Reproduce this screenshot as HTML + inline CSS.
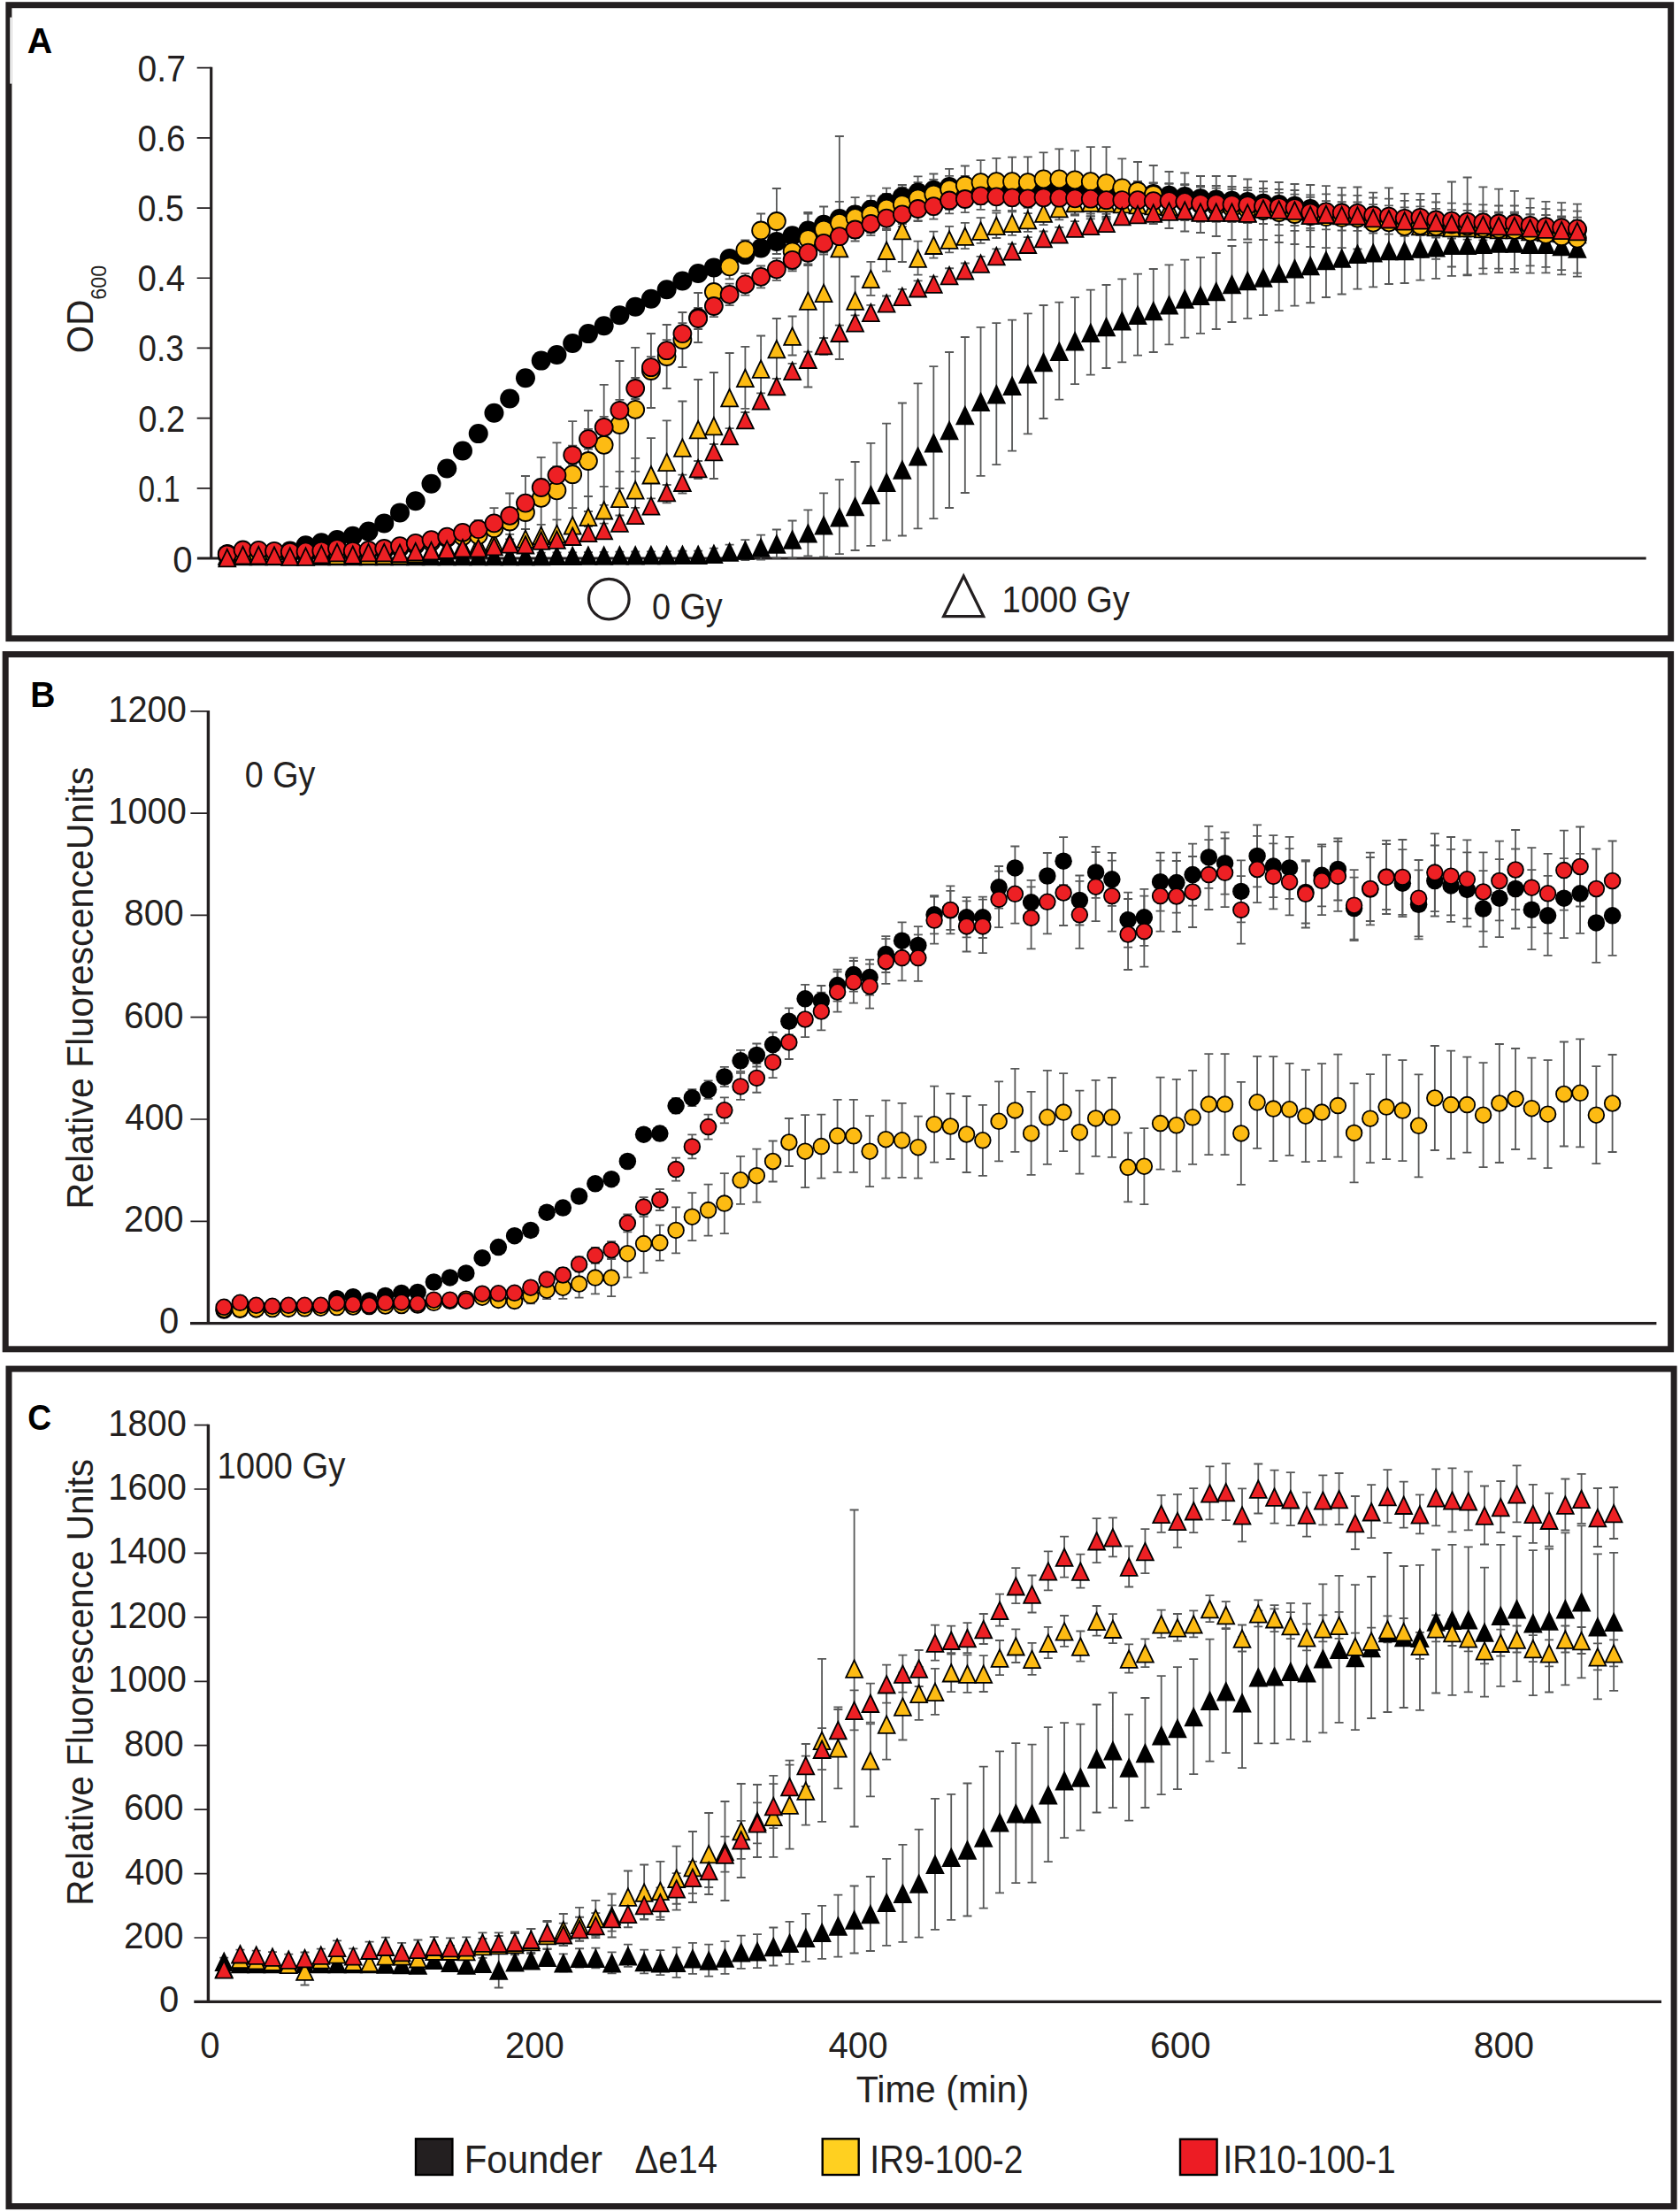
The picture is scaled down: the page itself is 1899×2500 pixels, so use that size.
<!DOCTYPE html><html><head><meta charset="utf-8"><title>Growth and fluorescence curves</title><style>html,body{margin:0;padding:0;background:#fff;overflow:hidden}svg{display:block}</style></head><body>
<svg width="1899" height="2500" viewBox="0 0 1899 2500" font-family="'Liberation Sans', Arial, sans-serif" fill="#231f20">
<rect width="1899" height="2500" fill="#fff"/>
<rect x="9.9" y="5.7" width="1878.75" height="715.90" fill="none" stroke="#231f20" stroke-width="7"/>
<rect x="11.3" y="19.6" width="2.2" height="75" fill="#fff"/>
<rect x="6.2" y="739.5" width="1882.40" height="785.30" fill="none" stroke="#231f20" stroke-width="7"/>
<rect x="10.0" y="1547.1" width="1882.10" height="946.50" fill="none" stroke="#231f20" stroke-width="7"/>
<path d="M238.7 75.85000000000001V631.0M222.9 631.0H1860.7" stroke="#231f20" stroke-width="3.2" fill="none"/>
<path d="M222.7 551.81H238.7M222.7 472.63H238.7M222.7 393.44H238.7M222.7 314.26H238.7M222.7 235.07H238.7M222.7 155.89H238.7M222.7 76.70H238.7" stroke="#231f20" stroke-width="1.7" fill="none"/>
<text transform="translate(156.34,566.81) scale(0.8025,1)" font-size="42.30" font-weight="normal" >0.1</text>
<text transform="translate(156.17,487.63) scale(0.9038,1)" font-size="42.30" font-weight="normal" >0.2</text>
<text transform="translate(156.21,408.44) scale(0.8807,1)" font-size="42.30" font-weight="normal" >0.3</text>
<text transform="translate(155.56,329.26) scale(0.9098,1)" font-size="42.30" font-weight="normal" >0.4</text>
<text transform="translate(155.59,250.07) scale(0.8897,1)" font-size="42.30" font-weight="normal" >0.5</text>
<text transform="translate(155.55,170.89) scale(0.9168,1)" font-size="42.30" font-weight="normal" >0.6</text>
<text transform="translate(155.54,91.70) scale(0.9238,1)" font-size="42.30" font-weight="normal" >0.7</text>
<text transform="translate(195.29,646.50) scale(0.9506,1)" font-size="42.30" font-weight="normal" >0</text>
<text transform="translate(30.81,60.40) scale(0.9826,1)" font-size="40.10" font-weight="bold" fill="#000" >A</text>
<text transform="translate(105.20,399.22) rotate(-90) scale(0.9490,1)" font-size="42.60" font-weight="normal" >OD</text>
<text transform="translate(119.70,338.87) rotate(-90) scale(0.9519,1)" font-size="24.60" font-weight="normal" >600</text>
<path d="M256.80 626.00V630.00M251.80 626.00H261.80M251.80 630.00H261.80M274.55 625.93V630.07M269.55 625.93H279.55M269.55 630.07H279.55M292.29 625.87V630.13M287.29 625.87H297.29M287.29 630.13H297.29M310.04 625.80V630.20M305.04 625.80H315.04M305.04 630.20H315.04M327.78 625.73V630.27M322.78 625.73H332.78M322.78 630.27H332.78M345.53 625.67V630.33M340.53 625.67H350.53M340.53 630.33H350.53M363.27 625.60V630.40M358.27 625.60H368.27M358.27 630.40H368.27M381.01 625.53V630.47M376.01 625.53H386.01M376.01 630.47H386.01M398.76 625.47V630.53M393.76 625.47H403.76M393.76 630.53H403.76M416.50 625.40V630.60M411.50 625.40H421.50M411.50 630.60H421.50M434.25 625.33V630.67M429.25 625.33H439.25M429.25 630.67H439.25M452.00 625.27V630.73M447.00 625.27H457.00M447.00 630.73H457.00M469.74 625.20V630.80M464.74 625.20H474.74M464.74 630.80H474.74M487.49 625.13V630.87M482.49 625.13H492.49M482.49 630.87H492.49M505.23 625.07V630.93M500.23 625.07H510.23M500.23 630.93H510.23M522.98 625.00V631.00M517.98 625.00H527.98M517.98 631.00H527.98M540.72 624.93V631.07M535.72 624.93H545.72M535.72 631.07H545.72M558.47 624.87V631.13M553.47 624.87H563.47M553.47 631.13H563.47M576.21 624.80V631.20M571.21 624.80H581.21M571.21 631.20H581.21M593.96 624.73V631.27M588.96 624.73H598.96M588.96 631.27H598.96M611.70 624.67V631.33M606.70 624.67H616.70M606.70 631.33H616.70M629.45 624.48V631.27M624.45 624.48H634.45M624.45 631.27H634.45M647.19 624.28V631.22M642.19 624.28H652.19M642.19 631.22H652.19M664.94 624.09V631.16M659.94 624.09H669.94M659.94 631.16H669.94M682.68 623.90V631.10M677.68 623.90H687.68M677.68 631.10H687.68M700.42 623.71V631.04M695.42 623.71H705.42M695.42 631.04H705.42M718.17 623.52V630.98M713.17 623.52H723.17M713.17 630.98H723.17M735.91 623.33V630.92M730.91 623.33H740.91M730.91 630.92H740.91M753.66 623.13V630.87M748.66 623.13H758.66M748.66 630.87H758.66M771.40 622.77V630.63M766.40 622.77H776.40M766.40 630.63H776.40M789.15 622.70V630.70M784.15 622.70H794.15M784.15 630.70H794.15M806.89 619.70V631.70M801.89 619.70H811.89M801.89 631.70H811.89M824.64 615.60V631.60M819.64 615.60H829.64M819.64 631.60H829.64M842.38 610.10V633.10M837.38 610.10H847.38M837.38 633.10H847.38M860.13 604.60V632.60M855.13 604.60H865.13M855.13 632.60H865.13M877.88 598.50V630.50M872.88 598.50H882.88M872.88 630.50H882.88M895.62 588.50V630.50M890.62 588.50H900.62M890.62 630.50H900.62M913.37 576.40V628.40M908.37 576.40H918.37M908.37 628.40H918.37M931.11 557.30V629.30M926.11 557.30H936.11M926.11 629.30H936.11M948.86 542.20V626.20M943.86 542.20H953.86M943.86 626.20H953.86M966.60 522.00V622.00M961.60 522.00H971.60M961.60 622.00H971.60M984.35 500.90V616.90M979.35 500.90H989.35M979.35 616.90H989.35M1002.09 478.70V610.70M997.09 478.70H1007.09M997.09 610.70H1007.09M1019.84 455.50V605.50M1014.84 455.50H1024.84M1014.84 605.50H1024.84M1037.58 433.40V597.40M1032.58 433.40H1042.58M1032.58 597.40H1042.58M1055.33 414.20V586.20M1050.33 414.20H1060.33M1050.33 586.20H1060.33M1073.07 398.00V574.00M1068.07 398.00H1078.07M1068.07 574.00H1078.07M1090.82 381.00V557.00M1085.82 381.00H1095.82M1085.82 557.00H1095.82M1108.56 369.80V537.80M1103.56 369.80H1113.56M1103.56 537.80H1113.56M1126.31 365.20V525.20M1121.31 365.20H1131.31M1121.31 525.20H1131.31M1144.05 361.70V509.70M1139.05 361.70H1149.05M1139.05 509.70H1149.05M1161.80 354.40V490.40M1156.80 354.40H1166.80M1156.80 490.40H1166.80M1179.54 345.00V473.00M1174.54 345.00H1184.54M1174.54 473.00H1184.54M1197.29 341.70V451.70M1192.29 341.70H1202.29M1192.29 451.70H1202.29M1215.03 336.20V434.20M1210.03 336.20H1220.03M1210.03 434.20H1220.03M1232.78 327.70V423.70M1227.78 327.70H1237.78M1227.78 423.70H1237.78M1250.52 322.00V416.00M1245.52 322.00H1255.52M1245.52 416.00H1255.52M1268.27 315.40V409.40M1263.27 315.40H1273.27M1263.27 409.40H1273.27M1286.01 309.70V401.70M1281.01 309.70H1291.01M1281.01 401.70H1291.01M1303.76 304.00V398.00M1298.76 304.00H1308.76M1298.76 398.00H1308.76M1321.50 299.30V389.30M1316.50 299.30H1326.50M1316.50 389.30H1326.50M1339.25 293.60V381.60M1334.25 293.60H1344.25M1334.25 381.60H1344.25M1356.99 290.80V376.80M1351.99 290.80H1361.99M1351.99 376.80H1361.99M1374.74 286.00V372.00M1369.74 286.00H1379.74M1369.74 372.00H1379.74M1392.48 278.00V364.00M1387.48 278.00H1397.48M1387.48 364.00H1397.48M1410.22 274.17V359.83M1405.22 274.17H1415.22M1405.22 359.83H1415.22M1427.97 270.83V356.17M1422.97 270.83H1432.97M1422.97 356.17H1432.97M1445.71 266.10V351.10M1440.71 266.10H1450.71M1440.71 351.10H1450.71M1463.46 260.87V345.53M1458.46 260.87H1468.46M1458.46 345.53H1468.46M1481.20 257.93V342.27M1476.20 257.93H1486.20M1476.20 342.27H1486.20M1498.95 252.00V336.00M1493.95 252.00H1503.95M1493.95 336.00H1503.95M1516.69 250.50V332.50M1511.69 250.50H1521.69M1511.69 332.50H1521.69M1534.44 246.70V326.70M1529.44 246.70H1539.44M1529.44 326.70H1539.44M1552.18 246.40V324.40M1547.18 246.40H1557.18M1547.18 324.40H1557.18M1569.93 245.00V321.00M1564.93 245.00H1574.93M1564.93 321.00H1574.93M1587.67 246.00V320.00M1582.67 246.00H1592.67M1582.67 320.00H1592.67M1605.42 244.60V316.60M1600.42 244.60H1610.42M1600.42 316.60H1610.42M1623.16 243.80V314.80M1618.16 243.80H1628.16M1618.16 314.80H1628.16M1640.91 241.90V311.90M1635.91 241.90H1645.91M1635.91 311.90H1645.91M1658.65 242.40V311.40M1653.65 242.40H1663.65M1653.65 311.40H1663.65M1676.40 241.70V309.70M1671.40 241.70H1681.40M1671.40 309.70H1681.40M1694.14 240.83V308.17M1689.14 240.83H1699.14M1689.14 308.17H1699.14M1711.89 241.17V307.83M1706.89 241.17H1716.89M1706.89 307.83H1716.89M1729.63 242.70V308.70M1724.63 242.70H1734.63M1724.63 308.70H1734.63M1747.38 243.03V308.37M1742.38 243.03H1752.38M1742.38 308.37H1752.38M1765.12 245.77V310.43M1760.12 245.77H1770.12M1760.12 310.43H1770.12M1782.87 248.60V312.60M1777.87 248.60H1787.87M1777.87 312.60H1787.87" stroke="#575858" stroke-width="1.8" fill="none"/>
<path d="M256.80 624.00V630.00M251.80 624.00H261.80M251.80 630.00H261.80M274.55 623.93V630.20M269.55 623.93H279.55M269.55 630.20H279.55M292.29 623.86V630.39M287.29 623.86H297.29M287.29 630.39H297.29M310.04 623.79V630.59M305.04 623.79H315.04M305.04 630.59H315.04M327.78 623.72V630.78M322.78 623.72H332.78M322.78 630.78H332.78M345.53 623.65V630.98M340.53 623.65H350.53M340.53 630.98H350.53M363.27 623.58V631.17M358.27 623.58H368.27M358.27 631.17H368.27M381.01 623.50V631.37M376.01 623.50H386.01M376.01 631.37H386.01M398.76 623.43V631.57M393.76 623.43H403.76M393.76 631.57H403.76M416.50 623.13V631.53M411.50 623.13H421.50M411.50 631.53H421.50M434.25 622.83V631.50M429.25 622.83H439.25M429.25 631.50H439.25M452.00 622.53V631.47M447.00 622.53H457.00M447.00 631.47H457.00M469.74 620.40V629.60M464.74 620.40H474.74M464.74 629.60H474.74M487.49 616.27V625.73M482.49 616.27H492.49M482.49 625.73H492.49M505.23 614.13V623.87M500.23 614.13H510.23M500.23 623.87H510.23M522.98 612.00V622.00M517.98 612.00H527.98M517.98 622.00H527.98M540.72 608.60V621.40M535.72 608.60H545.72M535.72 621.40H545.72M558.47 604.20V619.80M553.47 604.20H563.47M553.47 619.80H563.47M576.21 603.80V622.20M571.21 603.80H581.21M571.21 622.20H581.21M593.96 598.00V619.20M588.96 598.00H598.96M588.96 619.20H598.96M611.70 592.80V616.80M606.70 592.80H616.70M606.70 616.80H616.70M629.45 587.30V618.50M624.45 587.30H634.45M624.45 618.50H634.45M647.19 574.10V612.50M642.19 574.10H652.19M642.19 612.50H652.19M664.94 561.00V606.60M659.94 561.00H669.94M659.94 606.60H669.94M682.68 549.80V602.60M677.68 549.80H687.68M677.68 602.60H687.68M700.42 532.90V592.90M695.42 532.90H705.42M695.42 592.90H705.42M718.17 517.80V588.80M713.17 517.80H723.17M713.17 588.80H723.17M735.91 495.20V577.20M730.91 495.20H740.91M730.91 577.20H740.91M753.66 475.40V568.40M748.66 475.40H758.66M748.66 568.40H758.66M771.40 453.50V557.50M766.40 453.50H776.40M766.40 557.50H776.40M789.15 429.00V541.00M784.15 429.00H794.15M784.15 541.00H794.15M806.89 421.00V541.00M801.89 421.00H811.89M801.89 541.00H811.89M824.64 399.00V499.00M819.64 399.00H829.64M819.64 499.00H829.64M842.38 391.80V461.80M837.38 391.80H847.38M837.38 461.80H847.38M860.13 379.50V453.50M855.13 379.50H865.13M855.13 453.50H865.13M877.88 360.00V428.00M872.88 360.00H882.88M872.88 428.00H882.88M895.62 357.50V401.50M890.62 357.50H900.62M890.62 401.50H900.62M913.37 241.50V437.50M908.37 241.50H918.37M908.37 437.50H918.37M931.11 260.80V400.80M926.11 260.80H936.11M926.11 400.80H936.11M948.86 154.00V406.00M943.86 154.00H953.86M943.86 406.00H953.86M966.60 312.50V366.50M961.60 312.50H971.60M961.60 366.50H971.60M984.35 295.80V333.80M979.35 295.80H989.35M979.35 333.80H989.35M1002.09 258.70V306.70M997.09 258.70H1007.09M997.09 306.70H1007.09M1019.84 224.00V296.00M1014.84 224.00H1024.84M1014.84 296.00H1024.84M1037.58 272.60V310.60M1032.58 272.60H1042.58M1032.58 310.60H1042.58M1055.33 261.70V291.70M1050.33 261.70H1060.33M1050.33 291.70H1060.33M1073.07 255.80V285.40M1068.07 255.80H1078.07M1068.07 285.40H1078.07M1090.82 251.90V281.10M1085.82 251.90H1095.82M1085.82 281.10H1095.82M1108.56 246.10V274.90M1103.56 246.10H1113.56M1103.56 274.90H1113.56M1126.31 240.60V269.00M1121.31 240.60H1131.31M1121.31 269.00H1131.31M1144.05 237.90V265.90M1139.05 237.90H1149.05M1139.05 265.90H1149.05M1161.80 234.30V261.90M1156.80 234.30H1166.80M1156.80 261.90H1166.80M1179.54 226.90V254.10M1174.54 226.90H1184.54M1174.54 254.10H1184.54M1197.29 221.60V248.40M1192.29 221.60H1202.29M1192.29 248.40H1202.29M1215.03 215.80V242.20M1210.03 215.80H1220.03M1210.03 242.20H1220.03M1232.78 215.50V241.50M1227.78 215.50H1237.78M1227.78 241.50H1237.78M1250.52 216.20V241.80M1245.52 216.20H1255.52M1245.52 241.80H1255.52M1268.27 217.40V242.60M1263.27 217.40H1273.27M1263.27 242.60H1273.27M1286.01 218.60V243.40M1281.01 218.60H1291.01M1281.01 243.40H1291.01M1303.76 219.80V244.20M1298.76 219.80H1308.76M1298.76 244.20H1308.76M1321.50 221.00V245.00M1316.50 221.00H1326.50M1316.50 245.00H1326.50M1339.25 225.18V249.02M1334.25 225.18H1344.25M1334.25 249.02H1344.25M1356.99 227.15V250.85M1351.99 227.15H1361.99M1351.99 250.85H1361.99M1374.74 227.23V250.77M1369.74 227.23H1379.74M1369.74 250.77H1379.74M1392.48 227.31V250.69M1387.48 227.31H1397.48M1387.48 250.69H1397.48M1410.22 228.38V251.62M1405.22 228.38H1415.22M1405.22 251.62H1415.22M1427.97 223.46V246.54M1422.97 223.46H1432.97M1422.97 246.54H1432.97M1445.71 224.54V247.46M1440.71 224.54H1450.71M1440.71 247.46H1450.71M1463.46 225.62V248.38M1458.46 225.62H1468.46M1458.46 248.38H1468.46M1481.20 230.99V253.61M1476.20 230.99H1486.20M1476.20 253.61H1486.20M1498.95 230.07V252.53M1493.95 230.07H1503.95M1493.95 252.53H1503.95M1516.69 231.35V253.65M1511.69 231.35H1521.69M1511.69 253.65H1521.69M1534.44 231.72V253.88M1529.44 231.72H1539.44M1529.44 253.88H1539.44M1552.18 234.50V256.50M1547.18 234.50H1557.18M1547.18 256.50H1557.18M1569.93 235.78V257.62M1564.93 235.78H1574.93M1564.93 257.62H1574.93M1587.67 237.95V259.65M1582.67 237.95H1592.67M1582.67 259.65H1592.67M1605.42 244.23V265.77M1600.42 244.23H1610.42M1600.42 265.77H1610.42M1623.16 245.31V266.69M1618.16 245.31H1628.16M1618.16 266.69H1628.16M1640.91 246.38V267.62M1635.91 246.38H1645.91M1635.91 267.62H1645.91M1658.65 246.46V267.54M1653.65 246.46H1663.65M1653.65 267.54H1663.65M1676.40 247.54V268.46M1671.40 247.54H1681.40M1671.40 268.46H1681.40M1694.14 248.62V269.38M1689.14 248.62H1699.14M1689.14 269.38H1699.14M1711.89 248.69V269.31M1706.89 248.69H1716.89M1706.89 269.31H1716.89M1729.63 250.77V271.23M1724.63 250.77H1734.63M1724.63 271.23H1734.63M1747.38 251.85V272.15M1742.38 251.85H1752.38M1742.38 272.15H1752.38M1765.12 252.92V273.08M1760.12 252.92H1770.12M1760.12 273.08H1770.12M1782.87 254.00V274.00M1777.87 254.00H1787.87M1777.87 274.00H1787.87" stroke="#575858" stroke-width="1.8" fill="none"/>
<path d="M256.80 624.00V628.00M251.80 624.00H261.80M251.80 628.00H261.80M274.55 623.40V627.60M269.55 623.40H279.55M269.55 627.60H279.55M292.29 622.80V627.20M287.29 622.80H297.29M287.29 627.20H297.29M310.04 621.70V626.30M305.04 621.70H315.04M305.04 626.30H315.04M327.78 620.10V624.90M322.78 620.10H332.78M322.78 624.90H332.78M345.53 613.70V618.70M340.53 613.70H350.53M340.53 618.70H350.53M363.27 610.70V615.90M358.27 610.70H368.27M358.27 615.90H368.27M381.01 607.40V612.80M376.01 607.40H386.01M376.01 612.80H386.01M398.76 602.90V608.50M393.76 602.90H403.76M393.76 608.50H403.76M416.50 597.70V603.50M411.50 597.70H421.50M411.50 603.50H421.50M434.25 588.40V594.40M429.25 588.40H439.25M429.25 594.40H439.25M452.00 576.30V582.50M447.00 576.30H457.00M447.00 582.50H457.00M469.74 563.10V569.50M464.74 563.10H474.74M464.74 569.50H474.74M487.49 543.40V550.00M482.49 543.40H492.49M482.49 550.00H492.49M505.23 526.10V532.90M500.23 526.10H510.23M500.23 532.90H510.23M522.98 506.00V513.00M517.98 506.00H527.98M517.98 513.00H527.98M540.72 486.50V493.70M535.72 486.50H545.72M535.72 493.70H545.72M558.47 463.00V470.40M553.47 463.00H563.47M553.47 470.40H563.47M576.21 446.70V454.30M571.21 446.70H581.21M571.21 454.30H581.21M593.96 423.30V431.10M588.96 423.30H598.96M588.96 431.10H598.96M611.70 403.60V411.60M606.70 403.60H616.70M606.70 411.60H616.70M629.45 396.87V405.13M624.45 396.87H634.45M624.45 405.13H634.45M647.19 383.73V392.27M642.19 383.73H652.19M642.19 392.27H652.19M664.94 372.70V381.50M659.94 372.70H669.94M659.94 381.50H669.94M682.68 363.67V372.73M677.68 363.67H687.68M677.68 372.73H687.68M700.42 351.53V360.87M695.42 351.53H705.42M695.42 360.87H705.42M718.17 341.90V351.50M713.17 341.90H723.17M713.17 351.50H723.17M735.91 332.77V342.63M730.91 332.77H740.91M730.91 342.63H740.91M753.66 322.13V332.27M748.66 322.13H758.66M748.66 332.27H758.66M771.40 312.30V322.70M766.40 312.30H776.40M766.40 322.70H776.40M789.15 303.67V314.33M784.15 303.67H794.15M784.15 314.33H794.15M806.89 296.93V307.87M801.89 296.93H811.89M801.89 307.87H811.89M824.64 286.30V297.50M819.64 286.30H829.64M819.64 297.50H829.64M842.38 282.37V293.83M837.38 282.37H847.38M837.38 293.83H847.38M860.13 274.63V286.37M855.13 274.63H865.13M855.13 286.37H865.13M877.88 266.90V278.90M872.88 266.90H882.88M872.88 278.90H882.88M895.62 259.60V272.80M890.62 259.60H900.62M890.62 272.80H900.62M913.37 253.30V267.70M908.37 253.30H918.37M908.37 267.70H918.37M931.11 246.00V261.60M926.11 246.00H936.11M926.11 261.60H936.11M948.86 238.70V255.50M943.86 238.70H953.86M943.86 255.50H953.86M966.60 233.40V251.40M961.60 233.40H971.60M961.60 251.40H971.60M984.35 227.10V246.30M979.35 227.10H989.35M979.35 246.30H989.35M1002.09 218.80V239.20M997.09 218.80H1007.09M997.09 239.20H1007.09M1019.84 211.60V233.20M1014.84 211.60H1024.84M1014.84 233.20H1024.84M1037.58 206.20V229.00M1032.58 206.20H1042.58M1032.58 229.00H1042.58M1055.33 202.80V226.80M1050.33 202.80H1060.33M1050.33 226.80H1060.33M1073.07 198.95V223.05M1068.07 198.95H1078.07M1068.07 223.05H1078.07M1090.82 198.90V223.10M1085.82 198.90H1095.82M1085.82 223.10H1095.82M1108.56 199.35V223.65M1103.56 199.35H1113.56M1103.56 223.65H1113.56M1126.31 199.80V224.20M1121.31 199.80H1131.31M1121.31 224.20H1131.31M1144.05 200.76V225.24M1139.05 200.76H1149.05M1139.05 225.24H1149.05M1161.80 201.71V226.29M1156.80 201.71H1166.80M1156.80 226.29H1166.80M1179.54 201.66V226.34M1174.54 201.66H1184.54M1174.54 226.34H1184.54M1197.29 201.61V226.39M1192.29 201.61H1202.29M1192.29 226.39H1202.29M1215.03 202.06V226.94M1210.03 202.06H1220.03M1210.03 226.94H1220.03M1232.78 202.51V227.49M1227.78 202.51H1237.78M1227.78 227.49H1237.78M1250.52 202.96V228.04M1245.52 202.96H1255.52M1245.52 228.04H1255.52M1268.27 203.91V229.09M1263.27 203.91H1273.27M1263.27 229.09H1273.27M1286.01 204.87V230.13M1281.01 204.87H1291.01M1281.01 230.13H1291.01M1303.76 206.32V231.68M1298.76 206.32H1308.76M1298.76 231.68H1308.76M1321.50 207.97V233.43M1316.50 207.97H1326.50M1316.50 233.43H1326.50M1339.25 209.22V234.78M1334.25 209.22H1344.25M1334.25 234.78H1344.25M1356.99 211.47V237.13M1351.99 211.47H1361.99M1351.99 237.13H1361.99M1374.74 212.62V238.38M1369.74 212.62H1379.74M1369.74 238.38H1379.74M1392.48 213.77V239.63M1387.48 213.77H1397.48M1387.48 239.63H1397.48M1410.22 215.02V240.98M1405.22 215.02H1415.22M1405.22 240.98H1415.22M1427.97 216.68V242.72M1422.97 216.68H1432.97M1422.97 242.72H1432.97M1445.71 217.93V244.07M1440.71 217.93H1450.71M1440.71 244.07H1450.71M1463.46 219.58V245.82M1458.46 219.58H1468.46M1458.46 245.82H1468.46M1481.20 222.83V249.17M1476.20 222.83H1486.20M1476.20 249.17H1486.20M1498.95 227.08V253.52M1493.95 227.08H1503.95M1493.95 253.52H1503.95M1516.69 228.23V254.77M1511.69 228.23H1521.69M1511.69 254.77H1521.69M1534.44 228.48V255.12M1529.44 228.48H1539.44M1529.44 255.12H1539.44M1552.18 231.13V257.87M1547.18 231.13H1557.18M1547.18 257.87H1557.18M1569.93 232.29V259.11M1564.93 232.29H1574.93M1564.93 259.11H1574.93M1587.67 234.34V261.26M1582.67 234.34H1592.67M1582.67 261.26H1592.67M1605.42 233.29V260.31M1600.42 233.29H1610.42M1600.42 260.31H1610.42M1623.16 235.94V263.06M1618.16 235.94H1628.16M1618.16 263.06H1628.16M1640.91 237.09V264.31M1635.91 237.09H1645.91M1635.91 264.31H1645.91M1658.65 237.94V265.26M1653.65 237.94H1663.65M1653.65 265.26H1663.65M1676.40 238.69V266.11M1671.40 238.69H1681.40M1671.40 266.11H1681.40M1694.14 239.74V267.26M1689.14 239.74H1699.14M1689.14 267.26H1699.14M1711.89 239.70V267.30M1706.89 239.70H1716.89M1706.89 267.30H1716.89M1729.63 242.05V269.75M1724.63 242.05H1734.63M1724.63 269.75H1734.63M1747.38 243.20V271.00M1742.38 243.20H1752.38M1742.38 271.00H1752.38M1765.12 244.45V272.35M1760.12 244.45H1770.12M1760.12 272.35H1770.12M1782.87 245.60V273.60M1777.87 245.60H1787.87M1777.87 273.60H1787.87" stroke="#575858" stroke-width="1.8" fill="none"/>
<path d="M256.80 625.00V631.00M251.80 625.00H261.80M251.80 631.00H261.80M274.55 624.42V630.58M269.55 624.42H279.55M269.55 630.58H279.55M292.29 623.83V630.17M287.29 623.83H297.29M287.29 630.17H297.29M310.04 623.25V629.75M305.04 623.25H315.04M305.04 629.75H315.04M327.78 622.67V629.33M322.78 622.67H332.78M322.78 629.33H332.78M345.53 622.08V628.92M340.53 622.08H350.53M340.53 628.92H350.53M363.27 621.30V628.30M358.27 621.30H368.27M358.27 628.30H368.27M381.01 620.52V627.68M376.01 620.52H386.01M376.01 627.68H386.01M398.76 619.73V627.07M393.76 619.73H403.76M393.76 627.07H403.76M416.50 618.95V626.45M411.50 618.95H421.50M411.50 626.45H421.50M434.25 618.17V625.83M429.25 618.17H439.25M429.25 625.83H439.25M452.00 615.08V622.92M447.00 615.08H457.00M447.00 622.92H457.00M469.74 612.00V620.00M464.74 612.00H474.74M464.74 620.00H474.74M487.49 606.50V618.50M482.49 606.50H492.49M482.49 618.50H492.49M505.23 600.00V616.00M500.23 600.00H510.23M500.23 616.00H510.23M522.98 596.00V616.00M517.98 596.00H527.98M517.98 616.00H527.98M540.72 587.80V621.80M535.72 587.80H545.72M535.72 621.80H545.72M558.47 574.10V620.10M553.47 574.10H563.47M553.47 620.10H563.47M576.21 557.50V621.50M571.21 557.50H581.21M571.21 621.50H581.21M593.96 538.00V620.00M588.96 538.00H598.96M588.96 620.00H598.96M611.70 516.90V608.90M606.70 516.90H616.70M606.70 608.90H616.70M629.45 500.30V608.30M624.45 500.30H634.45M624.45 608.30H634.45M647.19 476.20V596.20M642.19 476.20H652.19M642.19 596.20H652.19M664.94 464.00V578.00M659.94 464.00H669.94M659.94 578.00H669.94M682.68 434.90V570.90M677.68 434.90H687.68M677.68 570.90H687.68M700.42 408.00V552.00M695.42 408.00H705.42M695.42 552.00H705.42M718.17 392.90V532.90M713.17 392.90H723.17M713.17 532.90H723.17M735.91 377.00V461.00M730.91 377.00H740.91M730.91 461.00H740.91M753.66 367.00V439.00M748.66 367.00H758.66M748.66 439.00H758.66M771.40 353.00V415.00M766.40 353.00H776.40M766.40 415.00H776.40M789.15 331.00V387.00M784.15 331.00H794.15M784.15 387.00H794.15M806.89 310.00V350.00M801.89 310.00H811.89M801.89 350.00H811.89M824.64 287.40V315.40M819.64 287.40H829.64M819.64 315.40H829.64M842.38 271.40V293.40M837.38 271.40H847.38M837.38 293.40H847.38M860.13 241.50V279.50M855.13 241.50H865.13M855.13 279.50H865.13M877.88 213.00V287.00M872.88 213.00H882.88M872.88 287.00H882.88M895.62 264.30V304.30M890.62 264.30H900.62M890.62 304.30H900.62M913.37 240.00V300.00M908.37 240.00H918.37M908.37 300.00H918.37M931.11 233.50V285.50M926.11 233.50H936.11M926.11 285.50H936.11M948.86 227.90V275.90M943.86 227.90H953.86M943.86 275.90H953.86M966.60 223.20V269.20M961.60 223.20H971.60M961.60 269.20H971.60M984.35 221.40V263.40M979.35 221.40H989.35M979.35 263.40H989.35M1002.09 212.70V258.70M997.09 212.70H1007.09M997.09 258.70H1007.09M1019.84 209.00V253.00M1014.84 209.00H1024.84M1014.84 253.00H1024.84M1037.58 199.30V249.30M1032.58 199.30H1042.58M1032.58 249.30H1042.58M1055.33 196.50V242.50M1050.33 196.50H1060.33M1050.33 242.50H1060.33M1073.07 190.80V236.80M1068.07 190.80H1078.07M1068.07 236.80H1078.07M1090.82 187.50V231.50M1085.82 187.50H1095.82M1085.82 231.50H1095.82M1108.56 181.20V231.20M1103.56 181.20H1113.56M1103.56 231.20H1113.56M1126.31 178.95V231.45M1121.31 178.95H1131.31M1121.31 231.45H1131.31M1144.05 177.70V232.70M1139.05 177.70H1149.05M1139.05 232.70H1149.05M1161.80 177.45V234.95M1156.80 177.45H1166.80M1156.80 234.95H1166.80M1179.54 172.40V232.40M1174.54 172.40H1184.54M1174.54 232.40H1184.54M1197.29 168.40V236.40M1192.29 168.40H1202.29M1192.29 236.40H1202.29M1215.03 170.30V236.30M1210.03 170.30H1220.03M1210.03 236.30H1220.03M1232.78 166.20V244.20M1227.78 166.20H1237.78M1227.78 244.20H1237.78M1250.52 166.10V248.10M1245.52 166.10H1255.52M1245.52 248.10H1255.52M1268.27 179.30V245.30M1263.27 179.30H1273.27M1263.27 245.30H1273.27M1286.01 183.00V249.00M1281.01 183.00H1291.01M1281.01 249.00H1291.01M1303.76 187.00V253.00M1298.76 187.00H1308.76M1298.76 253.00H1308.76M1321.50 194.00V258.00M1316.50 194.00H1326.50M1316.50 258.00H1326.50M1339.25 195.50V261.50M1334.25 195.50H1344.25M1334.25 261.50H1344.25M1356.99 199.00V263.00M1351.99 199.00H1361.99M1351.99 263.00H1361.99M1374.74 199.00V267.00M1369.74 199.00H1379.74M1369.74 267.00H1379.74M1392.48 199.00V271.00M1387.48 199.00H1397.48M1387.48 271.00H1397.48M1410.22 202.50V270.50M1405.22 202.50H1415.22M1405.22 270.50H1415.22M1427.97 205.00V271.00M1422.97 205.00H1432.97M1422.97 271.00H1432.97M1445.71 206.00V274.00M1440.71 206.00H1450.71M1440.71 274.00H1450.71M1463.46 208.00V276.00M1458.46 208.00H1468.46M1458.46 276.00H1468.46M1481.20 209.00V279.00M1476.20 209.00H1486.20M1476.20 279.00H1486.20M1498.95 210.10V280.10M1493.95 210.10H1503.95M1493.95 280.10H1503.95M1516.69 212.20V280.20M1511.69 212.20H1521.69M1511.69 280.20H1521.69M1534.44 211.50V281.50M1529.44 211.50H1539.44M1529.44 281.50H1539.44M1552.18 217.60V285.60M1547.18 217.60H1557.18M1547.18 285.60H1557.18M1569.93 212.30V290.30M1564.93 212.30H1574.93M1564.93 290.30H1574.93M1587.67 218.80V292.80M1582.67 218.80H1592.67M1582.67 292.80H1592.67M1605.42 218.80V290.80M1600.42 218.80H1610.42M1600.42 290.80H1610.42M1623.16 218.80V292.80M1618.16 218.80H1628.16M1618.16 292.80H1628.16M1640.91 205.50V301.50M1635.91 205.50H1645.91M1635.91 301.50H1645.91M1658.65 200.50V310.50M1653.65 200.50H1663.65M1653.65 310.50H1663.65M1676.40 211.40V303.40M1671.40 211.40H1681.40M1671.40 303.40H1681.40M1694.14 213.70V303.70M1689.14 213.70H1699.14M1689.14 303.70H1699.14M1711.89 215.90V303.90M1706.89 215.90H1716.89M1706.89 303.90H1716.89M1729.63 224.30V300.30M1724.63 224.30H1734.63M1724.63 300.30H1734.63M1747.38 227.80V301.80M1742.38 227.80H1752.38M1742.38 301.80H1752.38M1765.12 229.20V305.20M1760.12 229.20H1770.12M1760.12 305.20H1770.12M1782.87 230.60V308.60M1777.87 230.60H1787.87M1777.87 308.60H1787.87" stroke="#575858" stroke-width="1.8" fill="none"/>
<path d="M256.80 623.50V629.50M251.80 623.50H261.80M251.80 629.50H261.80M274.55 618.36V624.64M269.55 618.36H279.55M269.55 624.64H279.55M292.29 618.61V625.19M287.29 618.61H297.29M287.29 625.19H297.29M310.04 619.37V626.23M305.04 619.37H315.04M305.04 626.23H315.04M327.78 620.23V627.37M322.78 620.23H332.78M322.78 627.37H332.78M345.53 619.69V627.11M340.53 619.69H350.53M340.53 627.11H350.53M363.27 618.64V626.36M358.27 618.64H368.27M358.27 626.36H368.27M381.01 616.00V624.00M376.01 616.00H386.01M376.01 624.00H386.01M398.76 618.66V626.94M393.76 618.66H403.76M393.76 626.94H403.76M416.50 617.61V626.19M411.50 617.61H421.50M411.50 626.19H421.50M434.25 615.57V624.43M429.25 615.57H439.25M429.25 624.43H439.25M452.00 612.53V621.67M447.00 612.53H457.00M447.00 621.67H457.00M469.74 609.19V618.61M464.74 609.19H474.74M464.74 618.61H474.74M487.49 605.24V614.96M482.49 605.24H492.49M482.49 614.96H492.49M505.23 601.70V611.70M500.23 601.70H510.23M500.23 611.70H510.23M522.98 596.15V607.65M517.98 596.15H527.98M517.98 607.65H527.98M540.72 591.60V604.60M535.72 591.60H545.72M535.72 604.60H545.72M558.47 584.15V598.65M553.47 584.15H563.47M553.47 598.65H563.47M576.21 574.90V590.90M571.21 574.90H581.21M571.21 590.90H581.21M593.96 559.93V577.27M588.96 559.93H598.96M588.96 577.27H598.96M611.70 541.67V560.33M606.70 541.67H616.70M606.70 560.33H616.70M629.45 527.10V547.10M624.45 527.10H634.45M624.45 547.10H634.45M647.19 503.63V524.97M642.19 503.63H652.19M642.19 524.97H652.19M664.94 484.87V507.53M659.94 484.87H669.94M659.94 507.53H669.94M682.68 470.90V494.90M677.68 470.90H687.68M677.68 494.90H687.68M700.42 451.80V475.80M695.42 451.80H705.42M695.42 475.80H705.42M718.17 427.00V451.00M713.17 427.00H723.17M713.17 451.00H723.17M735.91 403.20V427.20M730.91 403.20H740.91M730.91 427.20H740.91M753.66 384.20V408.20M748.66 384.20H758.66M748.66 408.20H758.66M771.40 365.10V389.10M766.40 365.10H776.40M766.40 389.10H776.40M789.15 348.00V372.00M784.15 348.00H794.15M784.15 372.00H794.15M806.89 333.90V358.10M801.89 333.90H811.89M801.89 358.10H811.89M824.64 320.70V345.10M819.64 320.70H829.64M819.64 345.10H829.64M842.38 309.10V333.70M837.38 309.10H847.38M837.38 333.70H847.38M860.13 300.50V325.30M855.13 300.50H865.13M855.13 325.30H865.13M877.88 291.80V316.80M872.88 291.80H882.88M872.88 316.80H882.88M895.62 281.20V306.40M890.62 281.20H900.62M890.62 306.40H900.62M913.37 273.00V298.40M908.37 273.00H918.37M908.37 298.40H918.37M931.11 262.10V287.70M926.11 262.10H936.11M926.11 287.70H936.11M948.86 254.30V280.10M943.86 254.30H953.86M943.86 280.10H953.86M966.60 246.50V272.50M961.60 246.50H971.60M961.60 272.50H971.60M984.35 239.60V266.20M979.35 239.60H989.35M979.35 266.20H989.35M1002.09 233.00V260.20M997.09 233.00H1007.09M997.09 260.20H1007.09M1019.84 228.40V256.20M1014.84 228.40H1024.84M1014.84 256.20H1024.84M1037.58 221.80V250.20M1032.58 221.80H1042.58M1032.58 250.20H1042.58M1055.33 218.60V247.60M1050.33 218.60H1060.33M1050.33 247.60H1060.33M1073.07 211.70V241.30M1068.07 211.70H1078.07M1068.07 241.30H1078.07M1090.82 209.90V240.10M1085.82 209.90H1095.82M1085.82 240.10H1095.82M1108.56 206.00V236.80M1103.56 206.00H1113.56M1103.56 236.80H1113.56M1126.31 206.70V238.10M1121.31 206.70H1131.31M1121.31 238.10H1131.31M1144.05 207.30V239.30M1139.05 207.30H1149.05M1139.05 239.30H1149.05M1161.80 207.50V241.10M1156.80 207.50H1166.80M1156.80 241.10H1166.80M1179.54 205.70V240.90M1174.54 205.70H1184.54M1174.54 240.90H1184.54M1197.29 205.30V242.10M1192.29 205.30H1202.29M1192.29 242.10H1202.29M1215.03 205.10V243.50M1210.03 205.10H1220.03M1210.03 243.50H1220.03M1232.78 204.70V244.70M1227.78 204.70H1237.78M1227.78 244.70H1237.78M1250.52 206.20V246.20M1245.52 206.20H1255.52M1245.52 246.20H1255.52M1268.27 206.20V246.20M1263.27 206.20H1273.27M1263.27 246.20H1273.27M1286.01 206.20V246.20M1281.01 206.20H1291.01M1281.01 246.20H1291.01M1303.76 207.10V247.10M1298.76 207.10H1308.76M1298.76 247.10H1308.76M1321.50 207.10V247.10M1316.50 207.10H1326.50M1316.50 247.10H1326.50M1339.25 208.10V248.10M1334.25 208.10H1344.25M1334.25 248.10H1344.25M1356.99 210.00V250.00M1351.99 210.00H1361.99M1351.99 250.00H1361.99M1374.74 210.00V250.00M1369.74 210.00H1379.74M1369.74 250.00H1379.74M1392.48 211.00V251.00M1387.48 211.00H1397.48M1387.48 251.00H1397.48M1410.22 212.00V252.00M1405.22 212.00H1415.22M1405.22 252.00H1415.22M1427.97 213.00V253.00M1422.97 213.00H1432.97M1422.97 253.00H1432.97M1445.71 214.00V254.00M1440.71 214.00H1450.71M1440.71 254.00H1450.71M1463.46 215.00V255.00M1458.46 215.00H1468.46M1458.46 255.00H1468.46M1481.20 220.30V260.30M1476.20 220.30H1486.20M1476.20 260.30H1486.20M1498.95 219.30V259.30M1493.95 219.30H1503.95M1493.95 259.30H1503.95M1516.69 220.50V260.50M1511.69 220.50H1521.69M1511.69 260.50H1521.69M1534.44 220.80V260.80M1529.44 220.80H1539.44M1529.44 260.80H1539.44M1552.18 223.50V263.50M1547.18 223.50H1557.18M1547.18 263.50H1557.18M1569.93 224.70V264.70M1564.93 224.70H1574.93M1564.93 264.70H1574.93M1587.67 226.80V266.80M1582.67 226.80H1592.67M1582.67 266.80H1592.67M1605.42 225.80V265.80M1600.42 225.80H1610.42M1600.42 265.80H1610.42M1623.16 228.50V268.50M1618.16 228.50H1628.16M1618.16 268.50H1628.16M1640.91 229.70V269.70M1635.91 229.70H1645.91M1635.91 269.70H1645.91M1658.65 230.60V270.60M1653.65 230.60H1663.65M1653.65 270.60H1663.65M1676.40 231.40V271.40M1671.40 231.40H1681.40M1671.40 271.40H1681.40M1694.14 232.50V272.50M1689.14 232.50H1699.14M1689.14 272.50H1699.14M1711.89 232.50V272.50M1706.89 232.50H1716.89M1706.89 272.50H1716.89M1729.63 234.90V274.90M1724.63 234.90H1734.63M1724.63 274.90H1734.63M1747.38 236.10V276.10M1742.38 236.10H1752.38M1742.38 276.10H1752.38M1765.12 237.40V277.40M1760.12 237.40H1770.12M1760.12 277.40H1770.12M1782.87 238.60V278.60M1777.87 238.60H1787.87M1777.87 278.60H1787.87" stroke="#575858" stroke-width="1.8" fill="none"/>
<path d="M256.80 627.00V633.00M251.80 627.00H261.80M251.80 633.00H261.80M274.55 623.90V630.10M269.55 623.90H279.55M269.55 630.10H279.55M292.29 623.80V630.20M287.29 623.80H297.29M287.29 630.20H297.29M310.04 624.30V630.90M305.04 624.30H315.04M305.04 630.90H315.04M327.78 625.20V632.00M322.78 625.20H332.78M322.78 632.00H332.78M345.53 625.10V632.10M340.53 625.10H350.53M340.53 632.10H350.53M363.27 622.40V629.60M358.27 622.40H368.27M358.27 629.60H368.27M381.01 620.30V627.70M376.01 620.30H386.01M376.01 627.70H386.01M398.76 622.90V630.50M393.76 622.90H403.76M393.76 630.50H403.76M416.50 620.10V627.90M411.50 620.10H421.50M411.50 627.90H421.50M434.25 620.00V628.00M429.25 620.00H439.25M429.25 628.00H439.25M452.00 620.70V628.90M447.00 620.70H457.00M447.00 628.90H457.00M469.74 618.80V627.20M464.74 618.80H474.74M464.74 627.20H474.74M487.49 617.70V626.30M482.49 617.70H492.49M482.49 626.30H492.49M505.23 616.10V624.90M500.23 616.10H510.23M500.23 624.90H510.23M522.98 614.50V623.50M517.98 614.50H527.98M517.98 623.50H527.98M540.72 614.40V623.60M535.72 614.40H545.72M535.72 623.60H545.72M558.47 612.30V621.70M553.47 612.30H563.47M553.47 621.70H563.47M576.21 609.50V619.10M571.21 609.50H581.21M571.21 619.10H581.21M593.96 610.30V620.10M588.96 610.30H598.96M588.96 620.10H598.96M611.70 605.50V615.50M606.70 605.50H616.70M606.70 615.50H616.70M629.45 603.90V615.10M624.45 603.90H634.45M624.45 615.10H634.45M647.19 599.50V611.90M642.19 599.50H652.19M642.19 611.90H652.19M664.94 595.10V608.70M659.94 595.10H669.94M659.94 608.70H669.94M682.68 591.60V606.40M677.68 591.60H687.68M677.68 606.40H687.68M700.42 582.50V598.50M695.42 582.50H705.42M695.42 598.50H705.42M718.17 573.90V589.90M713.17 573.90H723.17M713.17 589.90H723.17M735.91 563.40V579.40M730.91 563.40H740.91M730.91 579.40H740.91M753.66 548.00V564.00M748.66 548.00H758.66M748.66 564.00H758.66M771.40 536.70V552.70M766.40 536.70H776.40M766.40 552.70H776.40M789.15 521.00V537.00M784.15 521.00H794.15M784.15 537.00H794.15M806.89 502.00V518.00M801.89 502.00H811.89M801.89 518.00H811.89M824.64 484.10V500.10M819.64 484.10H829.64M819.64 500.10H829.64M842.38 466.00V482.00M837.38 466.00H847.38M837.38 482.00H847.38M860.13 444.30V460.30M855.13 444.30H865.13M855.13 460.30H865.13M877.88 428.00V444.00M872.88 428.00H882.88M872.88 444.00H882.88M895.62 410.80V426.80M890.62 410.80H900.62M890.62 426.80H900.62M913.37 397.70V413.70M908.37 397.70H918.37M908.37 413.70H918.37M931.11 382.00V398.00M926.11 382.00H936.11M926.11 398.00H936.11M948.86 367.70V383.70M943.86 367.70H953.86M943.86 383.70H953.86M966.60 356.30V372.30M961.60 356.30H971.60M961.60 372.30H971.60M984.35 344.94V360.86M979.35 344.94H989.35M979.35 360.86H989.35M1002.09 334.49V350.31M997.09 334.49H1007.09M997.09 350.31H1007.09M1019.84 326.93V342.67M1014.84 326.93H1024.84M1014.84 342.67H1024.84M1037.58 317.37V333.03M1032.58 317.37H1042.58M1032.58 333.03H1042.58M1055.33 312.72V328.28M1050.33 312.72H1060.33M1050.33 328.28H1060.33M1073.07 303.26V318.74M1068.07 303.26H1078.07M1068.07 318.74H1078.07M1090.82 297.50V312.90M1085.82 297.50H1095.82M1085.82 312.90H1095.82M1108.56 289.95V305.25M1103.56 289.95H1113.56M1103.56 305.25H1113.56M1126.31 281.39V296.61M1121.31 281.39H1131.31M1121.31 296.61H1131.31M1144.05 275.73V290.87M1139.05 275.73H1149.05M1139.05 290.87H1149.05M1161.80 268.18V283.22M1156.80 268.18H1166.80M1156.80 283.22H1166.80M1179.54 261.52V276.48M1174.54 261.52H1184.54M1174.54 276.48H1184.54M1197.29 256.87V271.73M1192.29 256.87H1202.29M1192.29 271.73H1202.29M1215.03 250.21V264.99M1210.03 250.21H1220.03M1210.03 264.99H1220.03M1232.78 247.45V262.15M1227.78 247.45H1237.78M1227.78 262.15H1237.78M1250.52 244.60V259.20M1245.52 244.60H1255.52M1245.52 259.20H1255.52M1268.27 236.74V251.26M1263.27 236.74H1273.27M1263.27 251.26H1273.27M1286.01 234.78V249.22M1281.01 234.78H1291.01M1281.01 249.22H1291.01M1303.76 233.33V247.67M1298.76 233.33H1308.76M1298.76 247.67H1308.76M1321.50 231.47V245.73M1316.50 231.47H1326.50M1316.50 245.73H1326.50M1339.25 230.51V244.69M1334.25 230.51H1344.25M1334.25 244.69H1344.25M1356.99 232.46V246.54M1351.99 232.46H1361.99M1351.99 246.54H1361.99M1374.74 232.50V246.50M1369.74 232.50H1379.74M1369.74 246.50H1379.74M1392.48 232.54V246.46M1387.48 232.54H1397.48M1387.48 246.46H1397.48M1410.22 233.59V247.41M1405.22 233.59H1415.22M1405.22 247.41H1415.22M1427.97 228.63V242.37M1422.97 228.63H1432.97M1422.97 242.37H1432.97M1445.71 229.67V243.33M1440.71 229.67H1450.71M1440.71 243.33H1450.71M1463.46 230.72V244.28M1458.46 230.72H1468.46M1458.46 244.28H1468.46M1481.20 236.06V249.54M1476.20 236.06H1486.20M1476.20 249.54H1486.20M1498.95 235.10V248.50M1493.95 235.10H1503.95M1493.95 248.50H1503.95M1516.69 236.35V249.65M1511.69 236.35H1521.69M1511.69 249.65H1521.69M1534.44 236.69V249.91M1529.44 236.69H1539.44M1529.44 249.91H1539.44M1552.18 239.43V252.57M1547.18 239.43H1557.18M1547.18 252.57H1557.18M1569.93 240.68V253.72M1564.93 240.68H1574.93M1564.93 253.72H1574.93M1587.67 242.82V255.78M1582.67 242.82H1592.67M1582.67 255.78H1592.67M1605.42 241.87V254.73M1600.42 241.87H1610.42M1600.42 254.73H1610.42M1623.16 244.61V257.39M1618.16 244.61H1628.16M1618.16 257.39H1628.16M1640.91 245.85V258.55M1635.91 245.85H1645.91M1635.91 258.55H1645.91M1658.65 246.80V259.40M1653.65 246.80H1663.65M1653.65 259.40H1663.65M1676.40 247.64V260.16M1671.40 247.64H1681.40M1671.40 260.16H1681.40M1694.14 248.78V261.22M1689.14 248.78H1699.14M1689.14 261.22H1699.14M1711.89 248.83V261.17M1706.89 248.83H1716.89M1706.89 261.17H1716.89M1729.63 251.27V263.53M1724.63 251.27H1734.63M1724.63 263.53H1734.63M1747.38 252.51V264.69M1742.38 252.51H1752.38M1742.38 264.69H1752.38M1765.12 253.86V265.94M1760.12 253.86H1770.12M1760.12 265.94H1770.12M1782.87 255.10V267.10M1777.87 255.10H1787.87M1777.87 267.10H1787.87" stroke="#575858" stroke-width="1.8" fill="none"/>
<g><path d="M256.80 618.80L266.20 638.30L247.40 638.30Z" fill="#000000" stroke="#000" stroke-width="1.8" stroke-miterlimit="10"/><path d="M274.55 618.80L283.94 638.30L265.15 638.30Z" fill="#000000" stroke="#000" stroke-width="1.8" stroke-miterlimit="10"/><path d="M292.29 618.80L301.69 638.30L282.89 638.30Z" fill="#000000" stroke="#000" stroke-width="1.8" stroke-miterlimit="10"/><path d="M310.04 618.80L319.44 638.30L300.64 638.30Z" fill="#000000" stroke="#000" stroke-width="1.8" stroke-miterlimit="10"/><path d="M327.78 618.80L337.18 638.30L318.38 638.30Z" fill="#000000" stroke="#000" stroke-width="1.8" stroke-miterlimit="10"/><path d="M345.53 618.80L354.93 638.30L336.13 638.30Z" fill="#000000" stroke="#000" stroke-width="1.8" stroke-miterlimit="10"/><path d="M363.27 618.80L372.67 638.30L353.87 638.30Z" fill="#000000" stroke="#000" stroke-width="1.8" stroke-miterlimit="10"/><path d="M381.01 618.80L390.41 638.30L371.62 638.30Z" fill="#000000" stroke="#000" stroke-width="1.8" stroke-miterlimit="10"/><path d="M398.76 618.80L408.16 638.30L389.36 638.30Z" fill="#000000" stroke="#000" stroke-width="1.8" stroke-miterlimit="10"/><path d="M416.50 618.80L425.90 638.30L407.11 638.30Z" fill="#000000" stroke="#000" stroke-width="1.8" stroke-miterlimit="10"/><path d="M434.25 618.80L443.65 638.30L424.85 638.30Z" fill="#000000" stroke="#000" stroke-width="1.8" stroke-miterlimit="10"/><path d="M452.00 618.80L461.39 638.30L442.60 638.30Z" fill="#000000" stroke="#000" stroke-width="1.8" stroke-miterlimit="10"/><path d="M469.74 618.80L479.14 638.30L460.34 638.30Z" fill="#000000" stroke="#000" stroke-width="1.8" stroke-miterlimit="10"/><path d="M487.49 618.80L496.88 638.30L478.09 638.30Z" fill="#000000" stroke="#000" stroke-width="1.8" stroke-miterlimit="10"/><path d="M505.23 618.80L514.63 638.30L495.83 638.30Z" fill="#000000" stroke="#000" stroke-width="1.8" stroke-miterlimit="10"/><path d="M522.98 618.80L532.38 638.30L513.58 638.30Z" fill="#000000" stroke="#000" stroke-width="1.8" stroke-miterlimit="10"/><path d="M540.72 618.80L550.12 638.30L531.32 638.30Z" fill="#000000" stroke="#000" stroke-width="1.8" stroke-miterlimit="10"/><path d="M558.47 618.80L567.87 638.30L549.07 638.30Z" fill="#000000" stroke="#000" stroke-width="1.8" stroke-miterlimit="10"/><path d="M576.21 618.80L585.61 638.30L566.81 638.30Z" fill="#000000" stroke="#000" stroke-width="1.8" stroke-miterlimit="10"/><path d="M593.96 618.80L603.36 638.30L584.56 638.30Z" fill="#000000" stroke="#000" stroke-width="1.8" stroke-miterlimit="10"/><path d="M611.70 618.80L621.10 638.30L602.30 638.30Z" fill="#000000" stroke="#000" stroke-width="1.8" stroke-miterlimit="10"/><path d="M629.45 618.67L638.85 638.17L620.05 638.17Z" fill="#000000" stroke="#000" stroke-width="1.8" stroke-miterlimit="10"/><path d="M647.19 618.55L656.59 638.05L637.79 638.05Z" fill="#000000" stroke="#000" stroke-width="1.8" stroke-miterlimit="10"/><path d="M664.94 618.42L674.34 637.92L655.54 637.92Z" fill="#000000" stroke="#000" stroke-width="1.8" stroke-miterlimit="10"/><path d="M682.68 618.30L692.08 637.80L673.28 637.80Z" fill="#000000" stroke="#000" stroke-width="1.8" stroke-miterlimit="10"/><path d="M700.42 618.17L709.82 637.67L691.02 637.67Z" fill="#000000" stroke="#000" stroke-width="1.8" stroke-miterlimit="10"/><path d="M718.17 618.05L727.57 637.55L708.77 637.55Z" fill="#000000" stroke="#000" stroke-width="1.8" stroke-miterlimit="10"/><path d="M735.91 617.92L745.31 637.42L726.51 637.42Z" fill="#000000" stroke="#000" stroke-width="1.8" stroke-miterlimit="10"/><path d="M753.66 617.80L763.06 637.30L744.26 637.30Z" fill="#000000" stroke="#000" stroke-width="1.8" stroke-miterlimit="10"/><path d="M771.40 617.50L780.80 637.00L762.00 637.00Z" fill="#000000" stroke="#000" stroke-width="1.8" stroke-miterlimit="10"/><path d="M789.15 617.50L798.55 637.00L779.75 637.00Z" fill="#000000" stroke="#000" stroke-width="1.8" stroke-miterlimit="10"/><path d="M806.89 616.50L816.29 636.00L797.50 636.00Z" fill="#000000" stroke="#000" stroke-width="1.8" stroke-miterlimit="10"/><path d="M824.64 614.40L834.04 633.90L815.24 633.90Z" fill="#000000" stroke="#000" stroke-width="1.8" stroke-miterlimit="10"/><path d="M842.38 612.40L851.78 631.90L832.99 631.90Z" fill="#000000" stroke="#000" stroke-width="1.8" stroke-miterlimit="10"/><path d="M860.13 609.40L869.53 628.90L850.73 628.90Z" fill="#000000" stroke="#000" stroke-width="1.8" stroke-miterlimit="10"/><path d="M877.88 605.30L887.27 624.80L868.48 624.80Z" fill="#000000" stroke="#000" stroke-width="1.8" stroke-miterlimit="10"/><path d="M895.62 600.30L905.02 619.80L886.22 619.80Z" fill="#000000" stroke="#000" stroke-width="1.8" stroke-miterlimit="10"/><path d="M913.37 593.20L922.76 612.70L903.97 612.70Z" fill="#000000" stroke="#000" stroke-width="1.8" stroke-miterlimit="10"/><path d="M931.11 584.10L940.51 603.60L921.71 603.60Z" fill="#000000" stroke="#000" stroke-width="1.8" stroke-miterlimit="10"/><path d="M948.86 575.00L958.25 594.50L939.46 594.50Z" fill="#000000" stroke="#000" stroke-width="1.8" stroke-miterlimit="10"/><path d="M966.60 562.80L976.00 582.30L957.20 582.30Z" fill="#000000" stroke="#000" stroke-width="1.8" stroke-miterlimit="10"/><path d="M984.35 549.70L993.75 569.20L974.95 569.20Z" fill="#000000" stroke="#000" stroke-width="1.8" stroke-miterlimit="10"/><path d="M1002.09 535.50L1011.49 555.00L992.69 555.00Z" fill="#000000" stroke="#000" stroke-width="1.8" stroke-miterlimit="10"/><path d="M1019.84 521.30L1029.24 540.80L1010.44 540.80Z" fill="#000000" stroke="#000" stroke-width="1.8" stroke-miterlimit="10"/><path d="M1037.58 506.20L1046.98 525.70L1028.18 525.70Z" fill="#000000" stroke="#000" stroke-width="1.8" stroke-miterlimit="10"/><path d="M1055.33 491.00L1064.73 510.50L1045.92 510.50Z" fill="#000000" stroke="#000" stroke-width="1.8" stroke-miterlimit="10"/><path d="M1073.07 476.80L1082.47 496.30L1063.67 496.30Z" fill="#000000" stroke="#000" stroke-width="1.8" stroke-miterlimit="10"/><path d="M1090.82 459.80L1100.22 479.30L1081.41 479.30Z" fill="#000000" stroke="#000" stroke-width="1.8" stroke-miterlimit="10"/><path d="M1108.56 444.60L1117.96 464.10L1099.16 464.10Z" fill="#000000" stroke="#000" stroke-width="1.8" stroke-miterlimit="10"/><path d="M1126.31 436.00L1135.71 455.50L1116.90 455.50Z" fill="#000000" stroke="#000" stroke-width="1.8" stroke-miterlimit="10"/><path d="M1144.05 426.50L1153.45 446.00L1134.65 446.00Z" fill="#000000" stroke="#000" stroke-width="1.8" stroke-miterlimit="10"/><path d="M1161.80 413.20L1171.20 432.70L1152.39 432.70Z" fill="#000000" stroke="#000" stroke-width="1.8" stroke-miterlimit="10"/><path d="M1179.54 399.80L1188.94 419.30L1170.14 419.30Z" fill="#000000" stroke="#000" stroke-width="1.8" stroke-miterlimit="10"/><path d="M1197.29 387.50L1206.69 407.00L1187.88 407.00Z" fill="#000000" stroke="#000" stroke-width="1.8" stroke-miterlimit="10"/><path d="M1215.03 376.00L1224.43 395.50L1205.63 395.50Z" fill="#000000" stroke="#000" stroke-width="1.8" stroke-miterlimit="10"/><path d="M1232.78 366.50L1242.18 386.00L1223.38 386.00Z" fill="#000000" stroke="#000" stroke-width="1.8" stroke-miterlimit="10"/><path d="M1250.52 359.80L1259.92 379.30L1241.12 379.30Z" fill="#000000" stroke="#000" stroke-width="1.8" stroke-miterlimit="10"/><path d="M1268.27 353.20L1277.67 372.70L1258.87 372.70Z" fill="#000000" stroke="#000" stroke-width="1.8" stroke-miterlimit="10"/><path d="M1286.01 346.50L1295.41 366.00L1276.61 366.00Z" fill="#000000" stroke="#000" stroke-width="1.8" stroke-miterlimit="10"/><path d="M1303.76 341.80L1313.16 361.30L1294.36 361.30Z" fill="#000000" stroke="#000" stroke-width="1.8" stroke-miterlimit="10"/><path d="M1321.50 335.10L1330.90 354.60L1312.10 354.60Z" fill="#000000" stroke="#000" stroke-width="1.8" stroke-miterlimit="10"/><path d="M1339.25 328.40L1348.65 347.90L1329.85 347.90Z" fill="#000000" stroke="#000" stroke-width="1.8" stroke-miterlimit="10"/><path d="M1356.99 324.60L1366.39 344.10L1347.59 344.10Z" fill="#000000" stroke="#000" stroke-width="1.8" stroke-miterlimit="10"/><path d="M1374.74 319.80L1384.14 339.30L1365.34 339.30Z" fill="#000000" stroke="#000" stroke-width="1.8" stroke-miterlimit="10"/><path d="M1392.48 311.80L1401.88 331.30L1383.08 331.30Z" fill="#000000" stroke="#000" stroke-width="1.8" stroke-miterlimit="10"/><path d="M1410.22 307.80L1419.62 327.30L1400.82 327.30Z" fill="#000000" stroke="#000" stroke-width="1.8" stroke-miterlimit="10"/><path d="M1427.97 304.30L1437.37 323.80L1418.57 323.80Z" fill="#000000" stroke="#000" stroke-width="1.8" stroke-miterlimit="10"/><path d="M1445.71 299.40L1455.12 318.90L1436.31 318.90Z" fill="#000000" stroke="#000" stroke-width="1.8" stroke-miterlimit="10"/><path d="M1463.46 294.00L1472.86 313.50L1454.06 313.50Z" fill="#000000" stroke="#000" stroke-width="1.8" stroke-miterlimit="10"/><path d="M1481.20 290.90L1490.61 310.40L1471.80 310.40Z" fill="#000000" stroke="#000" stroke-width="1.8" stroke-miterlimit="10"/><path d="M1498.95 284.80L1508.35 304.30L1489.55 304.30Z" fill="#000000" stroke="#000" stroke-width="1.8" stroke-miterlimit="10"/><path d="M1516.69 282.30L1526.10 301.80L1507.29 301.80Z" fill="#000000" stroke="#000" stroke-width="1.8" stroke-miterlimit="10"/><path d="M1534.44 277.50L1543.84 297.00L1525.04 297.00Z" fill="#000000" stroke="#000" stroke-width="1.8" stroke-miterlimit="10"/><path d="M1552.18 276.20L1561.59 295.70L1542.78 295.70Z" fill="#000000" stroke="#000" stroke-width="1.8" stroke-miterlimit="10"/><path d="M1569.93 273.80L1579.33 293.30L1560.53 293.30Z" fill="#000000" stroke="#000" stroke-width="1.8" stroke-miterlimit="10"/><path d="M1587.67 273.80L1597.08 293.30L1578.27 293.30Z" fill="#000000" stroke="#000" stroke-width="1.8" stroke-miterlimit="10"/><path d="M1605.42 271.40L1614.82 290.90L1596.02 290.90Z" fill="#000000" stroke="#000" stroke-width="1.8" stroke-miterlimit="10"/><path d="M1623.16 270.10L1632.57 289.60L1613.76 289.60Z" fill="#000000" stroke="#000" stroke-width="1.8" stroke-miterlimit="10"/><path d="M1640.91 267.70L1650.31 287.20L1631.51 287.20Z" fill="#000000" stroke="#000" stroke-width="1.8" stroke-miterlimit="10"/><path d="M1658.65 267.70L1668.06 287.20L1649.25 287.20Z" fill="#000000" stroke="#000" stroke-width="1.8" stroke-miterlimit="10"/><path d="M1676.40 266.50L1685.80 286.00L1667.00 286.00Z" fill="#000000" stroke="#000" stroke-width="1.8" stroke-miterlimit="10"/><path d="M1694.14 265.30L1703.55 284.80L1684.74 284.80Z" fill="#000000" stroke="#000" stroke-width="1.8" stroke-miterlimit="10"/><path d="M1711.89 265.30L1721.29 284.80L1702.49 284.80Z" fill="#000000" stroke="#000" stroke-width="1.8" stroke-miterlimit="10"/><path d="M1729.63 266.50L1739.04 286.00L1720.23 286.00Z" fill="#000000" stroke="#000" stroke-width="1.8" stroke-miterlimit="10"/><path d="M1747.38 266.50L1756.78 286.00L1737.98 286.00Z" fill="#000000" stroke="#000" stroke-width="1.8" stroke-miterlimit="10"/><path d="M1765.12 268.90L1774.53 288.40L1755.72 288.40Z" fill="#000000" stroke="#000" stroke-width="1.8" stroke-miterlimit="10"/><path d="M1782.87 271.40L1792.27 290.90L1773.47 290.90Z" fill="#000000" stroke="#000" stroke-width="1.8" stroke-miterlimit="10"/></g>
<g><path d="M256.80 617.80L266.20 637.30L247.40 637.30Z" fill="#fdbb13" stroke="#000" stroke-width="1.8" stroke-miterlimit="10"/><path d="M274.55 617.86L283.94 637.36L265.15 637.36Z" fill="#fdbb13" stroke="#000" stroke-width="1.8" stroke-miterlimit="10"/><path d="M292.29 617.92L301.69 637.42L282.89 637.42Z" fill="#fdbb13" stroke="#000" stroke-width="1.8" stroke-miterlimit="10"/><path d="M310.04 617.99L319.44 637.49L300.64 637.49Z" fill="#fdbb13" stroke="#000" stroke-width="1.8" stroke-miterlimit="10"/><path d="M327.78 618.05L337.18 637.55L318.38 637.55Z" fill="#fdbb13" stroke="#000" stroke-width="1.8" stroke-miterlimit="10"/><path d="M345.53 618.11L354.93 637.61L336.13 637.61Z" fill="#fdbb13" stroke="#000" stroke-width="1.8" stroke-miterlimit="10"/><path d="M363.27 618.17L372.67 637.67L353.87 637.67Z" fill="#fdbb13" stroke="#000" stroke-width="1.8" stroke-miterlimit="10"/><path d="M381.01 618.24L390.41 637.74L371.62 637.74Z" fill="#fdbb13" stroke="#000" stroke-width="1.8" stroke-miterlimit="10"/><path d="M398.76 618.30L408.16 637.80L389.36 637.80Z" fill="#fdbb13" stroke="#000" stroke-width="1.8" stroke-miterlimit="10"/><path d="M416.50 618.13L425.90 637.63L407.11 637.63Z" fill="#fdbb13" stroke="#000" stroke-width="1.8" stroke-miterlimit="10"/><path d="M434.25 617.97L443.65 637.47L424.85 637.47Z" fill="#fdbb13" stroke="#000" stroke-width="1.8" stroke-miterlimit="10"/><path d="M452.00 617.80L461.39 637.30L442.60 637.30Z" fill="#fdbb13" stroke="#000" stroke-width="1.8" stroke-miterlimit="10"/><path d="M469.74 615.80L479.14 635.30L460.34 635.30Z" fill="#fdbb13" stroke="#000" stroke-width="1.8" stroke-miterlimit="10"/><path d="M487.49 611.80L496.88 631.30L478.09 631.30Z" fill="#fdbb13" stroke="#000" stroke-width="1.8" stroke-miterlimit="10"/><path d="M505.23 609.80L514.63 629.30L495.83 629.30Z" fill="#fdbb13" stroke="#000" stroke-width="1.8" stroke-miterlimit="10"/><path d="M522.98 607.80L532.38 627.30L513.58 627.30Z" fill="#fdbb13" stroke="#000" stroke-width="1.8" stroke-miterlimit="10"/><path d="M540.72 605.80L550.12 625.30L531.32 625.30Z" fill="#fdbb13" stroke="#000" stroke-width="1.8" stroke-miterlimit="10"/><path d="M558.47 602.80L567.87 622.30L549.07 622.30Z" fill="#fdbb13" stroke="#000" stroke-width="1.8" stroke-miterlimit="10"/><path d="M576.21 603.80L585.61 623.30L566.81 623.30Z" fill="#fdbb13" stroke="#000" stroke-width="1.8" stroke-miterlimit="10"/><path d="M593.96 599.40L603.36 618.90L584.56 618.90Z" fill="#fdbb13" stroke="#000" stroke-width="1.8" stroke-miterlimit="10"/><path d="M611.70 595.60L621.10 615.10L602.30 615.10Z" fill="#fdbb13" stroke="#000" stroke-width="1.8" stroke-miterlimit="10"/><path d="M629.45 593.70L638.85 613.20L620.05 613.20Z" fill="#fdbb13" stroke="#000" stroke-width="1.8" stroke-miterlimit="10"/><path d="M647.19 584.10L656.59 603.60L637.79 603.60Z" fill="#fdbb13" stroke="#000" stroke-width="1.8" stroke-miterlimit="10"/><path d="M664.94 574.60L674.34 594.10L655.54 594.10Z" fill="#fdbb13" stroke="#000" stroke-width="1.8" stroke-miterlimit="10"/><path d="M682.68 567.00L692.08 586.50L673.28 586.50Z" fill="#fdbb13" stroke="#000" stroke-width="1.8" stroke-miterlimit="10"/><path d="M700.42 553.70L709.82 573.20L691.02 573.20Z" fill="#fdbb13" stroke="#000" stroke-width="1.8" stroke-miterlimit="10"/><path d="M718.17 544.10L727.57 563.60L708.77 563.60Z" fill="#fdbb13" stroke="#000" stroke-width="1.8" stroke-miterlimit="10"/><path d="M735.91 527.00L745.31 546.50L726.51 546.50Z" fill="#fdbb13" stroke="#000" stroke-width="1.8" stroke-miterlimit="10"/><path d="M753.66 512.70L763.06 532.20L744.26 532.20Z" fill="#fdbb13" stroke="#000" stroke-width="1.8" stroke-miterlimit="10"/><path d="M771.40 496.30L780.80 515.80L762.00 515.80Z" fill="#fdbb13" stroke="#000" stroke-width="1.8" stroke-miterlimit="10"/><path d="M789.15 475.80L798.55 495.30L779.75 495.30Z" fill="#fdbb13" stroke="#000" stroke-width="1.8" stroke-miterlimit="10"/><path d="M806.89 471.80L816.29 491.30L797.50 491.30Z" fill="#fdbb13" stroke="#000" stroke-width="1.8" stroke-miterlimit="10"/><path d="M824.64 439.80L834.04 459.30L815.24 459.30Z" fill="#fdbb13" stroke="#000" stroke-width="1.8" stroke-miterlimit="10"/><path d="M842.38 417.60L851.78 437.10L832.99 437.10Z" fill="#fdbb13" stroke="#000" stroke-width="1.8" stroke-miterlimit="10"/><path d="M860.13 407.30L869.53 426.80L850.73 426.80Z" fill="#fdbb13" stroke="#000" stroke-width="1.8" stroke-miterlimit="10"/><path d="M877.88 384.80L887.27 404.30L868.48 404.30Z" fill="#fdbb13" stroke="#000" stroke-width="1.8" stroke-miterlimit="10"/><path d="M895.62 370.30L905.02 389.80L886.22 389.80Z" fill="#fdbb13" stroke="#000" stroke-width="1.8" stroke-miterlimit="10"/><path d="M913.37 330.30L922.76 349.80L903.97 349.80Z" fill="#fdbb13" stroke="#000" stroke-width="1.8" stroke-miterlimit="10"/><path d="M931.11 321.60L940.51 341.10L921.71 341.10Z" fill="#fdbb13" stroke="#000" stroke-width="1.8" stroke-miterlimit="10"/><path d="M948.86 270.80L958.25 290.30L939.46 290.30Z" fill="#fdbb13" stroke="#000" stroke-width="1.8" stroke-miterlimit="10"/><path d="M966.60 330.30L976.00 349.80L957.20 349.80Z" fill="#fdbb13" stroke="#000" stroke-width="1.8" stroke-miterlimit="10"/><path d="M984.35 305.60L993.75 325.10L974.95 325.10Z" fill="#fdbb13" stroke="#000" stroke-width="1.8" stroke-miterlimit="10"/><path d="M1002.09 273.50L1011.49 293.00L992.69 293.00Z" fill="#fdbb13" stroke="#000" stroke-width="1.8" stroke-miterlimit="10"/><path d="M1019.84 250.80L1029.24 270.30L1010.44 270.30Z" fill="#fdbb13" stroke="#000" stroke-width="1.8" stroke-miterlimit="10"/><path d="M1037.58 282.40L1046.98 301.90L1028.18 301.90Z" fill="#fdbb13" stroke="#000" stroke-width="1.8" stroke-miterlimit="10"/><path d="M1055.33 267.50L1064.73 287.00L1045.92 287.00Z" fill="#fdbb13" stroke="#000" stroke-width="1.8" stroke-miterlimit="10"/><path d="M1073.07 261.40L1082.47 280.90L1063.67 280.90Z" fill="#fdbb13" stroke="#000" stroke-width="1.8" stroke-miterlimit="10"/><path d="M1090.82 257.30L1100.22 276.80L1081.41 276.80Z" fill="#fdbb13" stroke="#000" stroke-width="1.8" stroke-miterlimit="10"/><path d="M1108.56 251.30L1117.96 270.80L1099.16 270.80Z" fill="#fdbb13" stroke="#000" stroke-width="1.8" stroke-miterlimit="10"/><path d="M1126.31 245.60L1135.71 265.10L1116.90 265.10Z" fill="#fdbb13" stroke="#000" stroke-width="1.8" stroke-miterlimit="10"/><path d="M1144.05 242.70L1153.45 262.20L1134.65 262.20Z" fill="#fdbb13" stroke="#000" stroke-width="1.8" stroke-miterlimit="10"/><path d="M1161.80 238.90L1171.20 258.40L1152.39 258.40Z" fill="#fdbb13" stroke="#000" stroke-width="1.8" stroke-miterlimit="10"/><path d="M1179.54 231.30L1188.94 250.80L1170.14 250.80Z" fill="#fdbb13" stroke="#000" stroke-width="1.8" stroke-miterlimit="10"/><path d="M1197.29 225.80L1206.69 245.30L1187.88 245.30Z" fill="#fdbb13" stroke="#000" stroke-width="1.8" stroke-miterlimit="10"/><path d="M1215.03 219.80L1224.43 239.30L1205.63 239.30Z" fill="#fdbb13" stroke="#000" stroke-width="1.8" stroke-miterlimit="10"/><path d="M1232.78 219.30L1242.18 238.80L1223.38 238.80Z" fill="#fdbb13" stroke="#000" stroke-width="1.8" stroke-miterlimit="10"/><path d="M1250.52 219.80L1259.92 239.30L1241.12 239.30Z" fill="#fdbb13" stroke="#000" stroke-width="1.8" stroke-miterlimit="10"/><path d="M1268.27 220.80L1277.67 240.30L1258.87 240.30Z" fill="#fdbb13" stroke="#000" stroke-width="1.8" stroke-miterlimit="10"/><path d="M1286.01 221.80L1295.41 241.30L1276.61 241.30Z" fill="#fdbb13" stroke="#000" stroke-width="1.8" stroke-miterlimit="10"/><path d="M1303.76 222.80L1313.16 242.30L1294.36 242.30Z" fill="#fdbb13" stroke="#000" stroke-width="1.8" stroke-miterlimit="10"/><path d="M1321.50 223.80L1330.90 243.30L1312.10 243.30Z" fill="#fdbb13" stroke="#000" stroke-width="1.8" stroke-miterlimit="10"/><path d="M1339.25 227.90L1348.65 247.40L1329.85 247.40Z" fill="#fdbb13" stroke="#000" stroke-width="1.8" stroke-miterlimit="10"/><path d="M1356.99 229.80L1366.39 249.30L1347.59 249.30Z" fill="#fdbb13" stroke="#000" stroke-width="1.8" stroke-miterlimit="10"/><path d="M1374.74 229.80L1384.14 249.30L1365.34 249.30Z" fill="#fdbb13" stroke="#000" stroke-width="1.8" stroke-miterlimit="10"/><path d="M1392.48 229.80L1401.88 249.30L1383.08 249.30Z" fill="#fdbb13" stroke="#000" stroke-width="1.8" stroke-miterlimit="10"/><path d="M1410.22 230.80L1419.62 250.30L1400.82 250.30Z" fill="#fdbb13" stroke="#000" stroke-width="1.8" stroke-miterlimit="10"/><path d="M1427.97 225.80L1437.37 245.30L1418.57 245.30Z" fill="#fdbb13" stroke="#000" stroke-width="1.8" stroke-miterlimit="10"/><path d="M1445.71 226.80L1455.12 246.30L1436.31 246.30Z" fill="#fdbb13" stroke="#000" stroke-width="1.8" stroke-miterlimit="10"/><path d="M1463.46 227.80L1472.86 247.30L1454.06 247.30Z" fill="#fdbb13" stroke="#000" stroke-width="1.8" stroke-miterlimit="10"/><path d="M1481.20 233.10L1490.61 252.60L1471.80 252.60Z" fill="#fdbb13" stroke="#000" stroke-width="1.8" stroke-miterlimit="10"/><path d="M1498.95 232.10L1508.35 251.60L1489.55 251.60Z" fill="#fdbb13" stroke="#000" stroke-width="1.8" stroke-miterlimit="10"/><path d="M1516.69 233.30L1526.10 252.80L1507.29 252.80Z" fill="#fdbb13" stroke="#000" stroke-width="1.8" stroke-miterlimit="10"/><path d="M1534.44 233.60L1543.84 253.10L1525.04 253.10Z" fill="#fdbb13" stroke="#000" stroke-width="1.8" stroke-miterlimit="10"/><path d="M1552.18 236.30L1561.59 255.80L1542.78 255.80Z" fill="#fdbb13" stroke="#000" stroke-width="1.8" stroke-miterlimit="10"/><path d="M1569.93 237.50L1579.33 257.00L1560.53 257.00Z" fill="#fdbb13" stroke="#000" stroke-width="1.8" stroke-miterlimit="10"/><path d="M1587.67 239.60L1597.08 259.10L1578.27 259.10Z" fill="#fdbb13" stroke="#000" stroke-width="1.8" stroke-miterlimit="10"/><path d="M1605.42 245.80L1614.82 265.30L1596.02 265.30Z" fill="#fdbb13" stroke="#000" stroke-width="1.8" stroke-miterlimit="10"/><path d="M1623.16 246.80L1632.57 266.30L1613.76 266.30Z" fill="#fdbb13" stroke="#000" stroke-width="1.8" stroke-miterlimit="10"/><path d="M1640.91 247.80L1650.31 267.30L1631.51 267.30Z" fill="#fdbb13" stroke="#000" stroke-width="1.8" stroke-miterlimit="10"/><path d="M1658.65 247.80L1668.06 267.30L1649.25 267.30Z" fill="#fdbb13" stroke="#000" stroke-width="1.8" stroke-miterlimit="10"/><path d="M1676.40 248.80L1685.80 268.30L1667.00 268.30Z" fill="#fdbb13" stroke="#000" stroke-width="1.8" stroke-miterlimit="10"/><path d="M1694.14 249.80L1703.55 269.30L1684.74 269.30Z" fill="#fdbb13" stroke="#000" stroke-width="1.8" stroke-miterlimit="10"/><path d="M1711.89 249.80L1721.29 269.30L1702.49 269.30Z" fill="#fdbb13" stroke="#000" stroke-width="1.8" stroke-miterlimit="10"/><path d="M1729.63 251.80L1739.04 271.30L1720.23 271.30Z" fill="#fdbb13" stroke="#000" stroke-width="1.8" stroke-miterlimit="10"/><path d="M1747.38 252.80L1756.78 272.30L1737.98 272.30Z" fill="#fdbb13" stroke="#000" stroke-width="1.8" stroke-miterlimit="10"/><path d="M1765.12 253.80L1774.53 273.30L1755.72 273.30Z" fill="#fdbb13" stroke="#000" stroke-width="1.8" stroke-miterlimit="10"/><path d="M1782.87 254.80L1792.27 274.30L1773.47 274.30Z" fill="#fdbb13" stroke="#000" stroke-width="1.8" stroke-miterlimit="10"/></g>
<g><circle cx="256.80" cy="626.00" r="11.0" fill="#000000"/><circle cx="274.55" cy="625.50" r="11.0" fill="#000000"/><circle cx="292.29" cy="625.00" r="11.0" fill="#000000"/><circle cx="310.04" cy="624.00" r="11.0" fill="#000000"/><circle cx="327.78" cy="622.50" r="11.0" fill="#000000"/><circle cx="345.53" cy="616.20" r="11.0" fill="#000000"/><circle cx="363.27" cy="613.30" r="11.0" fill="#000000"/><circle cx="381.01" cy="610.10" r="11.0" fill="#000000"/><circle cx="398.76" cy="605.70" r="11.0" fill="#000000"/><circle cx="416.50" cy="600.60" r="11.0" fill="#000000"/><circle cx="434.25" cy="591.40" r="11.0" fill="#000000"/><circle cx="452.00" cy="579.40" r="11.0" fill="#000000"/><circle cx="469.74" cy="566.30" r="11.0" fill="#000000"/><circle cx="487.49" cy="546.70" r="11.0" fill="#000000"/><circle cx="505.23" cy="529.50" r="11.0" fill="#000000"/><circle cx="522.98" cy="509.50" r="11.0" fill="#000000"/><circle cx="540.72" cy="490.10" r="11.0" fill="#000000"/><circle cx="558.47" cy="466.70" r="11.0" fill="#000000"/><circle cx="576.21" cy="450.50" r="11.0" fill="#000000"/><circle cx="593.96" cy="427.20" r="11.0" fill="#000000"/><circle cx="611.70" cy="407.60" r="11.0" fill="#000000"/><circle cx="629.45" cy="401.00" r="11.0" fill="#000000"/><circle cx="647.19" cy="388.00" r="11.0" fill="#000000"/><circle cx="664.94" cy="377.10" r="11.0" fill="#000000"/><circle cx="682.68" cy="368.20" r="11.0" fill="#000000"/><circle cx="700.42" cy="356.20" r="11.0" fill="#000000"/><circle cx="718.17" cy="346.70" r="11.0" fill="#000000"/><circle cx="735.91" cy="337.70" r="11.0" fill="#000000"/><circle cx="753.66" cy="327.20" r="11.0" fill="#000000"/><circle cx="771.40" cy="317.50" r="11.0" fill="#000000"/><circle cx="789.15" cy="309.00" r="11.0" fill="#000000"/><circle cx="806.89" cy="302.40" r="11.0" fill="#000000"/><circle cx="824.64" cy="291.90" r="11.0" fill="#000000"/><circle cx="842.38" cy="288.10" r="11.0" fill="#000000"/><circle cx="860.13" cy="280.50" r="11.0" fill="#000000"/><circle cx="877.88" cy="272.90" r="11.0" fill="#000000"/><circle cx="895.62" cy="266.20" r="11.0" fill="#000000"/><circle cx="913.37" cy="260.50" r="11.0" fill="#000000"/><circle cx="931.11" cy="253.80" r="11.0" fill="#000000"/><circle cx="948.86" cy="247.10" r="11.0" fill="#000000"/><circle cx="966.60" cy="242.40" r="11.0" fill="#000000"/><circle cx="984.35" cy="236.70" r="11.0" fill="#000000"/><circle cx="1002.09" cy="229.00" r="11.0" fill="#000000"/><circle cx="1019.84" cy="222.40" r="11.0" fill="#000000"/><circle cx="1037.58" cy="217.60" r="11.0" fill="#000000"/><circle cx="1055.33" cy="214.80" r="11.0" fill="#000000"/><circle cx="1073.07" cy="211.00" r="11.0" fill="#000000"/><circle cx="1090.82" cy="211.00" r="11.0" fill="#000000"/><circle cx="1108.56" cy="211.50" r="11.0" fill="#000000"/><circle cx="1126.31" cy="212.00" r="11.0" fill="#000000"/><circle cx="1144.05" cy="213.00" r="11.0" fill="#000000"/><circle cx="1161.80" cy="214.00" r="11.0" fill="#000000"/><circle cx="1179.54" cy="214.00" r="11.0" fill="#000000"/><circle cx="1197.29" cy="214.00" r="11.0" fill="#000000"/><circle cx="1215.03" cy="214.50" r="11.0" fill="#000000"/><circle cx="1232.78" cy="215.00" r="11.0" fill="#000000"/><circle cx="1250.52" cy="215.50" r="11.0" fill="#000000"/><circle cx="1268.27" cy="216.50" r="11.0" fill="#000000"/><circle cx="1286.01" cy="217.50" r="11.0" fill="#000000"/><circle cx="1303.76" cy="219.00" r="11.0" fill="#000000"/><circle cx="1321.50" cy="220.70" r="11.0" fill="#000000"/><circle cx="1339.25" cy="222.00" r="11.0" fill="#000000"/><circle cx="1356.99" cy="224.30" r="11.0" fill="#000000"/><circle cx="1374.74" cy="225.50" r="11.0" fill="#000000"/><circle cx="1392.48" cy="226.70" r="11.0" fill="#000000"/><circle cx="1410.22" cy="228.00" r="11.0" fill="#000000"/><circle cx="1427.97" cy="229.70" r="11.0" fill="#000000"/><circle cx="1445.71" cy="231.00" r="11.0" fill="#000000"/><circle cx="1463.46" cy="232.70" r="11.0" fill="#000000"/><circle cx="1481.20" cy="236.00" r="11.0" fill="#000000"/><circle cx="1498.95" cy="240.30" r="11.0" fill="#000000"/><circle cx="1516.69" cy="241.50" r="11.0" fill="#000000"/><circle cx="1534.44" cy="241.80" r="11.0" fill="#000000"/><circle cx="1552.18" cy="244.50" r="11.0" fill="#000000"/><circle cx="1569.93" cy="245.70" r="11.0" fill="#000000"/><circle cx="1587.67" cy="247.80" r="11.0" fill="#000000"/><circle cx="1605.42" cy="246.80" r="11.0" fill="#000000"/><circle cx="1623.16" cy="249.50" r="11.0" fill="#000000"/><circle cx="1640.91" cy="250.70" r="11.0" fill="#000000"/><circle cx="1658.65" cy="251.60" r="11.0" fill="#000000"/><circle cx="1676.40" cy="252.40" r="11.0" fill="#000000"/><circle cx="1694.14" cy="253.50" r="11.0" fill="#000000"/><circle cx="1711.89" cy="253.50" r="11.0" fill="#000000"/><circle cx="1729.63" cy="255.90" r="11.0" fill="#000000"/><circle cx="1747.38" cy="257.10" r="11.0" fill="#000000"/><circle cx="1765.12" cy="258.40" r="11.0" fill="#000000"/><circle cx="1782.87" cy="259.60" r="11.0" fill="#000000"/></g>
<g><circle cx="256.80" cy="628.00" r="10.0" fill="#fdbb13" stroke="#000" stroke-width="1.8"/><circle cx="274.55" cy="627.50" r="10.0" fill="#fdbb13" stroke="#000" stroke-width="1.8"/><circle cx="292.29" cy="627.00" r="10.0" fill="#fdbb13" stroke="#000" stroke-width="1.8"/><circle cx="310.04" cy="626.50" r="10.0" fill="#fdbb13" stroke="#000" stroke-width="1.8"/><circle cx="327.78" cy="626.00" r="10.0" fill="#fdbb13" stroke="#000" stroke-width="1.8"/><circle cx="345.53" cy="625.50" r="10.0" fill="#fdbb13" stroke="#000" stroke-width="1.8"/><circle cx="363.27" cy="624.80" r="10.0" fill="#fdbb13" stroke="#000" stroke-width="1.8"/><circle cx="381.01" cy="624.10" r="10.0" fill="#fdbb13" stroke="#000" stroke-width="1.8"/><circle cx="398.76" cy="623.40" r="10.0" fill="#fdbb13" stroke="#000" stroke-width="1.8"/><circle cx="416.50" cy="622.70" r="10.0" fill="#fdbb13" stroke="#000" stroke-width="1.8"/><circle cx="434.25" cy="622.00" r="10.0" fill="#fdbb13" stroke="#000" stroke-width="1.8"/><circle cx="452.00" cy="619.00" r="10.0" fill="#fdbb13" stroke="#000" stroke-width="1.8"/><circle cx="469.74" cy="616.00" r="10.0" fill="#fdbb13" stroke="#000" stroke-width="1.8"/><circle cx="487.49" cy="612.50" r="10.0" fill="#fdbb13" stroke="#000" stroke-width="1.8"/><circle cx="505.23" cy="608.00" r="10.0" fill="#fdbb13" stroke="#000" stroke-width="1.8"/><circle cx="522.98" cy="606.00" r="10.0" fill="#fdbb13" stroke="#000" stroke-width="1.8"/><circle cx="540.72" cy="604.80" r="10.0" fill="#fdbb13" stroke="#000" stroke-width="1.8"/><circle cx="558.47" cy="597.10" r="10.0" fill="#fdbb13" stroke="#000" stroke-width="1.8"/><circle cx="576.21" cy="589.50" r="10.0" fill="#fdbb13" stroke="#000" stroke-width="1.8"/><circle cx="593.96" cy="579.00" r="10.0" fill="#fdbb13" stroke="#000" stroke-width="1.8"/><circle cx="611.70" cy="562.90" r="10.0" fill="#fdbb13" stroke="#000" stroke-width="1.8"/><circle cx="629.45" cy="554.30" r="10.0" fill="#fdbb13" stroke="#000" stroke-width="1.8"/><circle cx="647.19" cy="536.20" r="10.0" fill="#fdbb13" stroke="#000" stroke-width="1.8"/><circle cx="664.94" cy="521.00" r="10.0" fill="#fdbb13" stroke="#000" stroke-width="1.8"/><circle cx="682.68" cy="502.90" r="10.0" fill="#fdbb13" stroke="#000" stroke-width="1.8"/><circle cx="700.42" cy="480.00" r="10.0" fill="#fdbb13" stroke="#000" stroke-width="1.8"/><circle cx="718.17" cy="462.90" r="10.0" fill="#fdbb13" stroke="#000" stroke-width="1.8"/><circle cx="735.91" cy="419.00" r="10.0" fill="#fdbb13" stroke="#000" stroke-width="1.8"/><circle cx="753.66" cy="403.00" r="10.0" fill="#fdbb13" stroke="#000" stroke-width="1.8"/><circle cx="771.40" cy="384.00" r="10.0" fill="#fdbb13" stroke="#000" stroke-width="1.8"/><circle cx="789.15" cy="359.00" r="10.0" fill="#fdbb13" stroke="#000" stroke-width="1.8"/><circle cx="806.89" cy="330.00" r="10.0" fill="#fdbb13" stroke="#000" stroke-width="1.8"/><circle cx="824.64" cy="301.40" r="10.0" fill="#fdbb13" stroke="#000" stroke-width="1.8"/><circle cx="842.38" cy="282.40" r="10.0" fill="#fdbb13" stroke="#000" stroke-width="1.8"/><circle cx="860.13" cy="260.50" r="10.0" fill="#fdbb13" stroke="#000" stroke-width="1.8"/><circle cx="877.88" cy="250.00" r="10.0" fill="#fdbb13" stroke="#000" stroke-width="1.8"/><circle cx="895.62" cy="284.30" r="10.0" fill="#fdbb13" stroke="#000" stroke-width="1.8"/><circle cx="913.37" cy="270.00" r="10.0" fill="#fdbb13" stroke="#000" stroke-width="1.8"/><circle cx="931.11" cy="259.50" r="10.0" fill="#fdbb13" stroke="#000" stroke-width="1.8"/><circle cx="948.86" cy="251.90" r="10.0" fill="#fdbb13" stroke="#000" stroke-width="1.8"/><circle cx="966.60" cy="246.20" r="10.0" fill="#fdbb13" stroke="#000" stroke-width="1.8"/><circle cx="984.35" cy="242.40" r="10.0" fill="#fdbb13" stroke="#000" stroke-width="1.8"/><circle cx="1002.09" cy="235.70" r="10.0" fill="#fdbb13" stroke="#000" stroke-width="1.8"/><circle cx="1019.84" cy="231.00" r="10.0" fill="#fdbb13" stroke="#000" stroke-width="1.8"/><circle cx="1037.58" cy="224.30" r="10.0" fill="#fdbb13" stroke="#000" stroke-width="1.8"/><circle cx="1055.33" cy="219.50" r="10.0" fill="#fdbb13" stroke="#000" stroke-width="1.8"/><circle cx="1073.07" cy="213.80" r="10.0" fill="#fdbb13" stroke="#000" stroke-width="1.8"/><circle cx="1090.82" cy="209.50" r="10.0" fill="#fdbb13" stroke="#000" stroke-width="1.8"/><circle cx="1108.56" cy="206.20" r="10.0" fill="#fdbb13" stroke="#000" stroke-width="1.8"/><circle cx="1126.31" cy="205.20" r="10.0" fill="#fdbb13" stroke="#000" stroke-width="1.8"/><circle cx="1144.05" cy="205.20" r="10.0" fill="#fdbb13" stroke="#000" stroke-width="1.8"/><circle cx="1161.80" cy="206.20" r="10.0" fill="#fdbb13" stroke="#000" stroke-width="1.8"/><circle cx="1179.54" cy="202.40" r="10.0" fill="#fdbb13" stroke="#000" stroke-width="1.8"/><circle cx="1197.29" cy="202.40" r="10.0" fill="#fdbb13" stroke="#000" stroke-width="1.8"/><circle cx="1215.03" cy="203.30" r="10.0" fill="#fdbb13" stroke="#000" stroke-width="1.8"/><circle cx="1232.78" cy="205.20" r="10.0" fill="#fdbb13" stroke="#000" stroke-width="1.8"/><circle cx="1250.52" cy="207.10" r="10.0" fill="#fdbb13" stroke="#000" stroke-width="1.8"/><circle cx="1268.27" cy="212.30" r="10.0" fill="#fdbb13" stroke="#000" stroke-width="1.8"/><circle cx="1286.01" cy="216.00" r="10.0" fill="#fdbb13" stroke="#000" stroke-width="1.8"/><circle cx="1303.76" cy="220.00" r="10.0" fill="#fdbb13" stroke="#000" stroke-width="1.8"/><circle cx="1321.50" cy="226.00" r="10.0" fill="#fdbb13" stroke="#000" stroke-width="1.8"/><circle cx="1339.25" cy="228.50" r="10.0" fill="#fdbb13" stroke="#000" stroke-width="1.8"/><circle cx="1356.99" cy="231.00" r="10.0" fill="#fdbb13" stroke="#000" stroke-width="1.8"/><circle cx="1374.74" cy="233.00" r="10.0" fill="#fdbb13" stroke="#000" stroke-width="1.8"/><circle cx="1392.48" cy="235.00" r="10.0" fill="#fdbb13" stroke="#000" stroke-width="1.8"/><circle cx="1410.22" cy="236.50" r="10.0" fill="#fdbb13" stroke="#000" stroke-width="1.8"/><circle cx="1427.97" cy="238.00" r="10.0" fill="#fdbb13" stroke="#000" stroke-width="1.8"/><circle cx="1445.71" cy="240.00" r="10.0" fill="#fdbb13" stroke="#000" stroke-width="1.8"/><circle cx="1463.46" cy="242.00" r="10.0" fill="#fdbb13" stroke="#000" stroke-width="1.8"/><circle cx="1481.20" cy="244.00" r="10.0" fill="#fdbb13" stroke="#000" stroke-width="1.8"/><circle cx="1498.95" cy="245.10" r="10.0" fill="#fdbb13" stroke="#000" stroke-width="1.8"/><circle cx="1516.69" cy="246.20" r="10.0" fill="#fdbb13" stroke="#000" stroke-width="1.8"/><circle cx="1534.44" cy="246.50" r="10.0" fill="#fdbb13" stroke="#000" stroke-width="1.8"/><circle cx="1552.18" cy="251.60" r="10.0" fill="#fdbb13" stroke="#000" stroke-width="1.8"/><circle cx="1569.93" cy="251.30" r="10.0" fill="#fdbb13" stroke="#000" stroke-width="1.8"/><circle cx="1587.67" cy="255.80" r="10.0" fill="#fdbb13" stroke="#000" stroke-width="1.8"/><circle cx="1605.42" cy="254.80" r="10.0" fill="#fdbb13" stroke="#000" stroke-width="1.8"/><circle cx="1623.16" cy="255.80" r="10.0" fill="#fdbb13" stroke="#000" stroke-width="1.8"/><circle cx="1640.91" cy="253.50" r="10.0" fill="#fdbb13" stroke="#000" stroke-width="1.8"/><circle cx="1658.65" cy="255.50" r="10.0" fill="#fdbb13" stroke="#000" stroke-width="1.8"/><circle cx="1676.40" cy="257.40" r="10.0" fill="#fdbb13" stroke="#000" stroke-width="1.8"/><circle cx="1694.14" cy="258.70" r="10.0" fill="#fdbb13" stroke="#000" stroke-width="1.8"/><circle cx="1711.89" cy="259.90" r="10.0" fill="#fdbb13" stroke="#000" stroke-width="1.8"/><circle cx="1729.63" cy="262.30" r="10.0" fill="#fdbb13" stroke="#000" stroke-width="1.8"/><circle cx="1747.38" cy="264.80" r="10.0" fill="#fdbb13" stroke="#000" stroke-width="1.8"/><circle cx="1765.12" cy="267.20" r="10.0" fill="#fdbb13" stroke="#000" stroke-width="1.8"/><circle cx="1782.87" cy="269.60" r="10.0" fill="#fdbb13" stroke="#000" stroke-width="1.8"/></g>
<g><circle cx="256.80" cy="626.50" r="10.0" fill="#ed2024" stroke="#000" stroke-width="1.8"/><circle cx="274.55" cy="621.50" r="10.0" fill="#ed2024" stroke="#000" stroke-width="1.8"/><circle cx="292.29" cy="621.90" r="10.0" fill="#ed2024" stroke="#000" stroke-width="1.8"/><circle cx="310.04" cy="622.80" r="10.0" fill="#ed2024" stroke="#000" stroke-width="1.8"/><circle cx="327.78" cy="623.80" r="10.0" fill="#ed2024" stroke="#000" stroke-width="1.8"/><circle cx="345.53" cy="623.40" r="10.0" fill="#ed2024" stroke="#000" stroke-width="1.8"/><circle cx="363.27" cy="622.50" r="10.0" fill="#ed2024" stroke="#000" stroke-width="1.8"/><circle cx="381.01" cy="620.00" r="10.0" fill="#ed2024" stroke="#000" stroke-width="1.8"/><circle cx="398.76" cy="622.80" r="10.0" fill="#ed2024" stroke="#000" stroke-width="1.8"/><circle cx="416.50" cy="621.90" r="10.0" fill="#ed2024" stroke="#000" stroke-width="1.8"/><circle cx="434.25" cy="620.00" r="10.0" fill="#ed2024" stroke="#000" stroke-width="1.8"/><circle cx="452.00" cy="617.10" r="10.0" fill="#ed2024" stroke="#000" stroke-width="1.8"/><circle cx="469.74" cy="613.90" r="10.0" fill="#ed2024" stroke="#000" stroke-width="1.8"/><circle cx="487.49" cy="610.10" r="10.0" fill="#ed2024" stroke="#000" stroke-width="1.8"/><circle cx="505.23" cy="606.70" r="10.0" fill="#ed2024" stroke="#000" stroke-width="1.8"/><circle cx="522.98" cy="601.90" r="10.0" fill="#ed2024" stroke="#000" stroke-width="1.8"/><circle cx="540.72" cy="598.10" r="10.0" fill="#ed2024" stroke="#000" stroke-width="1.8"/><circle cx="558.47" cy="591.40" r="10.0" fill="#ed2024" stroke="#000" stroke-width="1.8"/><circle cx="576.21" cy="582.90" r="10.0" fill="#ed2024" stroke="#000" stroke-width="1.8"/><circle cx="593.96" cy="568.60" r="10.0" fill="#ed2024" stroke="#000" stroke-width="1.8"/><circle cx="611.70" cy="551.00" r="10.0" fill="#ed2024" stroke="#000" stroke-width="1.8"/><circle cx="629.45" cy="537.10" r="10.0" fill="#ed2024" stroke="#000" stroke-width="1.8"/><circle cx="647.19" cy="514.30" r="10.0" fill="#ed2024" stroke="#000" stroke-width="1.8"/><circle cx="664.94" cy="496.20" r="10.0" fill="#ed2024" stroke="#000" stroke-width="1.8"/><circle cx="682.68" cy="482.90" r="10.0" fill="#ed2024" stroke="#000" stroke-width="1.8"/><circle cx="700.42" cy="463.80" r="10.0" fill="#ed2024" stroke="#000" stroke-width="1.8"/><circle cx="718.17" cy="439.00" r="10.0" fill="#ed2024" stroke="#000" stroke-width="1.8"/><circle cx="735.91" cy="415.20" r="10.0" fill="#ed2024" stroke="#000" stroke-width="1.8"/><circle cx="753.66" cy="396.20" r="10.0" fill="#ed2024" stroke="#000" stroke-width="1.8"/><circle cx="771.40" cy="377.10" r="10.0" fill="#ed2024" stroke="#000" stroke-width="1.8"/><circle cx="789.15" cy="360.00" r="10.0" fill="#ed2024" stroke="#000" stroke-width="1.8"/><circle cx="806.89" cy="346.00" r="10.0" fill="#ed2024" stroke="#000" stroke-width="1.8"/><circle cx="824.64" cy="332.90" r="10.0" fill="#ed2024" stroke="#000" stroke-width="1.8"/><circle cx="842.38" cy="321.40" r="10.0" fill="#ed2024" stroke="#000" stroke-width="1.8"/><circle cx="860.13" cy="312.90" r="10.0" fill="#ed2024" stroke="#000" stroke-width="1.8"/><circle cx="877.88" cy="304.30" r="10.0" fill="#ed2024" stroke="#000" stroke-width="1.8"/><circle cx="895.62" cy="293.80" r="10.0" fill="#ed2024" stroke="#000" stroke-width="1.8"/><circle cx="913.37" cy="285.70" r="10.0" fill="#ed2024" stroke="#000" stroke-width="1.8"/><circle cx="931.11" cy="274.90" r="10.0" fill="#ed2024" stroke="#000" stroke-width="1.8"/><circle cx="948.86" cy="267.20" r="10.0" fill="#ed2024" stroke="#000" stroke-width="1.8"/><circle cx="966.60" cy="259.50" r="10.0" fill="#ed2024" stroke="#000" stroke-width="1.8"/><circle cx="984.35" cy="252.90" r="10.0" fill="#ed2024" stroke="#000" stroke-width="1.8"/><circle cx="1002.09" cy="246.60" r="10.0" fill="#ed2024" stroke="#000" stroke-width="1.8"/><circle cx="1019.84" cy="242.30" r="10.0" fill="#ed2024" stroke="#000" stroke-width="1.8"/><circle cx="1037.58" cy="236.00" r="10.0" fill="#ed2024" stroke="#000" stroke-width="1.8"/><circle cx="1055.33" cy="233.10" r="10.0" fill="#ed2024" stroke="#000" stroke-width="1.8"/><circle cx="1073.07" cy="226.50" r="10.0" fill="#ed2024" stroke="#000" stroke-width="1.8"/><circle cx="1090.82" cy="225.00" r="10.0" fill="#ed2024" stroke="#000" stroke-width="1.8"/><circle cx="1108.56" cy="221.40" r="10.0" fill="#ed2024" stroke="#000" stroke-width="1.8"/><circle cx="1126.31" cy="222.40" r="10.0" fill="#ed2024" stroke="#000" stroke-width="1.8"/><circle cx="1144.05" cy="223.30" r="10.0" fill="#ed2024" stroke="#000" stroke-width="1.8"/><circle cx="1161.80" cy="224.30" r="10.0" fill="#ed2024" stroke="#000" stroke-width="1.8"/><circle cx="1179.54" cy="223.30" r="10.0" fill="#ed2024" stroke="#000" stroke-width="1.8"/><circle cx="1197.29" cy="223.70" r="10.0" fill="#ed2024" stroke="#000" stroke-width="1.8"/><circle cx="1215.03" cy="224.30" r="10.0" fill="#ed2024" stroke="#000" stroke-width="1.8"/><circle cx="1232.78" cy="224.70" r="10.0" fill="#ed2024" stroke="#000" stroke-width="1.8"/><circle cx="1250.52" cy="226.20" r="10.0" fill="#ed2024" stroke="#000" stroke-width="1.8"/><circle cx="1268.27" cy="226.20" r="10.0" fill="#ed2024" stroke="#000" stroke-width="1.8"/><circle cx="1286.01" cy="226.20" r="10.0" fill="#ed2024" stroke="#000" stroke-width="1.8"/><circle cx="1303.76" cy="227.10" r="10.0" fill="#ed2024" stroke="#000" stroke-width="1.8"/><circle cx="1321.50" cy="227.10" r="10.0" fill="#ed2024" stroke="#000" stroke-width="1.8"/><circle cx="1339.25" cy="228.10" r="10.0" fill="#ed2024" stroke="#000" stroke-width="1.8"/><circle cx="1356.99" cy="230.00" r="10.0" fill="#ed2024" stroke="#000" stroke-width="1.8"/><circle cx="1374.74" cy="230.00" r="10.0" fill="#ed2024" stroke="#000" stroke-width="1.8"/><circle cx="1392.48" cy="231.00" r="10.0" fill="#ed2024" stroke="#000" stroke-width="1.8"/><circle cx="1410.22" cy="232.00" r="10.0" fill="#ed2024" stroke="#000" stroke-width="1.8"/><circle cx="1427.97" cy="233.00" r="10.0" fill="#ed2024" stroke="#000" stroke-width="1.8"/><circle cx="1445.71" cy="234.00" r="10.0" fill="#ed2024" stroke="#000" stroke-width="1.8"/><circle cx="1463.46" cy="235.00" r="10.0" fill="#ed2024" stroke="#000" stroke-width="1.8"/><circle cx="1481.20" cy="240.30" r="10.0" fill="#ed2024" stroke="#000" stroke-width="1.8"/><circle cx="1498.95" cy="239.30" r="10.0" fill="#ed2024" stroke="#000" stroke-width="1.8"/><circle cx="1516.69" cy="240.50" r="10.0" fill="#ed2024" stroke="#000" stroke-width="1.8"/><circle cx="1534.44" cy="240.80" r="10.0" fill="#ed2024" stroke="#000" stroke-width="1.8"/><circle cx="1552.18" cy="243.50" r="10.0" fill="#ed2024" stroke="#000" stroke-width="1.8"/><circle cx="1569.93" cy="244.70" r="10.0" fill="#ed2024" stroke="#000" stroke-width="1.8"/><circle cx="1587.67" cy="246.80" r="10.0" fill="#ed2024" stroke="#000" stroke-width="1.8"/><circle cx="1605.42" cy="245.80" r="10.0" fill="#ed2024" stroke="#000" stroke-width="1.8"/><circle cx="1623.16" cy="248.50" r="10.0" fill="#ed2024" stroke="#000" stroke-width="1.8"/><circle cx="1640.91" cy="249.70" r="10.0" fill="#ed2024" stroke="#000" stroke-width="1.8"/><circle cx="1658.65" cy="250.60" r="10.0" fill="#ed2024" stroke="#000" stroke-width="1.8"/><circle cx="1676.40" cy="251.40" r="10.0" fill="#ed2024" stroke="#000" stroke-width="1.8"/><circle cx="1694.14" cy="252.50" r="10.0" fill="#ed2024" stroke="#000" stroke-width="1.8"/><circle cx="1711.89" cy="252.50" r="10.0" fill="#ed2024" stroke="#000" stroke-width="1.8"/><circle cx="1729.63" cy="254.90" r="10.0" fill="#ed2024" stroke="#000" stroke-width="1.8"/><circle cx="1747.38" cy="256.10" r="10.0" fill="#ed2024" stroke="#000" stroke-width="1.8"/><circle cx="1765.12" cy="257.40" r="10.0" fill="#ed2024" stroke="#000" stroke-width="1.8"/><circle cx="1782.87" cy="258.60" r="10.0" fill="#ed2024" stroke="#000" stroke-width="1.8"/></g>
<g><path d="M256.80 620.80L266.20 640.30L247.40 640.30Z" fill="#ed2024" stroke="#000" stroke-width="1.8" stroke-miterlimit="10"/><path d="M274.55 617.80L283.94 637.30L265.15 637.30Z" fill="#ed2024" stroke="#000" stroke-width="1.8" stroke-miterlimit="10"/><path d="M292.29 617.80L301.69 637.30L282.89 637.30Z" fill="#ed2024" stroke="#000" stroke-width="1.8" stroke-miterlimit="10"/><path d="M310.04 618.40L319.44 637.90L300.64 637.90Z" fill="#ed2024" stroke="#000" stroke-width="1.8" stroke-miterlimit="10"/><path d="M327.78 619.40L337.18 638.90L318.38 638.90Z" fill="#ed2024" stroke="#000" stroke-width="1.8" stroke-miterlimit="10"/><path d="M345.53 619.40L354.93 638.90L336.13 638.90Z" fill="#ed2024" stroke="#000" stroke-width="1.8" stroke-miterlimit="10"/><path d="M363.27 616.80L372.67 636.30L353.87 636.30Z" fill="#ed2024" stroke="#000" stroke-width="1.8" stroke-miterlimit="10"/><path d="M381.01 614.80L390.41 634.30L371.62 634.30Z" fill="#ed2024" stroke="#000" stroke-width="1.8" stroke-miterlimit="10"/><path d="M398.76 617.50L408.16 637.00L389.36 637.00Z" fill="#ed2024" stroke="#000" stroke-width="1.8" stroke-miterlimit="10"/><path d="M416.50 614.80L425.90 634.30L407.11 634.30Z" fill="#ed2024" stroke="#000" stroke-width="1.8" stroke-miterlimit="10"/><path d="M434.25 614.80L443.65 634.30L424.85 634.30Z" fill="#ed2024" stroke="#000" stroke-width="1.8" stroke-miterlimit="10"/><path d="M452.00 615.60L461.39 635.10L442.60 635.10Z" fill="#ed2024" stroke="#000" stroke-width="1.8" stroke-miterlimit="10"/><path d="M469.74 613.80L479.14 633.30L460.34 633.30Z" fill="#ed2024" stroke="#000" stroke-width="1.8" stroke-miterlimit="10"/><path d="M487.49 612.80L496.88 632.30L478.09 632.30Z" fill="#ed2024" stroke="#000" stroke-width="1.8" stroke-miterlimit="10"/><path d="M505.23 611.30L514.63 630.80L495.83 630.80Z" fill="#ed2024" stroke="#000" stroke-width="1.8" stroke-miterlimit="10"/><path d="M522.98 609.80L532.38 629.30L513.58 629.30Z" fill="#ed2024" stroke="#000" stroke-width="1.8" stroke-miterlimit="10"/><path d="M540.72 609.80L550.12 629.30L531.32 629.30Z" fill="#ed2024" stroke="#000" stroke-width="1.8" stroke-miterlimit="10"/><path d="M558.47 607.80L567.87 627.30L549.07 627.30Z" fill="#ed2024" stroke="#000" stroke-width="1.8" stroke-miterlimit="10"/><path d="M576.21 605.10L585.61 624.60L566.81 624.60Z" fill="#ed2024" stroke="#000" stroke-width="1.8" stroke-miterlimit="10"/><path d="M593.96 606.00L603.36 625.50L584.56 625.50Z" fill="#ed2024" stroke="#000" stroke-width="1.8" stroke-miterlimit="10"/><path d="M611.70 601.30L621.10 620.80L602.30 620.80Z" fill="#ed2024" stroke="#000" stroke-width="1.8" stroke-miterlimit="10"/><path d="M629.45 600.30L638.85 619.80L620.05 619.80Z" fill="#ed2024" stroke="#000" stroke-width="1.8" stroke-miterlimit="10"/><path d="M647.19 596.50L656.59 616.00L637.79 616.00Z" fill="#ed2024" stroke="#000" stroke-width="1.8" stroke-miterlimit="10"/><path d="M664.94 592.70L674.34 612.20L655.54 612.20Z" fill="#ed2024" stroke="#000" stroke-width="1.8" stroke-miterlimit="10"/><path d="M682.68 589.80L692.08 609.30L673.28 609.30Z" fill="#ed2024" stroke="#000" stroke-width="1.8" stroke-miterlimit="10"/><path d="M700.42 581.30L709.82 600.80L691.02 600.80Z" fill="#ed2024" stroke="#000" stroke-width="1.8" stroke-miterlimit="10"/><path d="M718.17 572.70L727.57 592.20L708.77 592.20Z" fill="#ed2024" stroke="#000" stroke-width="1.8" stroke-miterlimit="10"/><path d="M735.91 562.20L745.31 581.70L726.51 581.70Z" fill="#ed2024" stroke="#000" stroke-width="1.8" stroke-miterlimit="10"/><path d="M753.66 546.80L763.06 566.30L744.26 566.30Z" fill="#ed2024" stroke="#000" stroke-width="1.8" stroke-miterlimit="10"/><path d="M771.40 535.50L780.80 555.00L762.00 555.00Z" fill="#ed2024" stroke="#000" stroke-width="1.8" stroke-miterlimit="10"/><path d="M789.15 519.80L798.55 539.30L779.75 539.30Z" fill="#ed2024" stroke="#000" stroke-width="1.8" stroke-miterlimit="10"/><path d="M806.89 500.80L816.29 520.30L797.50 520.30Z" fill="#ed2024" stroke="#000" stroke-width="1.8" stroke-miterlimit="10"/><path d="M824.64 482.90L834.04 502.40L815.24 502.40Z" fill="#ed2024" stroke="#000" stroke-width="1.8" stroke-miterlimit="10"/><path d="M842.38 464.80L851.78 484.30L832.99 484.30Z" fill="#ed2024" stroke="#000" stroke-width="1.8" stroke-miterlimit="10"/><path d="M860.13 443.10L869.53 462.60L850.73 462.60Z" fill="#ed2024" stroke="#000" stroke-width="1.8" stroke-miterlimit="10"/><path d="M877.88 426.80L887.27 446.30L868.48 446.30Z" fill="#ed2024" stroke="#000" stroke-width="1.8" stroke-miterlimit="10"/><path d="M895.62 409.60L905.02 429.10L886.22 429.10Z" fill="#ed2024" stroke="#000" stroke-width="1.8" stroke-miterlimit="10"/><path d="M913.37 396.50L922.76 416.00L903.97 416.00Z" fill="#ed2024" stroke="#000" stroke-width="1.8" stroke-miterlimit="10"/><path d="M931.11 380.80L940.51 400.30L921.71 400.30Z" fill="#ed2024" stroke="#000" stroke-width="1.8" stroke-miterlimit="10"/><path d="M948.86 366.50L958.25 386.00L939.46 386.00Z" fill="#ed2024" stroke="#000" stroke-width="1.8" stroke-miterlimit="10"/><path d="M966.60 355.10L976.00 374.60L957.20 374.60Z" fill="#ed2024" stroke="#000" stroke-width="1.8" stroke-miterlimit="10"/><path d="M984.35 343.70L993.75 363.20L974.95 363.20Z" fill="#ed2024" stroke="#000" stroke-width="1.8" stroke-miterlimit="10"/><path d="M1002.09 333.20L1011.49 352.70L992.69 352.70Z" fill="#ed2024" stroke="#000" stroke-width="1.8" stroke-miterlimit="10"/><path d="M1019.84 325.60L1029.24 345.10L1010.44 345.10Z" fill="#ed2024" stroke="#000" stroke-width="1.8" stroke-miterlimit="10"/><path d="M1037.58 316.00L1046.98 335.50L1028.18 335.50Z" fill="#ed2024" stroke="#000" stroke-width="1.8" stroke-miterlimit="10"/><path d="M1055.33 311.30L1064.73 330.80L1045.92 330.80Z" fill="#ed2024" stroke="#000" stroke-width="1.8" stroke-miterlimit="10"/><path d="M1073.07 301.80L1082.47 321.30L1063.67 321.30Z" fill="#ed2024" stroke="#000" stroke-width="1.8" stroke-miterlimit="10"/><path d="M1090.82 296.00L1100.22 315.50L1081.41 315.50Z" fill="#ed2024" stroke="#000" stroke-width="1.8" stroke-miterlimit="10"/><path d="M1108.56 288.40L1117.96 307.90L1099.16 307.90Z" fill="#ed2024" stroke="#000" stroke-width="1.8" stroke-miterlimit="10"/><path d="M1126.31 279.80L1135.71 299.30L1116.90 299.30Z" fill="#ed2024" stroke="#000" stroke-width="1.8" stroke-miterlimit="10"/><path d="M1144.05 274.10L1153.45 293.60L1134.65 293.60Z" fill="#ed2024" stroke="#000" stroke-width="1.8" stroke-miterlimit="10"/><path d="M1161.80 266.50L1171.20 286.00L1152.39 286.00Z" fill="#ed2024" stroke="#000" stroke-width="1.8" stroke-miterlimit="10"/><path d="M1179.54 259.80L1188.94 279.30L1170.14 279.30Z" fill="#ed2024" stroke="#000" stroke-width="1.8" stroke-miterlimit="10"/><path d="M1197.29 255.10L1206.69 274.60L1187.88 274.60Z" fill="#ed2024" stroke="#000" stroke-width="1.8" stroke-miterlimit="10"/><path d="M1215.03 248.40L1224.43 267.90L1205.63 267.90Z" fill="#ed2024" stroke="#000" stroke-width="1.8" stroke-miterlimit="10"/><path d="M1232.78 245.60L1242.18 265.10L1223.38 265.10Z" fill="#ed2024" stroke="#000" stroke-width="1.8" stroke-miterlimit="10"/><path d="M1250.52 242.70L1259.92 262.20L1241.12 262.20Z" fill="#ed2024" stroke="#000" stroke-width="1.8" stroke-miterlimit="10"/><path d="M1268.27 234.80L1277.67 254.30L1258.87 254.30Z" fill="#ed2024" stroke="#000" stroke-width="1.8" stroke-miterlimit="10"/><path d="M1286.01 232.80L1295.41 252.30L1276.61 252.30Z" fill="#ed2024" stroke="#000" stroke-width="1.8" stroke-miterlimit="10"/><path d="M1303.76 231.30L1313.16 250.80L1294.36 250.80Z" fill="#ed2024" stroke="#000" stroke-width="1.8" stroke-miterlimit="10"/><path d="M1321.50 229.40L1330.90 248.90L1312.10 248.90Z" fill="#ed2024" stroke="#000" stroke-width="1.8" stroke-miterlimit="10"/><path d="M1339.25 228.40L1348.65 247.90L1329.85 247.90Z" fill="#ed2024" stroke="#000" stroke-width="1.8" stroke-miterlimit="10"/><path d="M1356.99 230.30L1366.39 249.80L1347.59 249.80Z" fill="#ed2024" stroke="#000" stroke-width="1.8" stroke-miterlimit="10"/><path d="M1374.74 230.30L1384.14 249.80L1365.34 249.80Z" fill="#ed2024" stroke="#000" stroke-width="1.8" stroke-miterlimit="10"/><path d="M1392.48 230.30L1401.88 249.80L1383.08 249.80Z" fill="#ed2024" stroke="#000" stroke-width="1.8" stroke-miterlimit="10"/><path d="M1410.22 231.30L1419.62 250.80L1400.82 250.80Z" fill="#ed2024" stroke="#000" stroke-width="1.8" stroke-miterlimit="10"/><path d="M1427.97 226.30L1437.37 245.80L1418.57 245.80Z" fill="#ed2024" stroke="#000" stroke-width="1.8" stroke-miterlimit="10"/><path d="M1445.71 227.30L1455.12 246.80L1436.31 246.80Z" fill="#ed2024" stroke="#000" stroke-width="1.8" stroke-miterlimit="10"/><path d="M1463.46 228.30L1472.86 247.80L1454.06 247.80Z" fill="#ed2024" stroke="#000" stroke-width="1.8" stroke-miterlimit="10"/><path d="M1481.20 233.60L1490.61 253.10L1471.80 253.10Z" fill="#ed2024" stroke="#000" stroke-width="1.8" stroke-miterlimit="10"/><path d="M1498.95 232.60L1508.35 252.10L1489.55 252.10Z" fill="#ed2024" stroke="#000" stroke-width="1.8" stroke-miterlimit="10"/><path d="M1516.69 233.80L1526.10 253.30L1507.29 253.30Z" fill="#ed2024" stroke="#000" stroke-width="1.8" stroke-miterlimit="10"/><path d="M1534.44 234.10L1543.84 253.60L1525.04 253.60Z" fill="#ed2024" stroke="#000" stroke-width="1.8" stroke-miterlimit="10"/><path d="M1552.18 236.80L1561.59 256.30L1542.78 256.30Z" fill="#ed2024" stroke="#000" stroke-width="1.8" stroke-miterlimit="10"/><path d="M1569.93 238.00L1579.33 257.50L1560.53 257.50Z" fill="#ed2024" stroke="#000" stroke-width="1.8" stroke-miterlimit="10"/><path d="M1587.67 240.10L1597.08 259.60L1578.27 259.60Z" fill="#ed2024" stroke="#000" stroke-width="1.8" stroke-miterlimit="10"/><path d="M1605.42 239.10L1614.82 258.60L1596.02 258.60Z" fill="#ed2024" stroke="#000" stroke-width="1.8" stroke-miterlimit="10"/><path d="M1623.16 241.80L1632.57 261.30L1613.76 261.30Z" fill="#ed2024" stroke="#000" stroke-width="1.8" stroke-miterlimit="10"/><path d="M1640.91 243.00L1650.31 262.50L1631.51 262.50Z" fill="#ed2024" stroke="#000" stroke-width="1.8" stroke-miterlimit="10"/><path d="M1658.65 243.90L1668.06 263.40L1649.25 263.40Z" fill="#ed2024" stroke="#000" stroke-width="1.8" stroke-miterlimit="10"/><path d="M1676.40 244.70L1685.80 264.20L1667.00 264.20Z" fill="#ed2024" stroke="#000" stroke-width="1.8" stroke-miterlimit="10"/><path d="M1694.14 245.80L1703.55 265.30L1684.74 265.30Z" fill="#ed2024" stroke="#000" stroke-width="1.8" stroke-miterlimit="10"/><path d="M1711.89 245.80L1721.29 265.30L1702.49 265.30Z" fill="#ed2024" stroke="#000" stroke-width="1.8" stroke-miterlimit="10"/><path d="M1729.63 248.20L1739.04 267.70L1720.23 267.70Z" fill="#ed2024" stroke="#000" stroke-width="1.8" stroke-miterlimit="10"/><path d="M1747.38 249.40L1756.78 268.90L1737.98 268.90Z" fill="#ed2024" stroke="#000" stroke-width="1.8" stroke-miterlimit="10"/><path d="M1765.12 250.70L1774.53 270.20L1755.72 270.20Z" fill="#ed2024" stroke="#000" stroke-width="1.8" stroke-miterlimit="10"/><path d="M1782.87 251.90L1792.27 271.40L1773.47 271.40Z" fill="#ed2024" stroke="#000" stroke-width="1.8" stroke-miterlimit="10"/></g>
<circle cx="688.3" cy="677.1" r="22.8" fill="none" stroke="#231f20" stroke-width="3.2"/>
<text transform="translate(736.89,699.80) scale(0.8931,1)" font-size="42.30" font-weight="normal" >0 Gy</text>
<path d="M1089.2 651L1111.7 696.7L1066.6 696.7Z" fill="none" stroke="#231f20" stroke-width="3.2"/>
<text transform="translate(1132.54,692.10) scale(0.9029,1)" font-size="42.30" font-weight="normal" >1000 Gy</text>
<path d="M235.4 802.9499999999999V1495.6M215.0 1495.6H1872.4" stroke="#231f20" stroke-width="3.4" fill="none"/>
<path d="M215.4 1380.30H235.4M215.4 1265.00H235.4M215.4 1149.70H235.4M215.4 1034.40H235.4M215.4 919.10H235.4M215.4 803.80H235.4" stroke="#231f20" stroke-width="1.7" fill="none"/>
<text transform="translate(179.90,1507.00) scale(0.9456,1)" font-size="42.30" font-weight="normal" >0</text>
<text transform="translate(140.07,1392.30) scale(0.9576,1)" font-size="42.30" font-weight="normal" >200</text>
<text transform="translate(141.30,1277.00) scale(0.9398,1)" font-size="42.30" font-weight="normal" >400</text>
<text transform="translate(140.07,1161.70) scale(0.9576,1)" font-size="42.30" font-weight="normal" >600</text>
<text transform="translate(140.28,1046.40) scale(0.9546,1)" font-size="42.30" font-weight="normal" >800</text>
<text transform="translate(122.32,931.10) scale(0.9400,1)" font-size="42.30" font-weight="normal" >1000</text>
<text transform="translate(122.32,815.80) scale(0.9400,1)" font-size="42.30" font-weight="normal" >1200</text>
<text transform="translate(34.36,799.00) scale(0.9730,1)" font-size="40.10" font-weight="bold" fill="#000" >B</text>
<text transform="translate(276.79,889.60) scale(0.8908,1)" font-size="42.30" font-weight="normal" >0 Gy</text>
<text transform="translate(104.80,1366.59) rotate(-90) scale(0.9596,1)" font-size="42.80" font-weight="normal" >Relative FluorescenceUnits</text>
<path d="M253.10 1478.00V1484.00M248.10 1478.00H258.10M248.10 1484.00H258.10M271.35 1477.27V1483.40M266.35 1477.27H276.35M266.35 1483.40H276.35M289.60 1476.53V1482.80M284.60 1476.53H294.60M284.60 1482.80H294.60M307.85 1475.80V1482.20M302.85 1475.80H312.85M302.85 1482.20H312.85M326.10 1475.07V1481.60M321.10 1475.07H331.10M321.10 1481.60H331.10M344.35 1474.33V1481.00M339.35 1474.33H349.35M339.35 1481.00H349.35M362.60 1473.60V1480.40M357.60 1473.60H367.60M357.60 1480.40H367.60M380.85 1464.23V1471.17M375.85 1464.23H385.85M375.85 1471.17H385.85M399.10 1462.17V1469.23M394.10 1462.17H404.10M394.10 1469.23H404.10M417.35 1466.40V1473.60M412.35 1466.40H422.35M412.35 1473.60H422.35M435.60 1460.83V1468.17M430.60 1460.83H440.60M430.60 1468.17H440.60M453.85 1457.77V1465.23M448.85 1457.77H458.85M448.85 1465.23H458.85M472.10 1456.70V1464.30M467.10 1456.70H477.10M467.10 1464.30H477.10M490.35 1445.13V1452.87M485.35 1445.13H495.35M485.35 1452.87H495.35M508.60 1439.97V1447.83M503.60 1439.97H513.60M503.60 1447.83H513.60M526.85 1434.90V1442.90M521.85 1434.90H531.85M521.85 1442.90H531.85M545.10 1417.50V1425.90M540.10 1417.50H550.10M540.10 1425.90H550.10M563.35 1405.20V1414.00M558.35 1405.20H568.35M558.35 1414.00H568.35M581.60 1392.10V1401.30M576.60 1392.10H586.60M576.60 1401.30H586.60M599.85 1385.60V1395.20M594.85 1385.60H604.85M594.85 1395.20H604.85M618.10 1365.20V1375.20M613.10 1365.20H623.10M613.10 1375.20H623.10M636.35 1359.90V1370.30M631.35 1359.90H641.35M631.35 1370.30H641.35M654.60 1346.60V1357.40M649.60 1346.60H659.60M649.60 1357.40H659.60M672.85 1332.20V1343.40M667.85 1332.20H677.85M667.85 1343.40H677.85M691.10 1326.90V1338.50M686.10 1326.90H696.10M686.10 1338.50H696.10M709.35 1306.50V1318.50M704.35 1306.50H714.35M704.35 1318.50H714.35M727.60 1275.34V1289.06M722.60 1275.34H732.60M722.60 1289.06H732.60M745.85 1273.39V1288.81M740.85 1273.39H750.85M740.85 1288.81H750.85M764.10 1241.23V1258.37M759.10 1241.23H769.10M759.10 1258.37H769.10M782.35 1231.27V1250.13M777.35 1231.27H787.35M777.35 1250.13H787.35M800.60 1221.31V1241.89M795.60 1221.31H805.60M795.60 1241.89H805.60M818.85 1205.86V1228.14M813.85 1205.86H823.85M813.85 1228.14H823.85M837.10 1186.80V1210.80M832.10 1186.80H842.10M832.10 1210.80H842.10M855.35 1179.50V1205.50M850.35 1179.50H860.35M850.35 1205.50H860.35M873.60 1166.60V1194.60M868.60 1166.60H878.60M868.60 1194.60H878.60M891.85 1139.30V1169.30M886.85 1139.30H896.85M886.85 1169.30H896.85M910.10 1112.80V1144.80M905.10 1112.80H915.10M905.10 1144.80H915.10M928.35 1114.00V1148.00M923.35 1114.00H933.35M923.35 1148.00H933.35M946.60 1095.60V1131.60M941.60 1095.60H951.60M941.60 1131.60H951.60M964.85 1082.60V1120.60M959.85 1082.60H969.85M959.85 1120.60H969.85M983.10 1084.60V1124.60M978.10 1084.60H988.10M978.10 1124.60H988.10M1001.35 1058.20V1099.00M996.35 1058.20H1006.35M996.35 1099.00H1006.35M1019.60 1042.40V1084.00M1014.60 1042.40H1024.60M1014.60 1084.00H1024.60M1037.85 1047.20V1089.60M1032.85 1047.20H1042.85M1032.85 1089.60H1042.85M1056.10 1012.20V1055.40M1051.10 1012.20H1061.10M1051.10 1055.40H1061.10M1074.35 1006.80V1050.80M1069.35 1006.80H1079.35M1069.35 1050.80H1079.35M1092.60 1014.20V1059.40M1087.60 1014.20H1097.60M1087.60 1059.40H1097.60M1110.85 1013.60V1060.00M1105.85 1013.60H1115.85M1105.85 1060.00H1115.85M1129.10 979.00V1026.60M1124.10 979.00H1134.10M1124.10 1026.60H1134.10M1147.35 956.50V1005.30M1142.35 956.50H1152.35M1142.35 1005.30H1152.35M1165.60 994.80V1044.80M1160.60 994.80H1170.60M1160.60 1044.80H1170.60M1183.85 964.00V1016.00M1178.85 964.00H1188.85M1178.85 1016.00H1188.85M1202.10 946.20V1000.20M1197.10 946.20H1207.10M1197.10 1000.20H1207.10M1220.35 989.50V1045.50M1215.35 989.50H1225.35M1215.35 1045.50H1225.35M1238.60 956.90V1014.90M1233.60 956.90H1243.60M1233.60 1014.90H1243.60M1256.85 963.80V1023.80M1251.85 963.80H1261.85M1251.85 1023.80H1261.85M1275.10 1008.70V1070.70M1270.10 1008.70H1280.10M1270.10 1070.70H1280.10M1293.35 1004.80V1068.80M1288.35 1004.80H1298.35M1288.35 1068.80H1298.35M1311.60 963.70V1029.70M1306.60 963.70H1316.60M1306.60 1029.70H1316.60M1329.85 963.60V1031.60M1324.85 963.60H1334.85M1324.85 1031.60H1334.85M1348.10 953.60V1023.60M1343.10 953.60H1353.10M1343.10 1023.60H1353.10M1366.35 933.90V1003.90M1361.35 933.90H1371.35M1361.35 1003.90H1371.35M1384.60 940.70V1010.70M1379.60 940.70H1389.60M1379.60 1010.70H1389.60M1402.85 972.40V1042.40M1397.85 972.40H1407.85M1397.85 1042.40H1407.85M1421.10 932.40V1002.40M1416.10 932.40H1426.10M1416.10 1002.40H1426.10M1439.35 944.10V1014.10M1434.35 944.10H1444.35M1434.35 1014.10H1444.35M1457.60 945.90V1015.90M1452.60 945.90H1462.60M1452.60 1015.90H1462.60M1475.85 973.50V1043.50M1470.85 973.50H1480.85M1470.85 1043.50H1480.85M1494.10 954.30V1024.30M1489.10 954.30H1499.10M1489.10 1024.30H1499.10M1512.35 947.50V1017.50M1507.35 947.50H1517.35M1507.35 1017.50H1517.35M1530.60 991.60V1061.60M1525.60 991.60H1535.60M1525.60 1061.60H1535.60M1548.85 969.00V1041.00M1543.85 969.00H1553.85M1543.85 1041.00H1553.85M1567.10 954.00V1028.00M1562.10 954.00H1572.10M1562.10 1028.00H1572.10M1585.35 960.20V1036.20M1580.35 960.20H1590.35M1580.35 1036.20H1590.35M1603.60 983.30V1061.30M1598.60 983.30H1608.60M1598.60 1061.30H1608.60M1621.85 955.50V1035.50M1616.85 955.50H1626.85M1616.85 1035.50H1626.85M1640.10 959.90V1041.90M1635.10 959.90H1645.10M1635.10 1041.90H1645.10M1658.35 963.40V1047.40M1653.35 963.40H1663.35M1653.35 1047.40H1663.35M1676.60 984.10V1070.10M1671.60 984.10H1681.60M1671.60 1070.10H1681.60M1694.85 971.20V1059.20M1689.85 971.20H1699.85M1689.85 1059.20H1699.85M1713.10 959.50V1049.50M1708.10 959.50H1718.10M1708.10 1049.50H1718.10M1731.35 983.20V1073.20M1726.35 983.20H1736.35M1726.35 1073.20H1736.35M1749.60 989.80V1079.80M1744.60 989.80H1754.60M1744.60 1079.80H1754.60M1767.85 970.20V1060.20M1762.85 970.20H1772.85M1762.85 1060.20H1772.85M1786.10 964.80V1054.80M1781.10 964.80H1791.10M1781.10 1054.80H1791.10M1804.35 997.90V1087.90M1799.35 997.90H1809.35M1799.35 1087.90H1809.35M1822.60 989.80V1079.80M1817.60 989.80H1827.60M1817.60 1079.80H1827.60" stroke="#575858" stroke-width="1.8" fill="none"/>
<path d="M253.10 1477.00V1483.00M248.10 1477.00H258.10M248.10 1483.00H258.10M271.35 1476.72V1482.98M266.35 1476.72H276.35M266.35 1482.98H276.35M289.60 1476.43V1482.97M284.60 1476.43H294.60M284.60 1482.97H294.60M307.85 1476.15V1482.95M302.85 1476.15H312.85M302.85 1482.95H312.85M326.10 1475.87V1482.93M321.10 1475.87H331.10M321.10 1482.93H331.10M344.35 1475.13V1482.47M339.35 1475.13H349.35M339.35 1482.47H349.35M362.60 1474.40V1482.00M357.60 1474.40H367.60M357.60 1482.00H367.60M380.85 1473.67V1481.53M375.85 1473.67H385.85M375.85 1481.53H385.85M399.10 1472.93V1481.07M394.10 1472.93H404.10M394.10 1481.07H404.10M417.35 1472.30V1480.70M412.35 1472.30H422.35M412.35 1480.70H422.35M435.60 1471.67V1480.33M430.60 1471.67H440.60M430.60 1480.33H440.60M453.85 1471.03V1479.97M448.85 1471.03H458.85M448.85 1479.97H458.85M472.10 1470.40V1479.60M467.10 1470.40H477.10M467.10 1479.60H477.10M490.35 1467.57V1477.03M485.35 1467.57H495.35M485.35 1477.03H495.35M508.60 1465.40V1475.13M503.60 1465.40H513.60M503.60 1475.13H513.60M526.85 1463.23V1473.23M521.85 1463.23H531.85M521.85 1473.23H531.85M545.10 1460.20V1472.20M540.10 1460.20H550.10M540.10 1472.20H550.10M563.35 1462.40V1476.40M558.35 1462.40H568.35M558.35 1476.40H568.35M581.60 1462.40V1478.40M576.60 1462.40H586.60M576.60 1478.40H586.60M599.85 1455.30V1473.30M594.85 1455.30H604.85M594.85 1473.30H604.85M618.10 1448.20V1468.20M613.10 1448.20H623.10M613.10 1468.20H623.10M636.35 1442.45V1467.95M631.35 1442.45H641.35M631.35 1467.95H641.35M654.60 1435.60V1466.60M649.60 1435.60H659.60M649.60 1466.60H659.60M672.85 1425.85V1462.35M667.85 1425.85H677.85M667.85 1462.35H677.85M691.10 1423.10V1465.10M686.10 1423.10H696.10M686.10 1465.10H696.10M709.35 1389.70V1443.70M704.35 1389.70H714.35M704.35 1443.70H714.35M727.60 1372.60V1438.60M722.60 1372.60H732.60M722.60 1438.60H732.60M745.85 1384.60V1424.60M740.85 1384.60H750.85M740.85 1424.60H750.85M764.10 1364.40V1416.40M759.10 1364.40H769.10M759.10 1416.40H769.10M782.35 1348.20V1402.20M777.35 1348.20H787.35M777.35 1402.20H787.35M800.60 1338.60V1396.60M795.60 1338.60H805.60M795.60 1396.60H805.60M818.85 1326.10V1394.10M813.85 1326.10H823.85M813.85 1394.10H823.85M837.10 1306.80V1360.80M832.10 1306.80H842.10M832.10 1360.80H842.10M855.35 1298.70V1358.70M850.35 1298.70H860.35M850.35 1358.70H860.35M873.60 1289.50V1335.50M868.60 1289.50H878.60M868.60 1335.50H878.60M891.85 1264.00V1318.00M886.85 1264.00H896.85M886.85 1318.00H896.85M910.10 1260.20V1342.20M905.10 1260.20H915.10M905.10 1342.20H915.10M928.35 1259.60V1331.60M923.35 1259.60H933.35M923.35 1331.60H933.35M946.60 1242.80V1324.80M941.60 1242.80H951.60M941.60 1324.80H951.60M964.85 1242.80V1324.80M959.85 1242.80H969.85M959.85 1324.80H969.85M983.10 1261.20V1341.20M978.10 1261.20H988.10M978.10 1341.20H988.10M1001.35 1243.70V1331.70M996.35 1243.70H1006.35M996.35 1331.70H1006.35M1019.60 1246.80V1330.80M1014.60 1246.80H1024.60M1014.60 1330.80H1024.60M1037.85 1261.70V1331.70M1032.85 1261.70H1042.85M1032.85 1331.70H1042.85M1056.10 1227.70V1313.70M1051.10 1227.70H1061.10M1051.10 1313.70H1061.10M1074.35 1236.00V1310.00M1069.35 1236.00H1079.35M1069.35 1310.00H1079.35M1092.60 1239.00V1325.00M1087.60 1239.00H1097.60M1087.60 1325.00H1097.60M1110.85 1248.80V1328.80M1105.85 1248.80H1115.85M1105.85 1328.80H1115.85M1129.10 1222.30V1312.30M1124.10 1222.30H1134.10M1124.10 1312.30H1134.10M1147.35 1207.90V1301.90M1142.35 1207.90H1152.35M1142.35 1301.90H1152.35M1165.60 1233.90V1327.90M1160.60 1233.90H1170.60M1160.60 1327.90H1170.60M1183.85 1209.80V1315.80M1178.85 1209.80H1188.85M1178.85 1315.80H1188.85M1202.10 1213.10V1301.10M1197.10 1213.10H1207.10M1197.10 1301.10H1207.10M1220.35 1232.70V1326.70M1215.35 1232.70H1225.35M1215.35 1326.70H1225.35M1238.60 1220.90V1306.90M1233.60 1220.90H1243.60M1233.60 1306.90H1243.60M1256.85 1217.80V1307.80M1251.85 1217.80H1261.85M1251.85 1307.80H1261.85M1275.10 1280.30V1358.30M1270.10 1280.30H1280.10M1270.10 1358.30H1280.10M1293.35 1275.20V1361.20M1288.35 1275.20H1298.35M1288.35 1361.20H1298.35M1311.60 1217.60V1321.60M1306.60 1217.60H1316.60M1306.60 1321.60H1316.60M1329.85 1219.80V1323.80M1324.85 1219.80H1334.85M1324.85 1323.80H1334.85M1348.10 1209.80V1315.80M1343.10 1209.80H1353.10M1343.10 1315.80H1353.10M1366.35 1191.10V1305.10M1361.35 1191.10H1371.35M1361.35 1305.10H1371.35M1384.60 1191.10V1305.10M1379.60 1191.10H1389.60M1379.60 1305.10H1389.60M1402.85 1222.90V1338.90M1397.85 1222.90H1407.85M1397.85 1338.90H1407.85M1421.10 1193.80V1297.80M1416.10 1193.80H1426.10M1416.10 1297.80H1426.10M1439.35 1194.10V1312.10M1434.35 1194.10H1444.35M1434.35 1312.10H1444.35M1457.60 1201.80V1305.80M1452.60 1201.80H1462.60M1452.60 1305.80H1462.60M1475.85 1209.20V1313.20M1470.85 1209.20H1480.85M1470.85 1313.20H1480.85M1494.10 1202.10V1312.10M1489.10 1202.10H1499.10M1489.10 1312.10H1499.10M1512.35 1191.60V1307.60M1507.35 1191.60H1517.35M1507.35 1307.60H1517.35M1530.60 1224.40V1336.40M1525.60 1224.40H1535.60M1525.60 1336.40H1535.60M1548.85 1214.20V1314.20M1543.85 1214.20H1553.85M1543.85 1314.20H1553.85M1567.10 1192.10V1310.10M1562.10 1192.10H1572.10M1562.10 1310.10H1572.10M1585.35 1198.10V1312.10M1580.35 1198.10H1590.35M1580.35 1312.10H1590.35M1603.60 1214.30V1330.30M1598.60 1214.30H1608.60M1598.60 1330.30H1608.60M1621.85 1182.00V1300.00M1616.85 1182.00H1626.85M1616.85 1300.00H1626.85M1640.10 1187.60V1309.60M1635.10 1187.60H1645.10M1635.10 1309.60H1645.10M1658.35 1194.60V1302.60M1653.35 1194.60H1663.35M1653.35 1302.60H1663.35M1676.60 1201.20V1319.20M1671.60 1201.20H1681.60M1671.60 1319.20H1681.60M1694.85 1180.00V1314.00M1689.85 1180.00H1699.85M1689.85 1314.00H1699.85M1713.10 1185.00V1299.00M1708.10 1185.00H1718.10M1708.10 1299.00H1718.10M1731.35 1195.70V1309.70M1726.35 1195.70H1736.35M1726.35 1309.70H1736.35M1749.60 1198.20V1320.20M1744.60 1198.20H1754.60M1744.60 1320.20H1754.60M1767.85 1177.50V1295.50M1762.85 1177.50H1772.85M1762.85 1295.50H1772.85M1786.10 1174.30V1296.30M1781.10 1174.30H1791.10M1781.10 1296.30H1791.10M1804.35 1205.20V1315.20M1799.35 1205.20H1809.35M1799.35 1315.20H1809.35M1822.60 1192.00V1302.00M1817.60 1192.00H1827.60M1817.60 1302.00H1827.60" stroke="#575858" stroke-width="1.8" fill="none"/>
<path d="M253.10 1474.30V1480.30M248.10 1474.30H258.10M248.10 1480.30H258.10M271.35 1469.17V1475.43M266.35 1469.17H276.35M266.35 1475.43H276.35M289.60 1472.03V1478.57M284.60 1472.03H294.60M284.60 1478.57H294.60M307.85 1472.90V1479.70M302.85 1472.90H312.85M302.85 1479.70H312.85M326.10 1471.77V1478.83M321.10 1471.77H331.10M321.10 1478.83H331.10M344.35 1471.63V1478.97M339.35 1471.63H349.35M339.35 1478.97H349.35M362.60 1471.50V1479.10M357.60 1471.50H367.60M357.60 1479.10H367.60M380.85 1468.77V1476.63M375.85 1468.77H385.85M375.85 1476.63H385.85M399.10 1470.23V1478.37M394.10 1470.23H404.10M394.10 1478.37H404.10M417.35 1471.10V1479.50M412.35 1471.10H422.35M412.35 1479.50H422.35M435.60 1467.97V1476.63M430.60 1467.97H440.60M430.60 1476.63H440.60M453.85 1467.43V1476.37M448.85 1467.43H458.85M448.85 1476.37H458.85M472.10 1468.70V1477.90M467.10 1468.70H477.10M467.10 1477.90H477.10M490.35 1464.47V1473.93M485.35 1464.47H495.35M485.35 1473.93H495.35M508.60 1464.33V1474.07M503.60 1464.33H513.60M503.60 1474.07H513.60M526.85 1465.20V1475.20M521.85 1465.20H531.85M521.85 1475.20H531.85M545.10 1456.70V1467.70M540.10 1456.70H550.10M540.10 1467.70H550.10M563.35 1455.80V1467.80M558.35 1455.80H568.35M558.35 1467.80H568.35M581.60 1454.80V1467.80M576.60 1454.80H586.60M576.60 1467.80H586.60M599.85 1448.20V1462.20M594.85 1448.20H604.85M594.85 1462.20H604.85M618.10 1438.60V1453.60M613.10 1438.60H623.10M613.10 1453.60H623.10M636.35 1433.00V1449.00M631.35 1433.00H641.35M631.35 1449.00H641.35M654.60 1420.40V1437.40M649.60 1420.40H659.60M649.60 1437.40H659.60M672.85 1409.80V1427.80M667.85 1409.80H677.85M667.85 1427.80H677.85M691.10 1403.20V1422.20M686.10 1403.20H696.10M686.10 1422.20H696.10M709.35 1372.30V1392.30M704.35 1372.30H714.35M704.35 1392.30H714.35M727.60 1353.10V1375.10M722.60 1353.10H732.60M722.60 1375.10H732.60M745.85 1344.00V1368.00M740.85 1344.00H750.85M740.85 1368.00H750.85M764.10 1308.60V1334.60M759.10 1308.60H769.10M759.10 1334.60H769.10M782.35 1282.40V1309.40M777.35 1282.40H787.35M777.35 1309.40H787.35M800.60 1259.60V1287.60M795.60 1259.60H805.60M795.60 1287.60H805.60M818.85 1240.30V1269.30M813.85 1240.30H823.85M813.85 1269.30H823.85M837.10 1212.90V1242.90M832.10 1212.90H842.10M832.10 1242.90H842.10M855.35 1202.07V1234.73M850.35 1202.07H860.35M850.35 1234.73H860.35M873.60 1182.73V1218.07M868.60 1182.73H878.60M868.60 1218.07H878.60M891.85 1159.00V1197.00M886.85 1159.00H896.85M886.85 1197.00H896.85M910.10 1131.80V1172.20M905.10 1131.80H915.10M905.10 1172.20H915.10M928.35 1121.60V1164.40M923.35 1121.60H933.35M923.35 1164.40H933.35M946.60 1098.40V1143.60M941.60 1098.40H951.60M941.60 1143.60H951.60M964.85 1086.00V1133.60M959.85 1086.00H969.85M959.85 1133.60H969.85M983.10 1089.70V1139.70M978.10 1089.70H988.10M978.10 1139.70H988.10M1001.35 1061.10V1111.90M996.35 1061.10H1006.35M996.35 1111.90H1006.35M1019.60 1056.80V1108.40M1014.60 1056.80H1024.60M1014.60 1108.40H1024.60M1037.85 1056.40V1108.80M1032.85 1056.40H1042.85M1032.85 1108.80H1042.85M1056.10 1013.50V1066.70M1051.10 1013.50H1061.10M1051.10 1066.70H1061.10M1074.35 1001.40V1055.40M1069.35 1001.40H1079.35M1069.35 1055.40H1079.35M1092.60 1018.30V1075.50M1087.60 1018.30H1097.60M1087.60 1075.50H1097.60M1110.85 1016.70V1077.10M1105.85 1016.70H1115.85M1105.85 1077.10H1115.85M1129.10 984.60V1048.20M1124.10 984.60H1134.10M1124.10 1048.20H1134.10M1147.35 976.90V1043.70M1142.35 976.90H1152.35M1142.35 1043.70H1152.35M1165.60 1002.40V1072.40M1160.60 1002.40H1170.60M1160.60 1072.40H1170.60M1183.85 983.30V1055.30M1178.85 983.30H1188.85M1178.85 1055.30H1188.85M1202.10 972.00V1046.00M1197.10 972.00H1207.10M1197.10 1046.00H1207.10M1220.35 995.80V1071.80M1215.35 995.80H1225.35M1215.35 1071.80H1225.35M1238.60 963.20V1041.20M1233.60 963.20H1243.60M1233.60 1041.20H1243.60M1256.85 972.60V1052.60M1251.85 972.60H1261.85M1251.85 1052.60H1261.85M1275.10 1016.00V1096.00M1270.10 1016.00H1280.10M1270.10 1096.00H1280.10M1293.35 1012.60V1092.60M1288.35 1012.60H1298.35M1288.35 1092.60H1298.35M1311.60 972.60V1052.60M1306.60 972.60H1316.60M1306.60 1052.60H1316.60M1329.85 973.00V1053.00M1324.85 973.00H1334.85M1324.85 1053.00H1334.85M1348.10 968.00V1048.00M1343.10 968.00H1353.10M1343.10 1048.00H1353.10M1366.35 949.20V1028.00M1361.35 949.20H1371.35M1361.35 1028.00H1371.35M1384.60 947.50V1025.10M1379.60 947.50H1389.60M1379.60 1025.10H1389.60M1402.85 990.20V1066.60M1397.85 990.20H1407.85M1397.85 1066.60H1407.85M1421.10 944.90V1020.10M1416.10 944.90H1426.10M1416.10 1020.10H1426.10M1439.35 953.40V1027.40M1434.35 953.40H1444.35M1434.35 1027.40H1444.35M1457.60 959.10V1034.30M1452.60 959.10H1462.60M1452.60 1034.30H1462.60M1475.85 972.10V1048.50M1470.85 972.10H1480.85M1470.85 1048.50H1480.85M1494.10 956.60V1034.20M1489.10 956.60H1499.10M1489.10 1034.20H1499.10M1512.35 951.00V1029.80M1507.35 951.00H1517.35M1507.35 1029.80H1517.35M1530.60 983.20V1063.20M1525.60 983.20H1535.60M1525.60 1063.20H1535.60M1548.85 963.70V1045.30M1543.85 963.70H1553.85M1543.85 1045.30H1553.85M1567.10 949.80V1033.00M1562.10 949.80H1572.10M1562.10 1033.00H1572.10M1585.35 949.00V1033.80M1580.35 949.00H1590.35M1580.35 1033.80H1590.35M1603.60 972.00V1058.40M1598.60 972.00H1608.60M1598.60 1058.40H1608.60M1621.85 942.10V1030.10M1616.85 942.10H1626.85M1616.85 1030.10H1626.85M1640.10 946.00V1034.40M1635.10 946.00H1645.10M1635.10 1034.40H1645.10M1658.35 949.40V1038.20M1653.35 949.40H1663.35M1653.35 1038.20H1663.35M1676.60 963.40V1052.60M1671.60 963.40H1681.60M1671.60 1052.60H1681.60M1694.85 950.70V1040.30M1689.85 950.70H1699.85M1689.85 1040.30H1699.85M1713.10 938.00V1028.00M1708.10 938.00H1718.10M1708.10 1028.00H1718.10M1731.35 958.20V1048.20M1726.35 958.20H1736.35M1726.35 1048.20H1736.35M1749.60 964.80V1054.80M1744.60 964.80H1754.60M1744.60 1054.80H1754.60M1767.85 938.60V1028.60M1762.85 938.60H1772.85M1762.85 1028.60H1772.85M1786.10 934.50V1024.50M1781.10 934.50H1791.10M1781.10 1024.50H1791.10M1804.35 959.50V1049.50M1799.35 959.50H1809.35M1799.35 1049.50H1809.35M1822.60 950.50V1040.50M1817.60 950.50H1827.60M1817.60 1040.50H1827.60" stroke="#575858" stroke-width="1.8" fill="none"/>
<g><circle cx="253.10" cy="1481.00" r="9.75" fill="#000000"/><circle cx="271.35" cy="1480.33" r="9.75" fill="#000000"/><circle cx="289.60" cy="1479.67" r="9.75" fill="#000000"/><circle cx="307.85" cy="1479.00" r="9.75" fill="#000000"/><circle cx="326.10" cy="1478.33" r="9.75" fill="#000000"/><circle cx="344.35" cy="1477.67" r="9.75" fill="#000000"/><circle cx="362.60" cy="1477.00" r="9.75" fill="#000000"/><circle cx="380.85" cy="1467.70" r="9.75" fill="#000000"/><circle cx="399.10" cy="1465.70" r="9.75" fill="#000000"/><circle cx="417.35" cy="1470.00" r="9.75" fill="#000000"/><circle cx="435.60" cy="1464.50" r="9.75" fill="#000000"/><circle cx="453.85" cy="1461.50" r="9.75" fill="#000000"/><circle cx="472.10" cy="1460.50" r="9.75" fill="#000000"/><circle cx="490.35" cy="1449.00" r="9.75" fill="#000000"/><circle cx="508.60" cy="1443.90" r="9.75" fill="#000000"/><circle cx="526.85" cy="1438.90" r="9.75" fill="#000000"/><circle cx="545.10" cy="1421.70" r="9.75" fill="#000000"/><circle cx="563.35" cy="1409.60" r="9.75" fill="#000000"/><circle cx="581.60" cy="1396.70" r="9.75" fill="#000000"/><circle cx="599.85" cy="1390.40" r="9.75" fill="#000000"/><circle cx="618.10" cy="1370.20" r="9.75" fill="#000000"/><circle cx="636.35" cy="1365.10" r="9.75" fill="#000000"/><circle cx="654.60" cy="1352.00" r="9.75" fill="#000000"/><circle cx="672.85" cy="1337.80" r="9.75" fill="#000000"/><circle cx="691.10" cy="1332.70" r="9.75" fill="#000000"/><circle cx="709.35" cy="1312.50" r="9.75" fill="#000000"/><circle cx="727.60" cy="1282.20" r="9.75" fill="#000000"/><circle cx="745.85" cy="1281.10" r="9.75" fill="#000000"/><circle cx="764.10" cy="1249.80" r="9.75" fill="#000000"/><circle cx="782.35" cy="1240.70" r="9.75" fill="#000000"/><circle cx="800.60" cy="1231.60" r="9.75" fill="#000000"/><circle cx="818.85" cy="1217.00" r="9.75" fill="#000000"/><circle cx="837.10" cy="1198.80" r="9.75" fill="#000000"/><circle cx="855.35" cy="1192.50" r="9.75" fill="#000000"/><circle cx="873.60" cy="1180.60" r="9.75" fill="#000000"/><circle cx="891.85" cy="1154.30" r="9.75" fill="#000000"/><circle cx="910.10" cy="1128.80" r="9.75" fill="#000000"/><circle cx="928.35" cy="1131.00" r="9.75" fill="#000000"/><circle cx="946.60" cy="1113.60" r="9.75" fill="#000000"/><circle cx="964.85" cy="1101.60" r="9.75" fill="#000000"/><circle cx="983.10" cy="1104.60" r="9.75" fill="#000000"/><circle cx="1001.35" cy="1078.60" r="9.75" fill="#000000"/><circle cx="1019.60" cy="1063.20" r="9.75" fill="#000000"/><circle cx="1037.85" cy="1068.40" r="9.75" fill="#000000"/><circle cx="1056.10" cy="1033.80" r="9.75" fill="#000000"/><circle cx="1074.35" cy="1028.80" r="9.75" fill="#000000"/><circle cx="1092.60" cy="1036.80" r="9.75" fill="#000000"/><circle cx="1110.85" cy="1036.80" r="9.75" fill="#000000"/><circle cx="1129.10" cy="1002.80" r="9.75" fill="#000000"/><circle cx="1147.35" cy="980.90" r="9.75" fill="#000000"/><circle cx="1165.60" cy="1019.80" r="9.75" fill="#000000"/><circle cx="1183.85" cy="990.00" r="9.75" fill="#000000"/><circle cx="1202.10" cy="973.20" r="9.75" fill="#000000"/><circle cx="1220.35" cy="1017.50" r="9.75" fill="#000000"/><circle cx="1238.60" cy="985.90" r="9.75" fill="#000000"/><circle cx="1256.85" cy="993.80" r="9.75" fill="#000000"/><circle cx="1275.10" cy="1039.70" r="9.75" fill="#000000"/><circle cx="1293.35" cy="1036.80" r="9.75" fill="#000000"/><circle cx="1311.60" cy="996.70" r="9.75" fill="#000000"/><circle cx="1329.85" cy="997.60" r="9.75" fill="#000000"/><circle cx="1348.10" cy="988.60" r="9.75" fill="#000000"/><circle cx="1366.35" cy="968.90" r="9.75" fill="#000000"/><circle cx="1384.60" cy="975.70" r="9.75" fill="#000000"/><circle cx="1402.85" cy="1007.40" r="9.75" fill="#000000"/><circle cx="1421.10" cy="967.40" r="9.75" fill="#000000"/><circle cx="1439.35" cy="979.10" r="9.75" fill="#000000"/><circle cx="1457.60" cy="980.90" r="9.75" fill="#000000"/><circle cx="1475.85" cy="1008.50" r="9.75" fill="#000000"/><circle cx="1494.10" cy="989.30" r="9.75" fill="#000000"/><circle cx="1512.35" cy="982.50" r="9.75" fill="#000000"/><circle cx="1530.60" cy="1026.60" r="9.75" fill="#000000"/><circle cx="1548.85" cy="1005.00" r="9.75" fill="#000000"/><circle cx="1567.10" cy="991.00" r="9.75" fill="#000000"/><circle cx="1585.35" cy="998.20" r="9.75" fill="#000000"/><circle cx="1603.60" cy="1022.30" r="9.75" fill="#000000"/><circle cx="1621.85" cy="995.50" r="9.75" fill="#000000"/><circle cx="1640.10" cy="1000.90" r="9.75" fill="#000000"/><circle cx="1658.35" cy="1005.40" r="9.75" fill="#000000"/><circle cx="1676.60" cy="1027.10" r="9.75" fill="#000000"/><circle cx="1694.85" cy="1015.20" r="9.75" fill="#000000"/><circle cx="1713.10" cy="1004.50" r="9.75" fill="#000000"/><circle cx="1731.35" cy="1028.20" r="9.75" fill="#000000"/><circle cx="1749.60" cy="1034.80" r="9.75" fill="#000000"/><circle cx="1767.85" cy="1015.20" r="9.75" fill="#000000"/><circle cx="1786.10" cy="1009.80" r="9.75" fill="#000000"/><circle cx="1804.35" cy="1042.90" r="9.75" fill="#000000"/><circle cx="1822.60" cy="1034.80" r="9.75" fill="#000000"/></g>
<g><circle cx="253.10" cy="1480.00" r="8.85" fill="#fdbb13" stroke="#000" stroke-width="1.8"/><circle cx="271.35" cy="1479.85" r="8.85" fill="#fdbb13" stroke="#000" stroke-width="1.8"/><circle cx="289.60" cy="1479.70" r="8.85" fill="#fdbb13" stroke="#000" stroke-width="1.8"/><circle cx="307.85" cy="1479.55" r="8.85" fill="#fdbb13" stroke="#000" stroke-width="1.8"/><circle cx="326.10" cy="1479.40" r="8.85" fill="#fdbb13" stroke="#000" stroke-width="1.8"/><circle cx="344.35" cy="1478.80" r="8.85" fill="#fdbb13" stroke="#000" stroke-width="1.8"/><circle cx="362.60" cy="1478.20" r="8.85" fill="#fdbb13" stroke="#000" stroke-width="1.8"/><circle cx="380.85" cy="1477.60" r="8.85" fill="#fdbb13" stroke="#000" stroke-width="1.8"/><circle cx="399.10" cy="1477.00" r="8.85" fill="#fdbb13" stroke="#000" stroke-width="1.8"/><circle cx="417.35" cy="1476.50" r="8.85" fill="#fdbb13" stroke="#000" stroke-width="1.8"/><circle cx="435.60" cy="1476.00" r="8.85" fill="#fdbb13" stroke="#000" stroke-width="1.8"/><circle cx="453.85" cy="1475.50" r="8.85" fill="#fdbb13" stroke="#000" stroke-width="1.8"/><circle cx="472.10" cy="1475.00" r="8.85" fill="#fdbb13" stroke="#000" stroke-width="1.8"/><circle cx="490.35" cy="1472.30" r="8.85" fill="#fdbb13" stroke="#000" stroke-width="1.8"/><circle cx="508.60" cy="1470.27" r="8.85" fill="#fdbb13" stroke="#000" stroke-width="1.8"/><circle cx="526.85" cy="1468.23" r="8.85" fill="#fdbb13" stroke="#000" stroke-width="1.8"/><circle cx="545.10" cy="1466.20" r="8.85" fill="#fdbb13" stroke="#000" stroke-width="1.8"/><circle cx="563.35" cy="1469.40" r="8.85" fill="#fdbb13" stroke="#000" stroke-width="1.8"/><circle cx="581.60" cy="1470.40" r="8.85" fill="#fdbb13" stroke="#000" stroke-width="1.8"/><circle cx="599.85" cy="1464.30" r="8.85" fill="#fdbb13" stroke="#000" stroke-width="1.8"/><circle cx="618.10" cy="1458.20" r="8.85" fill="#fdbb13" stroke="#000" stroke-width="1.8"/><circle cx="636.35" cy="1455.20" r="8.85" fill="#fdbb13" stroke="#000" stroke-width="1.8"/><circle cx="654.60" cy="1451.10" r="8.85" fill="#fdbb13" stroke="#000" stroke-width="1.8"/><circle cx="672.85" cy="1444.10" r="8.85" fill="#fdbb13" stroke="#000" stroke-width="1.8"/><circle cx="691.10" cy="1444.10" r="8.85" fill="#fdbb13" stroke="#000" stroke-width="1.8"/><circle cx="709.35" cy="1416.70" r="8.85" fill="#fdbb13" stroke="#000" stroke-width="1.8"/><circle cx="727.60" cy="1405.60" r="8.85" fill="#fdbb13" stroke="#000" stroke-width="1.8"/><circle cx="745.85" cy="1404.60" r="8.85" fill="#fdbb13" stroke="#000" stroke-width="1.8"/><circle cx="764.10" cy="1390.40" r="8.85" fill="#fdbb13" stroke="#000" stroke-width="1.8"/><circle cx="782.35" cy="1375.20" r="8.85" fill="#fdbb13" stroke="#000" stroke-width="1.8"/><circle cx="800.60" cy="1367.60" r="8.85" fill="#fdbb13" stroke="#000" stroke-width="1.8"/><circle cx="818.85" cy="1360.10" r="8.85" fill="#fdbb13" stroke="#000" stroke-width="1.8"/><circle cx="837.10" cy="1333.80" r="8.85" fill="#fdbb13" stroke="#000" stroke-width="1.8"/><circle cx="855.35" cy="1328.70" r="8.85" fill="#fdbb13" stroke="#000" stroke-width="1.8"/><circle cx="873.60" cy="1312.50" r="8.85" fill="#fdbb13" stroke="#000" stroke-width="1.8"/><circle cx="891.85" cy="1291.00" r="8.85" fill="#fdbb13" stroke="#000" stroke-width="1.8"/><circle cx="910.10" cy="1301.20" r="8.85" fill="#fdbb13" stroke="#000" stroke-width="1.8"/><circle cx="928.35" cy="1295.60" r="8.85" fill="#fdbb13" stroke="#000" stroke-width="1.8"/><circle cx="946.60" cy="1283.80" r="8.85" fill="#fdbb13" stroke="#000" stroke-width="1.8"/><circle cx="964.85" cy="1283.80" r="8.85" fill="#fdbb13" stroke="#000" stroke-width="1.8"/><circle cx="983.10" cy="1301.20" r="8.85" fill="#fdbb13" stroke="#000" stroke-width="1.8"/><circle cx="1001.35" cy="1287.70" r="8.85" fill="#fdbb13" stroke="#000" stroke-width="1.8"/><circle cx="1019.60" cy="1288.80" r="8.85" fill="#fdbb13" stroke="#000" stroke-width="1.8"/><circle cx="1037.85" cy="1296.70" r="8.85" fill="#fdbb13" stroke="#000" stroke-width="1.8"/><circle cx="1056.10" cy="1270.70" r="8.85" fill="#fdbb13" stroke="#000" stroke-width="1.8"/><circle cx="1074.35" cy="1273.00" r="8.85" fill="#fdbb13" stroke="#000" stroke-width="1.8"/><circle cx="1092.60" cy="1282.00" r="8.85" fill="#fdbb13" stroke="#000" stroke-width="1.8"/><circle cx="1110.85" cy="1288.80" r="8.85" fill="#fdbb13" stroke="#000" stroke-width="1.8"/><circle cx="1129.10" cy="1267.30" r="8.85" fill="#fdbb13" stroke="#000" stroke-width="1.8"/><circle cx="1147.35" cy="1254.90" r="8.85" fill="#fdbb13" stroke="#000" stroke-width="1.8"/><circle cx="1165.60" cy="1280.90" r="8.85" fill="#fdbb13" stroke="#000" stroke-width="1.8"/><circle cx="1183.85" cy="1262.80" r="8.85" fill="#fdbb13" stroke="#000" stroke-width="1.8"/><circle cx="1202.10" cy="1257.10" r="8.85" fill="#fdbb13" stroke="#000" stroke-width="1.8"/><circle cx="1220.35" cy="1279.70" r="8.85" fill="#fdbb13" stroke="#000" stroke-width="1.8"/><circle cx="1238.60" cy="1263.90" r="8.85" fill="#fdbb13" stroke="#000" stroke-width="1.8"/><circle cx="1256.85" cy="1262.80" r="8.85" fill="#fdbb13" stroke="#000" stroke-width="1.8"/><circle cx="1275.10" cy="1319.30" r="8.85" fill="#fdbb13" stroke="#000" stroke-width="1.8"/><circle cx="1293.35" cy="1318.20" r="8.85" fill="#fdbb13" stroke="#000" stroke-width="1.8"/><circle cx="1311.60" cy="1269.60" r="8.85" fill="#fdbb13" stroke="#000" stroke-width="1.8"/><circle cx="1329.85" cy="1271.80" r="8.85" fill="#fdbb13" stroke="#000" stroke-width="1.8"/><circle cx="1348.10" cy="1262.80" r="8.85" fill="#fdbb13" stroke="#000" stroke-width="1.8"/><circle cx="1366.35" cy="1248.10" r="8.85" fill="#fdbb13" stroke="#000" stroke-width="1.8"/><circle cx="1384.60" cy="1248.10" r="8.85" fill="#fdbb13" stroke="#000" stroke-width="1.8"/><circle cx="1402.85" cy="1280.90" r="8.85" fill="#fdbb13" stroke="#000" stroke-width="1.8"/><circle cx="1421.10" cy="1245.80" r="8.85" fill="#fdbb13" stroke="#000" stroke-width="1.8"/><circle cx="1439.35" cy="1253.10" r="8.85" fill="#fdbb13" stroke="#000" stroke-width="1.8"/><circle cx="1457.60" cy="1253.80" r="8.85" fill="#fdbb13" stroke="#000" stroke-width="1.8"/><circle cx="1475.85" cy="1261.20" r="8.85" fill="#fdbb13" stroke="#000" stroke-width="1.8"/><circle cx="1494.10" cy="1257.10" r="8.85" fill="#fdbb13" stroke="#000" stroke-width="1.8"/><circle cx="1512.35" cy="1249.60" r="8.85" fill="#fdbb13" stroke="#000" stroke-width="1.8"/><circle cx="1530.60" cy="1280.40" r="8.85" fill="#fdbb13" stroke="#000" stroke-width="1.8"/><circle cx="1548.85" cy="1264.20" r="8.85" fill="#fdbb13" stroke="#000" stroke-width="1.8"/><circle cx="1567.10" cy="1251.10" r="8.85" fill="#fdbb13" stroke="#000" stroke-width="1.8"/><circle cx="1585.35" cy="1255.10" r="8.85" fill="#fdbb13" stroke="#000" stroke-width="1.8"/><circle cx="1603.60" cy="1272.30" r="8.85" fill="#fdbb13" stroke="#000" stroke-width="1.8"/><circle cx="1621.85" cy="1241.00" r="8.85" fill="#fdbb13" stroke="#000" stroke-width="1.8"/><circle cx="1640.10" cy="1248.60" r="8.85" fill="#fdbb13" stroke="#000" stroke-width="1.8"/><circle cx="1658.35" cy="1248.60" r="8.85" fill="#fdbb13" stroke="#000" stroke-width="1.8"/><circle cx="1676.60" cy="1260.20" r="8.85" fill="#fdbb13" stroke="#000" stroke-width="1.8"/><circle cx="1694.85" cy="1247.00" r="8.85" fill="#fdbb13" stroke="#000" stroke-width="1.8"/><circle cx="1713.10" cy="1242.00" r="8.85" fill="#fdbb13" stroke="#000" stroke-width="1.8"/><circle cx="1731.35" cy="1252.70" r="8.85" fill="#fdbb13" stroke="#000" stroke-width="1.8"/><circle cx="1749.60" cy="1259.20" r="8.85" fill="#fdbb13" stroke="#000" stroke-width="1.8"/><circle cx="1767.85" cy="1236.50" r="8.85" fill="#fdbb13" stroke="#000" stroke-width="1.8"/><circle cx="1786.10" cy="1235.30" r="8.85" fill="#fdbb13" stroke="#000" stroke-width="1.8"/><circle cx="1804.35" cy="1260.20" r="8.85" fill="#fdbb13" stroke="#000" stroke-width="1.8"/><circle cx="1822.60" cy="1247.00" r="8.85" fill="#fdbb13" stroke="#000" stroke-width="1.8"/></g>
<g><circle cx="253.10" cy="1477.30" r="8.85" fill="#ed2024" stroke="#000" stroke-width="1.8"/><circle cx="271.35" cy="1472.30" r="8.85" fill="#ed2024" stroke="#000" stroke-width="1.8"/><circle cx="289.60" cy="1475.30" r="8.85" fill="#ed2024" stroke="#000" stroke-width="1.8"/><circle cx="307.85" cy="1476.30" r="8.85" fill="#ed2024" stroke="#000" stroke-width="1.8"/><circle cx="326.10" cy="1475.30" r="8.85" fill="#ed2024" stroke="#000" stroke-width="1.8"/><circle cx="344.35" cy="1475.30" r="8.85" fill="#ed2024" stroke="#000" stroke-width="1.8"/><circle cx="362.60" cy="1475.30" r="8.85" fill="#ed2024" stroke="#000" stroke-width="1.8"/><circle cx="380.85" cy="1472.70" r="8.85" fill="#ed2024" stroke="#000" stroke-width="1.8"/><circle cx="399.10" cy="1474.30" r="8.85" fill="#ed2024" stroke="#000" stroke-width="1.8"/><circle cx="417.35" cy="1475.30" r="8.85" fill="#ed2024" stroke="#000" stroke-width="1.8"/><circle cx="435.60" cy="1472.30" r="8.85" fill="#ed2024" stroke="#000" stroke-width="1.8"/><circle cx="453.85" cy="1471.90" r="8.85" fill="#ed2024" stroke="#000" stroke-width="1.8"/><circle cx="472.10" cy="1473.30" r="8.85" fill="#ed2024" stroke="#000" stroke-width="1.8"/><circle cx="490.35" cy="1469.20" r="8.85" fill="#ed2024" stroke="#000" stroke-width="1.8"/><circle cx="508.60" cy="1469.20" r="8.85" fill="#ed2024" stroke="#000" stroke-width="1.8"/><circle cx="526.85" cy="1470.20" r="8.85" fill="#ed2024" stroke="#000" stroke-width="1.8"/><circle cx="545.10" cy="1462.20" r="8.85" fill="#ed2024" stroke="#000" stroke-width="1.8"/><circle cx="563.35" cy="1461.80" r="8.85" fill="#ed2024" stroke="#000" stroke-width="1.8"/><circle cx="581.60" cy="1461.30" r="8.85" fill="#ed2024" stroke="#000" stroke-width="1.8"/><circle cx="599.85" cy="1455.20" r="8.85" fill="#ed2024" stroke="#000" stroke-width="1.8"/><circle cx="618.10" cy="1446.10" r="8.85" fill="#ed2024" stroke="#000" stroke-width="1.8"/><circle cx="636.35" cy="1441.00" r="8.85" fill="#ed2024" stroke="#000" stroke-width="1.8"/><circle cx="654.60" cy="1428.90" r="8.85" fill="#ed2024" stroke="#000" stroke-width="1.8"/><circle cx="672.85" cy="1418.80" r="8.85" fill="#ed2024" stroke="#000" stroke-width="1.8"/><circle cx="691.10" cy="1412.70" r="8.85" fill="#ed2024" stroke="#000" stroke-width="1.8"/><circle cx="709.35" cy="1382.30" r="8.85" fill="#ed2024" stroke="#000" stroke-width="1.8"/><circle cx="727.60" cy="1364.10" r="8.85" fill="#ed2024" stroke="#000" stroke-width="1.8"/><circle cx="745.85" cy="1356.00" r="8.85" fill="#ed2024" stroke="#000" stroke-width="1.8"/><circle cx="764.10" cy="1321.60" r="8.85" fill="#ed2024" stroke="#000" stroke-width="1.8"/><circle cx="782.35" cy="1295.90" r="8.85" fill="#ed2024" stroke="#000" stroke-width="1.8"/><circle cx="800.60" cy="1273.60" r="8.85" fill="#ed2024" stroke="#000" stroke-width="1.8"/><circle cx="818.85" cy="1254.80" r="8.85" fill="#ed2024" stroke="#000" stroke-width="1.8"/><circle cx="837.10" cy="1227.90" r="8.85" fill="#ed2024" stroke="#000" stroke-width="1.8"/><circle cx="855.35" cy="1218.40" r="8.85" fill="#ed2024" stroke="#000" stroke-width="1.8"/><circle cx="873.60" cy="1200.40" r="8.85" fill="#ed2024" stroke="#000" stroke-width="1.8"/><circle cx="891.85" cy="1178.00" r="8.85" fill="#ed2024" stroke="#000" stroke-width="1.8"/><circle cx="910.10" cy="1152.00" r="8.85" fill="#ed2024" stroke="#000" stroke-width="1.8"/><circle cx="928.35" cy="1143.00" r="8.85" fill="#ed2024" stroke="#000" stroke-width="1.8"/><circle cx="946.60" cy="1121.00" r="8.85" fill="#ed2024" stroke="#000" stroke-width="1.8"/><circle cx="964.85" cy="1109.80" r="8.85" fill="#ed2024" stroke="#000" stroke-width="1.8"/><circle cx="983.10" cy="1114.70" r="8.85" fill="#ed2024" stroke="#000" stroke-width="1.8"/><circle cx="1001.35" cy="1086.50" r="8.85" fill="#ed2024" stroke="#000" stroke-width="1.8"/><circle cx="1019.60" cy="1082.60" r="8.85" fill="#ed2024" stroke="#000" stroke-width="1.8"/><circle cx="1037.85" cy="1082.60" r="8.85" fill="#ed2024" stroke="#000" stroke-width="1.8"/><circle cx="1056.10" cy="1040.10" r="8.85" fill="#ed2024" stroke="#000" stroke-width="1.8"/><circle cx="1074.35" cy="1028.40" r="8.85" fill="#ed2024" stroke="#000" stroke-width="1.8"/><circle cx="1092.60" cy="1046.90" r="8.85" fill="#ed2024" stroke="#000" stroke-width="1.8"/><circle cx="1110.85" cy="1046.90" r="8.85" fill="#ed2024" stroke="#000" stroke-width="1.8"/><circle cx="1129.10" cy="1016.40" r="8.85" fill="#ed2024" stroke="#000" stroke-width="1.8"/><circle cx="1147.35" cy="1010.30" r="8.85" fill="#ed2024" stroke="#000" stroke-width="1.8"/><circle cx="1165.60" cy="1037.40" r="8.85" fill="#ed2024" stroke="#000" stroke-width="1.8"/><circle cx="1183.85" cy="1019.30" r="8.85" fill="#ed2024" stroke="#000" stroke-width="1.8"/><circle cx="1202.10" cy="1009.00" r="8.85" fill="#ed2024" stroke="#000" stroke-width="1.8"/><circle cx="1220.35" cy="1033.80" r="8.85" fill="#ed2024" stroke="#000" stroke-width="1.8"/><circle cx="1238.60" cy="1002.20" r="8.85" fill="#ed2024" stroke="#000" stroke-width="1.8"/><circle cx="1256.85" cy="1012.60" r="8.85" fill="#ed2024" stroke="#000" stroke-width="1.8"/><circle cx="1275.10" cy="1056.00" r="8.85" fill="#ed2024" stroke="#000" stroke-width="1.8"/><circle cx="1293.35" cy="1052.60" r="8.85" fill="#ed2024" stroke="#000" stroke-width="1.8"/><circle cx="1311.60" cy="1012.60" r="8.85" fill="#ed2024" stroke="#000" stroke-width="1.8"/><circle cx="1329.85" cy="1013.00" r="8.85" fill="#ed2024" stroke="#000" stroke-width="1.8"/><circle cx="1348.10" cy="1008.00" r="8.85" fill="#ed2024" stroke="#000" stroke-width="1.8"/><circle cx="1366.35" cy="988.60" r="8.85" fill="#ed2024" stroke="#000" stroke-width="1.8"/><circle cx="1384.60" cy="986.30" r="8.85" fill="#ed2024" stroke="#000" stroke-width="1.8"/><circle cx="1402.85" cy="1028.40" r="8.85" fill="#ed2024" stroke="#000" stroke-width="1.8"/><circle cx="1421.10" cy="982.50" r="8.85" fill="#ed2024" stroke="#000" stroke-width="1.8"/><circle cx="1439.35" cy="990.40" r="8.85" fill="#ed2024" stroke="#000" stroke-width="1.8"/><circle cx="1457.60" cy="996.70" r="8.85" fill="#ed2024" stroke="#000" stroke-width="1.8"/><circle cx="1475.85" cy="1010.30" r="8.85" fill="#ed2024" stroke="#000" stroke-width="1.8"/><circle cx="1494.10" cy="995.40" r="8.85" fill="#ed2024" stroke="#000" stroke-width="1.8"/><circle cx="1512.35" cy="990.40" r="8.85" fill="#ed2024" stroke="#000" stroke-width="1.8"/><circle cx="1530.60" cy="1023.20" r="8.85" fill="#ed2024" stroke="#000" stroke-width="1.8"/><circle cx="1548.85" cy="1004.50" r="8.85" fill="#ed2024" stroke="#000" stroke-width="1.8"/><circle cx="1567.10" cy="991.40" r="8.85" fill="#ed2024" stroke="#000" stroke-width="1.8"/><circle cx="1585.35" cy="991.40" r="8.85" fill="#ed2024" stroke="#000" stroke-width="1.8"/><circle cx="1603.60" cy="1015.20" r="8.85" fill="#ed2024" stroke="#000" stroke-width="1.8"/><circle cx="1621.85" cy="986.10" r="8.85" fill="#ed2024" stroke="#000" stroke-width="1.8"/><circle cx="1640.10" cy="990.20" r="8.85" fill="#ed2024" stroke="#000" stroke-width="1.8"/><circle cx="1658.35" cy="993.80" r="8.85" fill="#ed2024" stroke="#000" stroke-width="1.8"/><circle cx="1676.60" cy="1008.00" r="8.85" fill="#ed2024" stroke="#000" stroke-width="1.8"/><circle cx="1694.85" cy="995.50" r="8.85" fill="#ed2024" stroke="#000" stroke-width="1.8"/><circle cx="1713.10" cy="983.00" r="8.85" fill="#ed2024" stroke="#000" stroke-width="1.8"/><circle cx="1731.35" cy="1003.20" r="8.85" fill="#ed2024" stroke="#000" stroke-width="1.8"/><circle cx="1749.60" cy="1009.80" r="8.85" fill="#ed2024" stroke="#000" stroke-width="1.8"/><circle cx="1767.85" cy="983.60" r="8.85" fill="#ed2024" stroke="#000" stroke-width="1.8"/><circle cx="1786.10" cy="979.50" r="8.85" fill="#ed2024" stroke="#000" stroke-width="1.8"/><circle cx="1804.35" cy="1004.50" r="8.85" fill="#ed2024" stroke="#000" stroke-width="1.8"/><circle cx="1822.60" cy="995.50" r="8.85" fill="#ed2024" stroke="#000" stroke-width="1.8"/></g>
<path d="M235.4 1609.75V2262.4M219.3 2262.4H1878" stroke="#231f20" stroke-width="3.4" fill="none"/>
<path d="M219.5 2189.98H235.4M219.5 2117.56H235.4M219.5 2045.13H235.4M219.5 1972.71H235.4M219.5 1900.29H235.4M219.5 1827.87H235.4M219.5 1755.44H235.4M219.5 1683.02H235.4M219.5 1610.60H235.4" stroke="#231f20" stroke-width="1.7" fill="none"/>
<text transform="translate(179.90,2273.80) scale(0.9456,1)" font-size="42.30" font-weight="normal" >0</text>
<text transform="translate(140.07,2201.98) scale(0.9576,1)" font-size="42.30" font-weight="normal" >200</text>
<text transform="translate(141.30,2129.56) scale(0.9398,1)" font-size="42.30" font-weight="normal" >400</text>
<text transform="translate(140.07,2057.13) scale(0.9576,1)" font-size="42.30" font-weight="normal" >600</text>
<text transform="translate(140.28,1984.71) scale(0.9546,1)" font-size="42.30" font-weight="normal" >800</text>
<text transform="translate(122.32,1912.29) scale(0.9400,1)" font-size="42.30" font-weight="normal" >1000</text>
<text transform="translate(122.32,1839.87) scale(0.9400,1)" font-size="42.30" font-weight="normal" >1200</text>
<text transform="translate(122.32,1767.44) scale(0.9400,1)" font-size="42.30" font-weight="normal" >1400</text>
<text transform="translate(122.32,1695.02) scale(0.9400,1)" font-size="42.30" font-weight="normal" >1600</text>
<text transform="translate(122.32,1622.60) scale(0.9400,1)" font-size="42.30" font-weight="normal" >1800</text>
<text transform="translate(31.21,1616.00) scale(0.9290,1)" font-size="40.10" font-weight="bold" fill="#000" >C</text>
<text transform="translate(245.52,1671.30) scale(0.9067,1)" font-size="42.30" font-weight="normal" >1000 Gy</text>
<text transform="translate(104.80,2153.74) rotate(-90) scale(0.9475,1)" font-size="42.80" font-weight="normal" >Relative Fluorescence Units</text>
<text transform="translate(226.20,2326.00) scale(0.9456,1)" font-size="42.30" font-weight="normal" >0</text>
<text transform="translate(571.00,2326.00) scale(0.9456,1)" font-size="42.30" font-weight="normal" >200</text>
<text transform="translate(936.50,2326.00) scale(0.9500,1)" font-size="42.30" font-weight="normal" >400</text>
<text transform="translate(1299.94,2326.00) scale(0.9726,1)" font-size="42.30" font-weight="normal" >600</text>
<text transform="translate(1665.65,2326.00) scale(0.9695,1)" font-size="42.30" font-weight="normal" >800</text>
<text transform="translate(967.67,2376.00) scale(0.9653,1)" font-size="42.75" font-weight="normal" >Time (min)</text>
<path d="M253.20 2212.70V2220.70M248.20 2212.70H258.20M248.20 2220.70H258.20M271.47 2214.88V2223.12M266.47 2214.88H276.47M266.47 2223.12H276.47M289.73 2214.75V2223.25M284.73 2214.75H294.73M284.73 2223.25H294.73M308.00 2214.62V2223.38M303.00 2214.62H313.00M303.00 2223.38H313.00M326.27 2214.50V2223.50M321.27 2214.50H331.27M321.27 2223.50H331.27M344.53 2214.28V2223.53M339.53 2214.28H349.53M339.53 2223.53H349.53M362.80 2214.18V2223.68M357.80 2214.18H367.80M357.80 2223.68H367.80M381.07 2214.09V2223.84M376.07 2214.09H386.07M376.07 2223.84H386.07M399.34 2214.00V2224.00M394.34 2214.00H404.34M394.34 2224.00H404.34M417.60 2213.88V2224.12M412.60 2213.88H422.60M412.60 2224.12H422.60M435.87 2214.25V2224.75M430.87 2214.25H440.87M430.87 2224.75H440.87M454.14 2214.62V2225.38M449.14 2214.62H459.14M449.14 2225.38H459.14M472.40 2215.00V2226.00M467.40 2215.00H477.40M467.40 2226.00H477.40M490.67 2209.18V2220.43M485.67 2209.18H495.67M485.67 2220.43H495.67M508.94 2212.15V2223.65M503.94 2212.15H513.94M503.94 2223.65H513.94M527.20 2214.62V2226.38M522.20 2214.62H532.20M522.20 2226.38H532.20M545.47 2212.90V2224.90M540.47 2212.90H550.47M540.47 2224.90H550.47M563.74 2206.50V2246.50M558.74 2206.50H568.74M558.74 2246.50H568.74M582.01 2209.40V2225.40M577.01 2209.40H587.01M577.01 2225.40H587.01M600.27 2206.73V2224.07M595.27 2206.73H605.27M595.27 2224.07H605.27M618.54 2202.37V2221.03M613.54 2202.37H623.54M613.54 2221.03H623.54M636.81 2208.40V2228.40M631.81 2208.40H641.81M631.81 2228.40H641.81M655.07 2202.23V2223.57M650.07 2202.23H660.07M650.07 2223.57H660.07M673.34 2201.57V2224.23M668.34 2201.57H678.34M668.34 2224.23H678.34M691.61 2206.40V2230.40M686.61 2206.40H696.61M686.61 2230.40H696.61M709.88 2197.63V2222.97M704.88 2197.63H714.88M704.88 2222.97H714.88M728.14 2203.67V2230.33M723.14 2203.67H733.14M723.14 2230.33H733.14M746.41 2204.20V2232.20M741.41 2204.20H751.41M741.41 2232.20H751.41M764.68 2200.80V2234.80M759.68 2200.80H769.68M759.68 2234.80H769.68M782.94 2195.80V2230.80M777.94 2195.80H787.94M777.94 2230.80H787.94M801.21 2197.60V2233.60M796.21 2197.60H806.21M796.21 2233.60H806.21M819.48 2194.17V2230.83M814.48 2194.17H824.48M814.48 2230.83H824.48M837.74 2187.63V2224.97M832.74 2187.63H842.74M832.74 2224.97H842.74M856.01 2186.20V2224.20M851.01 2186.20H861.01M851.01 2224.20H861.01M874.28 2178.50V2221.50M869.28 2178.50H879.28M869.28 2221.50H879.28M892.55 2171.90V2219.90M887.55 2171.90H897.55M887.55 2219.90H897.55M910.81 2162.80V2216.80M905.81 2162.80H915.81M905.81 2216.80H915.81M929.08 2153.90V2213.90M924.08 2153.90H934.08M924.08 2213.90H934.08M947.35 2141.60V2211.60M942.35 2141.60H952.35M942.35 2211.60H952.35M965.61 2131.50V2207.50M960.61 2131.50H970.61M960.61 2207.50H970.61M983.88 2121.00V2205.00M978.88 2121.00H988.88M978.88 2205.00H988.88M1002.15 2100.90V2198.90M997.15 2100.90H1007.15M997.15 2198.90H1007.15M1020.41 2084.80V2194.80M1015.41 2084.80H1025.41M1015.41 2194.80H1025.41M1038.68 2067.60V2189.60M1033.68 2067.60H1043.68M1033.68 2189.60H1043.68M1056.95 2032.80V2180.80M1051.95 2032.80H1061.95M1051.95 2180.80H1061.95M1075.21 2027.90V2169.90M1070.21 2027.90H1080.21M1070.21 2169.90H1080.21M1093.48 2015.50V2165.50M1088.48 2015.50H1098.48M1088.48 2165.50H1098.48M1111.75 1996.60V2156.60M1106.75 1996.60H1116.75M1106.75 2156.60H1116.75M1130.02 1979.30V2139.30M1125.02 1979.30H1135.02M1125.02 2139.30H1135.02M1148.28 1970.20V2128.20M1143.28 1970.20H1153.28M1143.28 2128.20H1153.28M1166.55 1971.60V2127.60M1161.55 1971.60H1171.55M1161.55 2127.60H1171.55M1184.82 1952.20V2104.20M1179.82 1952.20H1189.82M1179.82 2104.20H1189.82M1203.08 1947.20V2077.20M1198.08 1947.20H1208.08M1198.08 2077.20H1208.08M1221.35 1948.60V2068.60M1216.35 1948.60H1226.35M1216.35 2068.60H1226.35M1239.62 1926.50V2048.50M1234.62 1926.50H1244.62M1234.62 2048.50H1244.62M1257.88 1913.20V2043.20M1252.88 1913.20H1262.88M1252.88 2043.20H1262.88M1276.15 1937.60V2057.60M1271.15 1937.60H1281.15M1271.15 2057.60H1281.15M1294.42 1919.00V2043.00M1289.42 1919.00H1299.42M1289.42 2043.00H1299.42M1312.69 1894.20V2028.20M1307.69 1894.20H1317.69M1307.69 2028.20H1317.69M1330.95 1884.10V2022.10M1325.95 1884.10H1335.95M1325.95 2022.10H1335.95M1349.22 1875.10V2005.10M1344.22 1875.10H1354.22M1344.22 2005.10H1354.22M1367.49 1852.70V1990.70M1362.49 1852.70H1372.49M1362.49 1990.70H1372.49M1385.75 1841.20V1981.20M1380.75 1841.20H1390.75M1380.75 1981.20H1390.75M1404.02 1850.20V1998.20M1399.02 1850.20H1409.02M1399.02 1998.20H1409.02M1422.29 1820.40V1970.40M1417.29 1820.40H1427.29M1417.29 1970.40H1427.29M1440.56 1818.40V1970.40M1435.56 1818.40H1445.56M1435.56 1970.40H1445.56M1458.82 1811.90V1965.90M1453.82 1811.90H1463.82M1453.82 1965.90H1463.82M1477.09 1812.40V1968.40M1472.09 1812.40H1482.09M1472.09 1968.40H1482.09M1495.36 1790.40V1958.40M1490.36 1790.40H1500.36M1490.36 1958.40H1500.36M1513.62 1780.80V1946.80M1508.62 1780.80H1518.62M1508.62 1946.80H1518.62M1531.89 1791.10V1955.10M1526.89 1791.10H1536.89M1526.89 1955.10H1536.89M1550.16 1782.00V1942.00M1545.16 1782.00H1555.16M1545.16 1942.00H1555.16M1568.42 1755.00V1935.00M1563.42 1755.00H1573.42M1563.42 1935.00H1573.42M1586.69 1770.00V1930.00M1581.69 1770.00H1591.69M1581.69 1930.00H1591.69M1604.96 1768.80V1932.80M1599.96 1768.80H1609.96M1599.96 1932.80H1609.96M1623.22 1751.50V1913.50M1618.22 1751.50H1628.22M1618.22 1913.50H1628.22M1641.49 1745.80V1915.80M1636.49 1745.80H1646.49M1636.49 1915.80H1646.49M1659.76 1748.40V1912.40M1654.76 1748.40H1664.76M1654.76 1912.40H1664.76M1678.03 1771.60V1917.60M1673.03 1771.60H1683.03M1673.03 1917.60H1683.03M1696.29 1745.80V1905.80M1691.29 1745.80H1701.29M1691.29 1905.80H1701.29M1714.56 1736.30V1900.30M1709.56 1736.30H1719.56M1709.56 1900.30H1719.56M1732.83 1752.20V1916.20M1727.83 1752.20H1737.83M1727.83 1916.20H1737.83M1751.09 1750.50V1912.50M1746.09 1750.50H1756.09M1746.09 1912.50H1756.09M1769.36 1732.30V1904.30M1764.36 1732.30H1774.36M1764.36 1904.30H1774.36M1787.63 1724.40V1896.40M1782.63 1724.40H1792.63M1782.63 1896.40H1792.63M1805.89 1756.30V1920.30M1800.89 1756.30H1810.89M1800.89 1920.30H1810.89M1824.16 1754.90V1910.90M1819.16 1754.90H1829.16M1819.16 1910.90H1829.16" stroke="#575858" stroke-width="1.8" fill="none"/>
<path d="M253.20 2220.50V2228.50M248.20 2220.50H258.20M248.20 2228.50H258.20M271.47 2209.55V2218.05M266.47 2209.55H276.47M266.47 2218.05H276.47M289.73 2210.70V2219.70M284.73 2210.70H294.73M284.73 2219.70H294.73M308.00 2211.75V2221.25M303.00 2211.75H313.00M303.00 2221.25H313.00M326.27 2214.90V2224.90M321.27 2214.90H331.27M321.27 2224.90H331.27M344.53 2211.50V2243.50M339.53 2211.50H349.53M339.53 2243.50H349.53M362.80 2209.40V2219.40M357.80 2209.40H367.80M357.80 2219.40H367.80M381.07 2203.29V2213.51M376.07 2203.29H386.07M376.07 2213.51H386.07M399.34 2211.28V2221.72M394.34 2211.28H404.34M394.34 2221.72H404.34M417.60 2212.57V2223.23M412.60 2212.57H422.60M412.60 2223.23H422.60M435.87 2204.96V2215.84M430.87 2204.96H440.87M430.87 2215.84H440.87M454.14 2204.84V2215.96M449.14 2204.84H459.14M449.14 2215.96H459.14M472.40 2207.53V2218.87M467.40 2207.53H477.40M467.40 2218.87H477.40M490.67 2198.92V2210.48M485.67 2198.92H495.67M485.67 2210.48H495.67M508.94 2198.81V2210.59M503.94 2198.81H513.94M503.94 2210.59H513.94M527.20 2199.10V2211.10M522.20 2199.10H532.20M522.20 2211.10H532.20M545.47 2191.00V2207.00M540.47 2191.00H550.47M540.47 2207.00H550.47M563.74 2188.00V2208.00M558.74 2188.00H568.74M558.74 2208.00H568.74M582.01 2185.00V2209.00M577.01 2185.00H587.01M577.01 2209.00H587.01M600.27 2180.00V2208.00M595.27 2180.00H605.27M595.27 2208.00H605.27M618.54 2171.00V2203.00M613.54 2171.00H623.54M613.54 2203.00H623.54M636.81 2163.00V2199.00M631.81 2163.00H641.81M631.81 2199.00H641.81M655.07 2155.90V2193.90M650.07 2155.90H660.07M650.07 2193.90H660.07M673.34 2147.80V2187.80M668.34 2147.80H678.34M668.34 2187.80H678.34M691.61 2140.50V2189.50M686.61 2140.50H696.61M686.61 2189.50H696.61M709.88 2114.50V2172.50M704.88 2114.50H714.88M704.88 2172.50H714.88M728.14 2107.50V2169.50M723.14 2107.50H733.14M723.14 2169.50H733.14M746.41 2103.80V2169.80M741.41 2103.80H751.41M741.41 2169.80H751.41M764.68 2086.70V2158.70M759.68 2086.70H769.68M759.68 2158.70H769.68M782.94 2070.00V2150.00M777.94 2070.00H787.94M777.94 2150.00H787.94M801.21 2049.00V2141.00M796.21 2049.00H806.21M796.21 2141.00H806.21M819.48 2036.00V2148.00M814.48 2036.00H824.48M814.48 2148.00H824.48M837.74 2016.00V2122.00M832.74 2016.00H842.74M832.74 2122.00H842.74M856.01 2017.00V2099.00M851.01 2017.00H861.01M851.01 2099.00H861.01M874.28 2006.80V2098.80M869.28 2006.80H879.28M869.28 2098.80H879.28M892.55 1989.60V2089.60M887.55 1989.60H897.55M887.55 2089.60H897.55M910.81 1984.60V2062.60M905.81 1984.60H915.81M905.81 2062.60H915.81M929.08 1874.80V2058.80M924.08 1874.80H934.08M924.08 2058.80H934.08M947.35 1929.30V2021.30M942.35 1929.30H952.35M942.35 2021.30H952.35M965.61 1706.50V2064.50M960.61 1706.50H970.61M960.61 2064.50H970.61M983.88 1948.30V2030.30M978.88 1948.30H988.88M978.88 2030.30H988.88M1002.15 1908.60V1988.60M997.15 1908.60H1007.15M997.15 1988.60H1007.15M1020.41 1890.50V1966.50M1015.41 1890.50H1025.41M1015.41 1966.50H1025.41M1038.68 1883.80V1943.80M1033.68 1883.80H1043.68M1033.68 1943.80H1043.68M1056.95 1885.80V1937.80M1051.95 1885.80H1061.95M1051.95 1937.80H1061.95M1075.21 1868.20V1912.20M1070.21 1868.20H1080.21M1070.21 1912.20H1080.21M1093.48 1870.40V1912.80M1088.48 1870.40H1098.48M1088.48 1912.80H1098.48M1111.75 1871.20V1912.00M1106.75 1871.20H1116.75M1106.75 1912.00H1116.75M1130.02 1854.00V1893.20M1125.02 1854.00H1135.02M1125.02 1893.20H1135.02M1148.28 1841.40V1879.00M1143.28 1841.40H1153.28M1143.28 1879.00H1153.28M1166.55 1856.80V1892.80M1161.55 1856.80H1171.55M1161.55 1892.80H1171.55M1184.82 1838.80V1874.20M1179.82 1838.80H1189.82M1179.82 1874.20H1189.82M1203.08 1826.00V1860.80M1198.08 1826.00H1208.08M1198.08 1860.80H1208.08M1221.35 1843.50V1877.70M1216.35 1843.50H1226.35M1216.35 1877.70H1226.35M1239.62 1815.00V1848.60M1234.62 1815.00H1244.62M1234.62 1848.60H1244.62M1257.88 1824.20V1857.20M1252.88 1824.20H1262.88M1252.88 1857.20H1262.88M1276.15 1858.30V1890.70M1271.15 1858.30H1281.15M1271.15 1890.70H1281.15M1294.42 1852.40V1884.20M1289.42 1852.40H1299.42M1289.42 1884.20H1299.42M1312.69 1819.70V1850.90M1307.69 1819.70H1317.69M1307.69 1850.90H1317.69M1330.95 1824.00V1854.60M1325.95 1824.00H1335.95M1325.95 1854.60H1335.95M1349.22 1820.30V1850.30M1344.22 1820.30H1354.22M1344.22 1850.30H1354.22M1367.49 1803.10V1833.10M1362.49 1803.10H1372.49M1362.49 1833.10H1372.49M1385.75 1810.10V1840.10M1380.75 1810.10H1390.75M1380.75 1840.10H1390.75M1404.02 1836.50V1866.50M1399.02 1836.50H1409.02M1399.02 1866.50H1409.02M1422.29 1808.30V1838.30M1417.29 1808.30H1427.29M1417.29 1838.30H1427.29M1440.56 1814.20V1844.20M1435.56 1814.20H1445.56M1435.56 1844.20H1445.56M1458.82 1822.10V1852.10M1453.82 1822.10H1463.82M1453.82 1852.10H1463.82M1477.09 1835.40V1865.40M1472.09 1835.40H1482.09M1472.09 1865.40H1482.09M1495.36 1825.30V1855.30M1490.36 1825.30H1500.36M1490.36 1855.30H1500.36M1513.62 1821.90V1851.90M1508.62 1821.90H1518.62M1508.62 1851.90H1518.62M1531.89 1845.60V1875.60M1526.89 1845.60H1536.89M1526.89 1875.60H1536.89M1550.16 1839.60V1869.60M1545.16 1839.60H1555.16M1545.16 1869.60H1555.16M1568.42 1826.30V1856.30M1563.42 1826.30H1573.42M1563.42 1856.30H1573.42M1586.69 1829.00V1859.00M1581.69 1829.00H1591.69M1581.69 1859.00H1591.69M1604.96 1844.80V1874.80M1599.96 1844.80H1609.96M1599.96 1874.80H1609.96M1623.22 1825.40V1855.40M1618.22 1825.40H1628.22M1618.22 1855.40H1628.22M1641.49 1830.00V1860.00M1636.49 1830.00H1646.49M1636.49 1860.00H1646.49M1659.76 1836.30V1866.30M1654.76 1836.30H1664.76M1654.76 1866.30H1664.76M1678.03 1850.40V1880.40M1673.03 1850.40H1683.03M1673.03 1880.40H1683.03M1696.29 1841.70V1871.70M1691.29 1841.70H1701.29M1691.29 1871.70H1701.29M1714.56 1837.50V1867.50M1709.56 1837.50H1719.56M1709.56 1867.50H1719.56M1732.83 1848.10V1878.10M1727.83 1848.10H1737.83M1727.83 1878.10H1737.83M1751.09 1853.30V1883.30M1746.09 1853.30H1756.09M1746.09 1883.30H1756.09M1769.36 1837.50V1867.50M1764.36 1837.50H1774.36M1764.36 1867.50H1774.36M1787.63 1839.00V1869.00M1782.63 1839.00H1792.63M1782.63 1869.00H1792.63M1805.89 1857.30V1887.30M1800.89 1857.30H1810.89M1800.89 1887.30H1810.89M1824.16 1853.30V1883.30M1819.16 1853.30H1829.16M1819.16 1883.30H1829.16" stroke="#575858" stroke-width="1.8" fill="none"/>
<path d="M253.20 2221.40V2229.40M248.20 2221.40H258.20M248.20 2229.40H258.20M271.47 2203.70V2212.70M266.47 2203.70H276.47M266.47 2212.70H276.47M289.73 2204.60V2214.60M284.73 2204.60H294.73M284.73 2214.60H294.73M308.00 2206.10V2217.10M303.00 2206.10H313.00M303.00 2217.10H313.00M326.27 2208.60V2220.60M321.27 2208.60H331.27M321.27 2220.60H331.27M344.53 2206.50V2219.50M339.53 2206.50H349.53M339.53 2219.50H349.53M362.80 2202.60V2216.60M357.80 2202.60H367.80M357.80 2216.60H367.80M381.07 2193.40V2208.40M376.07 2193.40H386.07M376.07 2208.40H386.07M399.34 2202.40V2218.40M394.34 2202.40H404.34M394.34 2218.40H404.34M417.60 2194.70V2212.70M412.60 2194.70H422.60M412.60 2212.70H422.60M435.87 2189.70V2209.70M430.87 2189.70H440.87M430.87 2209.70H440.87M454.14 2195.90V2216.30M449.14 2195.90H459.14M449.14 2216.30H459.14M472.40 2192.50V2213.30M467.40 2192.50H477.40M467.40 2213.30H477.40M490.67 2189.10V2210.30M485.67 2189.10H495.67M485.67 2210.30H495.67M508.94 2190.30V2211.90M503.94 2190.30H513.94M503.94 2211.90H513.94M527.20 2189.30V2211.30M522.20 2189.30H532.20M522.20 2211.30H532.20M545.47 2184.40V2206.80M540.47 2184.40H550.47M540.47 2206.80H550.47M563.74 2184.40V2207.20M558.74 2184.40H568.74M558.74 2207.20H568.74M582.01 2183.30V2206.50M577.01 2183.30H587.01M577.01 2206.50H587.01M600.27 2179.90V2203.50M595.27 2179.90H605.27M595.27 2203.50H605.27M618.54 2172.00V2196.00M613.54 2172.00H623.54M613.54 2196.00H623.54M636.81 2173.53V2198.87M631.81 2173.53H641.81M631.81 2198.87H641.81M655.07 2166.77V2193.43M650.07 2166.77H660.07M650.07 2193.43H660.07M673.34 2162.10V2190.10M668.34 2162.10H678.34M668.34 2190.10H678.34M691.61 2153.33V2182.67M686.61 2153.33H696.61M686.61 2182.67H696.61M709.88 2147.57V2178.23M704.88 2147.57H714.88M704.88 2178.23H714.88M728.14 2137.00V2169.00M723.14 2137.00H733.14M723.14 2169.00H733.14M746.41 2133.33V2166.67M741.41 2133.33H751.41M741.41 2166.67H751.41M764.68 2117.07V2151.73M759.68 2117.07H769.68M759.68 2151.73H769.68M782.94 2103.80V2139.80M777.94 2103.80H787.94M777.94 2139.80H787.94M801.21 2095.00V2133.00M796.21 2095.00H806.21M796.21 2133.00H806.21M819.48 2075.60V2115.60M814.48 2075.60H824.48M814.48 2115.60H824.48M837.74 2057.80V2100.80M832.74 2057.80H842.74M832.74 2100.80H842.74M856.01 2037.40V2083.40M851.01 2037.40H861.01M851.01 2083.40H861.01M874.28 2016.10V2066.10M869.28 2016.10H879.28M869.28 2066.10H879.28M892.55 1994.60V2043.60M887.55 1994.60H897.55M887.55 2043.60H897.55M910.81 1971.00V2019.00M905.81 1971.00H915.81M905.81 2019.00H915.81M929.08 1953.20V2000.20M924.08 1953.20H934.08M924.08 2000.20H934.08M947.35 1932.00V1978.00M942.35 1932.00H952.35M942.35 1978.00H952.35M965.61 1910.30V1955.30M960.61 1910.30H970.61M960.61 1955.30H970.61M983.88 1902.70V1946.70M978.88 1902.70H988.88M978.88 1946.70H988.88M1002.15 1881.70V1924.70M997.15 1881.70H1007.15M997.15 1924.70H1007.15M1020.41 1870.60V1912.60M1015.41 1870.60H1025.41M1015.41 1912.60H1025.41M1038.68 1865.00V1906.00M1033.68 1865.00H1043.68M1033.68 1906.00H1043.68M1056.95 1836.60V1876.60M1051.95 1836.60H1061.95M1051.95 1876.60H1061.95M1075.21 1837.70V1869.70M1070.21 1837.70H1080.21M1070.21 1869.70H1080.21M1093.48 1834.10V1868.10M1088.48 1834.10H1098.48M1088.48 1868.10H1098.48M1111.75 1824.00V1858.00M1106.75 1824.00H1116.75M1106.75 1858.00H1116.75M1130.02 1801.70V1837.70M1125.02 1801.70H1135.02M1125.02 1837.70H1135.02M1148.28 1772.20V1812.20M1143.28 1772.20H1153.28M1143.28 1812.20H1153.28M1166.55 1780.50V1822.50M1161.55 1780.50H1171.55M1161.55 1822.50H1171.55M1184.82 1753.40V1797.40M1179.82 1753.40H1189.82M1179.82 1797.40H1189.82M1203.08 1736.60V1782.60M1198.08 1736.60H1208.08M1198.08 1782.60H1208.08M1221.35 1756.60V1794.60M1216.35 1756.60H1226.35M1216.35 1794.60H1226.35M1239.62 1716.20V1766.20M1234.62 1716.20H1244.62M1234.62 1766.20H1244.62M1257.88 1715.30V1759.30M1252.88 1715.30H1262.88M1252.88 1759.30H1262.88M1276.15 1747.50V1793.50M1271.15 1747.50H1281.15M1271.15 1793.50H1281.15M1294.42 1728.10V1778.10M1289.42 1728.10H1299.42M1289.42 1778.10H1299.42M1312.69 1689.80V1731.80M1307.69 1689.80H1317.69M1307.69 1731.80H1317.69M1330.95 1688.90V1748.90M1325.95 1688.90H1335.95M1325.95 1748.90H1335.95M1349.22 1682.20V1732.20M1344.22 1682.20H1354.22M1344.22 1732.20H1354.22M1367.49 1657.30V1717.30M1362.49 1657.30H1372.49M1362.49 1717.30H1372.49M1385.75 1654.10V1718.10M1380.75 1654.10H1390.75M1380.75 1718.10H1390.75M1404.02 1682.40V1742.40M1399.02 1682.40H1409.02M1399.02 1742.40H1409.02M1422.29 1654.50V1710.50M1417.29 1654.50H1427.29M1417.29 1710.50H1427.29M1440.56 1661.60V1721.60M1435.56 1661.60H1445.56M1435.56 1721.60H1445.56M1458.82 1664.20V1724.20M1453.82 1664.20H1463.82M1453.82 1724.20H1463.82M1477.09 1686.60V1736.60M1472.09 1686.60H1482.09M1472.09 1736.60H1482.09M1495.36 1667.40V1723.40M1490.36 1667.40H1500.36M1490.36 1723.40H1500.36M1513.62 1665.00V1723.00M1508.62 1665.00H1518.62M1508.62 1723.00H1518.62M1531.89 1691.00V1751.00M1526.89 1691.00H1536.89M1526.89 1751.00H1536.89M1550.16 1678.20V1738.20M1545.16 1678.20H1555.16M1545.16 1738.20H1555.16M1568.42 1661.10V1721.10M1563.42 1661.10H1573.42M1563.42 1721.10H1573.42M1586.69 1674.70V1726.70M1581.69 1674.70H1591.69M1581.69 1726.70H1591.69M1604.96 1689.30V1733.30M1599.96 1689.30H1609.96M1599.96 1733.30H1609.96M1623.22 1660.30V1724.30M1618.22 1660.30H1628.22M1618.22 1724.30H1628.22M1641.49 1659.40V1731.40M1636.49 1659.40H1646.49M1636.49 1731.40H1646.49M1659.76 1663.40V1729.40M1654.76 1663.40H1664.76M1654.76 1729.40H1664.76M1678.03 1679.50V1745.50M1673.03 1679.50H1683.03M1673.03 1745.50H1683.03M1696.29 1674.00V1732.00M1691.29 1674.00H1701.29M1691.29 1732.00H1701.29M1714.56 1656.40V1720.40M1709.56 1656.40H1719.56M1709.56 1720.40H1719.56M1732.83 1677.90V1743.90M1727.83 1677.90H1737.83M1727.83 1743.90H1737.83M1751.09 1687.70V1747.70M1746.09 1687.70H1756.09M1746.09 1747.70H1756.09M1769.36 1671.50V1729.50M1764.36 1671.50H1774.36M1764.36 1729.50H1774.36M1787.63 1665.80V1721.80M1782.63 1665.80H1792.63M1782.63 1721.80H1792.63M1805.89 1682.00V1748.00M1800.89 1682.00H1810.89M1800.89 1748.00H1810.89M1824.16 1681.00V1739.00M1819.16 1681.00H1829.16M1819.16 1739.00H1829.16" stroke="#575858" stroke-width="1.8" fill="none"/>
<g><path d="M253.20 2207.50L262.60 2227.00L243.80 2227.00Z" fill="#000000" stroke="#000" stroke-width="1.8" stroke-miterlimit="10"/><path d="M271.47 2209.80L280.87 2229.30L262.07 2229.30Z" fill="#000000" stroke="#000" stroke-width="1.8" stroke-miterlimit="10"/><path d="M289.73 2209.80L299.13 2229.30L280.33 2229.30Z" fill="#000000" stroke="#000" stroke-width="1.8" stroke-miterlimit="10"/><path d="M308.00 2209.80L317.40 2229.30L298.60 2229.30Z" fill="#000000" stroke="#000" stroke-width="1.8" stroke-miterlimit="10"/><path d="M326.27 2209.80L335.67 2229.30L316.87 2229.30Z" fill="#000000" stroke="#000" stroke-width="1.8" stroke-miterlimit="10"/><path d="M344.53 2209.70L353.93 2229.20L335.13 2229.20Z" fill="#000000" stroke="#000" stroke-width="1.8" stroke-miterlimit="10"/><path d="M362.80 2209.73L372.20 2229.23L353.40 2229.23Z" fill="#000000" stroke="#000" stroke-width="1.8" stroke-miterlimit="10"/><path d="M381.07 2209.77L390.47 2229.27L371.67 2229.27Z" fill="#000000" stroke="#000" stroke-width="1.8" stroke-miterlimit="10"/><path d="M399.34 2209.80L408.74 2229.30L389.94 2229.30Z" fill="#000000" stroke="#000" stroke-width="1.8" stroke-miterlimit="10"/><path d="M417.60 2209.80L427.00 2229.30L408.20 2229.30Z" fill="#000000" stroke="#000" stroke-width="1.8" stroke-miterlimit="10"/><path d="M435.87 2210.30L445.27 2229.80L426.47 2229.80Z" fill="#000000" stroke="#000" stroke-width="1.8" stroke-miterlimit="10"/><path d="M454.14 2210.80L463.54 2230.30L444.74 2230.30Z" fill="#000000" stroke="#000" stroke-width="1.8" stroke-miterlimit="10"/><path d="M472.40 2211.30L481.80 2230.80L463.00 2230.80Z" fill="#000000" stroke="#000" stroke-width="1.8" stroke-miterlimit="10"/><path d="M490.67 2205.60L500.07 2225.10L481.27 2225.10Z" fill="#000000" stroke="#000" stroke-width="1.8" stroke-miterlimit="10"/><path d="M508.94 2208.70L518.34 2228.20L499.54 2228.20Z" fill="#000000" stroke="#000" stroke-width="1.8" stroke-miterlimit="10"/><path d="M527.20 2211.30L536.60 2230.80L517.80 2230.80Z" fill="#000000" stroke="#000" stroke-width="1.8" stroke-miterlimit="10"/><path d="M545.47 2209.70L554.87 2229.20L536.07 2229.20Z" fill="#000000" stroke="#000" stroke-width="1.8" stroke-miterlimit="10"/><path d="M563.74 2217.30L573.14 2236.80L554.34 2236.80Z" fill="#000000" stroke="#000" stroke-width="1.8" stroke-miterlimit="10"/><path d="M582.01 2208.20L591.41 2227.70L572.61 2227.70Z" fill="#000000" stroke="#000" stroke-width="1.8" stroke-miterlimit="10"/><path d="M600.27 2206.20L609.67 2225.70L590.87 2225.70Z" fill="#000000" stroke="#000" stroke-width="1.8" stroke-miterlimit="10"/><path d="M618.54 2202.50L627.94 2222.00L609.14 2222.00Z" fill="#000000" stroke="#000" stroke-width="1.8" stroke-miterlimit="10"/><path d="M636.81 2209.20L646.21 2228.70L627.41 2228.70Z" fill="#000000" stroke="#000" stroke-width="1.8" stroke-miterlimit="10"/><path d="M655.07 2203.70L664.47 2223.20L645.67 2223.20Z" fill="#000000" stroke="#000" stroke-width="1.8" stroke-miterlimit="10"/><path d="M673.34 2203.70L682.74 2223.20L663.94 2223.20Z" fill="#000000" stroke="#000" stroke-width="1.8" stroke-miterlimit="10"/><path d="M691.61 2209.20L701.01 2228.70L682.21 2228.70Z" fill="#000000" stroke="#000" stroke-width="1.8" stroke-miterlimit="10"/><path d="M709.88 2201.10L719.27 2220.60L700.48 2220.60Z" fill="#000000" stroke="#000" stroke-width="1.8" stroke-miterlimit="10"/><path d="M728.14 2207.80L737.54 2227.30L718.74 2227.30Z" fill="#000000" stroke="#000" stroke-width="1.8" stroke-miterlimit="10"/><path d="M746.41 2209.00L755.81 2228.50L737.01 2228.50Z" fill="#000000" stroke="#000" stroke-width="1.8" stroke-miterlimit="10"/><path d="M764.68 2208.60L774.08 2228.10L755.28 2228.10Z" fill="#000000" stroke="#000" stroke-width="1.8" stroke-miterlimit="10"/><path d="M782.94 2204.10L792.34 2223.60L773.54 2223.60Z" fill="#000000" stroke="#000" stroke-width="1.8" stroke-miterlimit="10"/><path d="M801.21 2206.40L810.61 2225.90L791.81 2225.90Z" fill="#000000" stroke="#000" stroke-width="1.8" stroke-miterlimit="10"/><path d="M819.48 2203.30L828.88 2222.80L810.08 2222.80Z" fill="#000000" stroke="#000" stroke-width="1.8" stroke-miterlimit="10"/><path d="M837.74 2197.10L847.14 2216.60L828.34 2216.60Z" fill="#000000" stroke="#000" stroke-width="1.8" stroke-miterlimit="10"/><path d="M856.01 2196.00L865.41 2215.50L846.61 2215.50Z" fill="#000000" stroke="#000" stroke-width="1.8" stroke-miterlimit="10"/><path d="M874.28 2190.80L883.68 2210.30L864.88 2210.30Z" fill="#000000" stroke="#000" stroke-width="1.8" stroke-miterlimit="10"/><path d="M892.55 2186.70L901.95 2206.20L883.15 2206.20Z" fill="#000000" stroke="#000" stroke-width="1.8" stroke-miterlimit="10"/><path d="M910.81 2180.60L920.21 2200.10L901.41 2200.10Z" fill="#000000" stroke="#000" stroke-width="1.8" stroke-miterlimit="10"/><path d="M929.08 2174.70L938.48 2194.20L919.68 2194.20Z" fill="#000000" stroke="#000" stroke-width="1.8" stroke-miterlimit="10"/><path d="M947.35 2167.40L956.75 2186.90L937.95 2186.90Z" fill="#000000" stroke="#000" stroke-width="1.8" stroke-miterlimit="10"/><path d="M965.61 2160.30L975.01 2179.80L956.21 2179.80Z" fill="#000000" stroke="#000" stroke-width="1.8" stroke-miterlimit="10"/><path d="M983.88 2153.80L993.28 2173.30L974.48 2173.30Z" fill="#000000" stroke="#000" stroke-width="1.8" stroke-miterlimit="10"/><path d="M1002.15 2140.70L1011.55 2160.20L992.75 2160.20Z" fill="#000000" stroke="#000" stroke-width="1.8" stroke-miterlimit="10"/><path d="M1020.41 2130.60L1029.81 2150.10L1011.01 2150.10Z" fill="#000000" stroke="#000" stroke-width="1.8" stroke-miterlimit="10"/><path d="M1038.68 2119.40L1048.08 2138.90L1029.28 2138.90Z" fill="#000000" stroke="#000" stroke-width="1.8" stroke-miterlimit="10"/><path d="M1056.95 2097.60L1066.35 2117.10L1047.55 2117.10Z" fill="#000000" stroke="#000" stroke-width="1.8" stroke-miterlimit="10"/><path d="M1075.21 2089.70L1084.62 2109.20L1065.81 2109.20Z" fill="#000000" stroke="#000" stroke-width="1.8" stroke-miterlimit="10"/><path d="M1093.48 2081.30L1102.88 2100.80L1084.08 2100.80Z" fill="#000000" stroke="#000" stroke-width="1.8" stroke-miterlimit="10"/><path d="M1111.75 2067.40L1121.15 2086.90L1102.35 2086.90Z" fill="#000000" stroke="#000" stroke-width="1.8" stroke-miterlimit="10"/><path d="M1130.02 2050.10L1139.42 2069.60L1120.62 2069.60Z" fill="#000000" stroke="#000" stroke-width="1.8" stroke-miterlimit="10"/><path d="M1148.28 2040.00L1157.68 2059.50L1138.88 2059.50Z" fill="#000000" stroke="#000" stroke-width="1.8" stroke-miterlimit="10"/><path d="M1166.55 2040.40L1175.95 2059.90L1157.15 2059.90Z" fill="#000000" stroke="#000" stroke-width="1.8" stroke-miterlimit="10"/><path d="M1184.82 2019.00L1194.22 2038.50L1175.42 2038.50Z" fill="#000000" stroke="#000" stroke-width="1.8" stroke-miterlimit="10"/><path d="M1203.08 2003.00L1212.48 2022.50L1193.68 2022.50Z" fill="#000000" stroke="#000" stroke-width="1.8" stroke-miterlimit="10"/><path d="M1221.35 1999.40L1230.75 2018.90L1211.95 2018.90Z" fill="#000000" stroke="#000" stroke-width="1.8" stroke-miterlimit="10"/><path d="M1239.62 1978.30L1249.02 1997.80L1230.22 1997.80Z" fill="#000000" stroke="#000" stroke-width="1.8" stroke-miterlimit="10"/><path d="M1257.88 1969.00L1267.29 1988.50L1248.48 1988.50Z" fill="#000000" stroke="#000" stroke-width="1.8" stroke-miterlimit="10"/><path d="M1276.15 1988.40L1285.55 2007.90L1266.75 2007.90Z" fill="#000000" stroke="#000" stroke-width="1.8" stroke-miterlimit="10"/><path d="M1294.42 1971.80L1303.82 1991.30L1285.02 1991.30Z" fill="#000000" stroke="#000" stroke-width="1.8" stroke-miterlimit="10"/><path d="M1312.69 1952.00L1322.09 1971.50L1303.29 1971.50Z" fill="#000000" stroke="#000" stroke-width="1.8" stroke-miterlimit="10"/><path d="M1330.95 1943.90L1340.35 1963.40L1321.55 1963.40Z" fill="#000000" stroke="#000" stroke-width="1.8" stroke-miterlimit="10"/><path d="M1349.22 1930.90L1358.62 1950.40L1339.82 1950.40Z" fill="#000000" stroke="#000" stroke-width="1.8" stroke-miterlimit="10"/><path d="M1367.49 1912.50L1376.89 1932.00L1358.09 1932.00Z" fill="#000000" stroke="#000" stroke-width="1.8" stroke-miterlimit="10"/><path d="M1385.75 1902.00L1395.15 1921.50L1376.35 1921.50Z" fill="#000000" stroke="#000" stroke-width="1.8" stroke-miterlimit="10"/><path d="M1404.02 1915.00L1413.42 1934.50L1394.62 1934.50Z" fill="#000000" stroke="#000" stroke-width="1.8" stroke-miterlimit="10"/><path d="M1422.29 1886.20L1431.69 1905.70L1412.89 1905.70Z" fill="#000000" stroke="#000" stroke-width="1.8" stroke-miterlimit="10"/><path d="M1440.56 1885.20L1449.96 1904.70L1431.15 1904.70Z" fill="#000000" stroke="#000" stroke-width="1.8" stroke-miterlimit="10"/><path d="M1458.82 1879.70L1468.22 1899.20L1449.42 1899.20Z" fill="#000000" stroke="#000" stroke-width="1.8" stroke-miterlimit="10"/><path d="M1477.09 1881.20L1486.49 1900.70L1467.69 1900.70Z" fill="#000000" stroke="#000" stroke-width="1.8" stroke-miterlimit="10"/><path d="M1495.36 1865.20L1504.76 1884.70L1485.96 1884.70Z" fill="#000000" stroke="#000" stroke-width="1.8" stroke-miterlimit="10"/><path d="M1513.62 1854.60L1523.02 1874.10L1504.22 1874.10Z" fill="#000000" stroke="#000" stroke-width="1.8" stroke-miterlimit="10"/><path d="M1531.89 1863.90L1541.29 1883.40L1522.49 1883.40Z" fill="#000000" stroke="#000" stroke-width="1.8" stroke-miterlimit="10"/><path d="M1550.16 1852.80L1559.56 1872.30L1540.76 1872.30Z" fill="#000000" stroke="#000" stroke-width="1.8" stroke-miterlimit="10"/><path d="M1568.42 1835.80L1577.82 1855.30L1559.02 1855.30Z" fill="#000000" stroke="#000" stroke-width="1.8" stroke-miterlimit="10"/><path d="M1586.69 1840.80L1596.09 1860.30L1577.29 1860.30Z" fill="#000000" stroke="#000" stroke-width="1.8" stroke-miterlimit="10"/><path d="M1604.96 1841.60L1614.36 1861.10L1595.56 1861.10Z" fill="#000000" stroke="#000" stroke-width="1.8" stroke-miterlimit="10"/><path d="M1623.22 1823.30L1632.62 1842.80L1613.82 1842.80Z" fill="#000000" stroke="#000" stroke-width="1.8" stroke-miterlimit="10"/><path d="M1641.49 1821.60L1650.89 1841.10L1632.09 1841.10Z" fill="#000000" stroke="#000" stroke-width="1.8" stroke-miterlimit="10"/><path d="M1659.76 1821.20L1669.16 1840.70L1650.36 1840.70Z" fill="#000000" stroke="#000" stroke-width="1.8" stroke-miterlimit="10"/><path d="M1678.03 1835.40L1687.43 1854.90L1668.63 1854.90Z" fill="#000000" stroke="#000" stroke-width="1.8" stroke-miterlimit="10"/><path d="M1696.29 1816.60L1705.69 1836.10L1686.89 1836.10Z" fill="#000000" stroke="#000" stroke-width="1.8" stroke-miterlimit="10"/><path d="M1714.56 1809.10L1723.96 1828.60L1705.16 1828.60Z" fill="#000000" stroke="#000" stroke-width="1.8" stroke-miterlimit="10"/><path d="M1732.83 1825.00L1742.23 1844.50L1723.43 1844.50Z" fill="#000000" stroke="#000" stroke-width="1.8" stroke-miterlimit="10"/><path d="M1751.09 1822.30L1760.49 1841.80L1741.69 1841.80Z" fill="#000000" stroke="#000" stroke-width="1.8" stroke-miterlimit="10"/><path d="M1769.36 1809.10L1778.76 1828.60L1759.96 1828.60Z" fill="#000000" stroke="#000" stroke-width="1.8" stroke-miterlimit="10"/><path d="M1787.63 1801.20L1797.03 1820.70L1778.23 1820.70Z" fill="#000000" stroke="#000" stroke-width="1.8" stroke-miterlimit="10"/><path d="M1805.89 1829.10L1815.30 1848.60L1796.49 1848.60Z" fill="#000000" stroke="#000" stroke-width="1.8" stroke-miterlimit="10"/><path d="M1824.16 1823.70L1833.56 1843.20L1814.76 1843.20Z" fill="#000000" stroke="#000" stroke-width="1.8" stroke-miterlimit="10"/></g>
<g><path d="M253.20 2215.30L262.60 2234.80L243.80 2234.80Z" fill="#fdbb13" stroke="#000" stroke-width="1.8" stroke-miterlimit="10"/><path d="M271.47 2204.60L280.87 2224.10L262.07 2224.10Z" fill="#fdbb13" stroke="#000" stroke-width="1.8" stroke-miterlimit="10"/><path d="M289.73 2206.00L299.13 2225.50L280.33 2225.50Z" fill="#fdbb13" stroke="#000" stroke-width="1.8" stroke-miterlimit="10"/><path d="M308.00 2207.30L317.40 2226.80L298.60 2226.80Z" fill="#fdbb13" stroke="#000" stroke-width="1.8" stroke-miterlimit="10"/><path d="M326.27 2210.70L335.67 2230.20L316.87 2230.20Z" fill="#fdbb13" stroke="#000" stroke-width="1.8" stroke-miterlimit="10"/><path d="M344.53 2218.30L353.93 2237.80L335.13 2237.80Z" fill="#fdbb13" stroke="#000" stroke-width="1.8" stroke-miterlimit="10"/><path d="M362.80 2205.20L372.20 2224.70L353.40 2224.70Z" fill="#fdbb13" stroke="#000" stroke-width="1.8" stroke-miterlimit="10"/><path d="M381.07 2199.20L390.47 2218.70L371.67 2218.70Z" fill="#fdbb13" stroke="#000" stroke-width="1.8" stroke-miterlimit="10"/><path d="M399.34 2207.30L408.74 2226.80L389.94 2226.80Z" fill="#fdbb13" stroke="#000" stroke-width="1.8" stroke-miterlimit="10"/><path d="M417.60 2208.70L427.00 2228.20L408.20 2228.20Z" fill="#fdbb13" stroke="#000" stroke-width="1.8" stroke-miterlimit="10"/><path d="M435.87 2201.20L445.27 2220.70L426.47 2220.70Z" fill="#fdbb13" stroke="#000" stroke-width="1.8" stroke-miterlimit="10"/><path d="M454.14 2201.20L463.54 2220.70L444.74 2220.70Z" fill="#fdbb13" stroke="#000" stroke-width="1.8" stroke-miterlimit="10"/><path d="M472.40 2204.00L481.80 2223.50L463.00 2223.50Z" fill="#fdbb13" stroke="#000" stroke-width="1.8" stroke-miterlimit="10"/><path d="M490.67 2195.50L500.07 2215.00L481.27 2215.00Z" fill="#fdbb13" stroke="#000" stroke-width="1.8" stroke-miterlimit="10"/><path d="M508.94 2195.50L518.34 2215.00L499.54 2215.00Z" fill="#fdbb13" stroke="#000" stroke-width="1.8" stroke-miterlimit="10"/><path d="M527.20 2195.90L536.60 2215.40L517.80 2215.40Z" fill="#fdbb13" stroke="#000" stroke-width="1.8" stroke-miterlimit="10"/><path d="M545.47 2189.80L554.87 2209.30L536.07 2209.30Z" fill="#fdbb13" stroke="#000" stroke-width="1.8" stroke-miterlimit="10"/><path d="M563.74 2188.80L573.14 2208.30L554.34 2208.30Z" fill="#fdbb13" stroke="#000" stroke-width="1.8" stroke-miterlimit="10"/><path d="M582.01 2187.80L591.41 2207.30L572.61 2207.30Z" fill="#fdbb13" stroke="#000" stroke-width="1.8" stroke-miterlimit="10"/><path d="M600.27 2184.80L609.67 2204.30L590.87 2204.30Z" fill="#fdbb13" stroke="#000" stroke-width="1.8" stroke-miterlimit="10"/><path d="M618.54 2177.80L627.94 2197.30L609.14 2197.30Z" fill="#fdbb13" stroke="#000" stroke-width="1.8" stroke-miterlimit="10"/><path d="M636.81 2171.80L646.21 2191.30L627.41 2191.30Z" fill="#fdbb13" stroke="#000" stroke-width="1.8" stroke-miterlimit="10"/><path d="M655.07 2165.70L664.47 2185.20L645.67 2185.20Z" fill="#fdbb13" stroke="#000" stroke-width="1.8" stroke-miterlimit="10"/><path d="M673.34 2158.60L682.74 2178.10L663.94 2178.10Z" fill="#fdbb13" stroke="#000" stroke-width="1.8" stroke-miterlimit="10"/><path d="M691.61 2155.80L701.01 2175.30L682.21 2175.30Z" fill="#fdbb13" stroke="#000" stroke-width="1.8" stroke-miterlimit="10"/><path d="M709.88 2134.30L719.27 2153.80L700.48 2153.80Z" fill="#fdbb13" stroke="#000" stroke-width="1.8" stroke-miterlimit="10"/><path d="M728.14 2129.30L737.54 2148.80L718.74 2148.80Z" fill="#fdbb13" stroke="#000" stroke-width="1.8" stroke-miterlimit="10"/><path d="M746.41 2127.60L755.81 2147.10L737.01 2147.10Z" fill="#fdbb13" stroke="#000" stroke-width="1.8" stroke-miterlimit="10"/><path d="M764.68 2113.50L774.08 2133.00L755.28 2133.00Z" fill="#fdbb13" stroke="#000" stroke-width="1.8" stroke-miterlimit="10"/><path d="M782.94 2100.80L792.34 2120.30L773.54 2120.30Z" fill="#fdbb13" stroke="#000" stroke-width="1.8" stroke-miterlimit="10"/><path d="M801.21 2085.80L810.61 2105.30L791.81 2105.30Z" fill="#fdbb13" stroke="#000" stroke-width="1.8" stroke-miterlimit="10"/><path d="M819.48 2082.80L828.88 2102.30L810.08 2102.30Z" fill="#fdbb13" stroke="#000" stroke-width="1.8" stroke-miterlimit="10"/><path d="M837.74 2059.80L847.14 2079.30L828.34 2079.30Z" fill="#fdbb13" stroke="#000" stroke-width="1.8" stroke-miterlimit="10"/><path d="M856.01 2048.80L865.41 2068.30L846.61 2068.30Z" fill="#fdbb13" stroke="#000" stroke-width="1.8" stroke-miterlimit="10"/><path d="M874.28 2043.60L883.68 2063.10L864.88 2063.10Z" fill="#fdbb13" stroke="#000" stroke-width="1.8" stroke-miterlimit="10"/><path d="M892.55 2030.40L901.95 2049.90L883.15 2049.90Z" fill="#fdbb13" stroke="#000" stroke-width="1.8" stroke-miterlimit="10"/><path d="M910.81 2014.40L920.21 2033.90L901.41 2033.90Z" fill="#fdbb13" stroke="#000" stroke-width="1.8" stroke-miterlimit="10"/><path d="M929.08 1957.60L938.48 1977.10L919.68 1977.10Z" fill="#fdbb13" stroke="#000" stroke-width="1.8" stroke-miterlimit="10"/><path d="M947.35 1966.10L956.75 1985.60L937.95 1985.60Z" fill="#fdbb13" stroke="#000" stroke-width="1.8" stroke-miterlimit="10"/><path d="M965.61 1876.30L975.01 1895.80L956.21 1895.80Z" fill="#fdbb13" stroke="#000" stroke-width="1.8" stroke-miterlimit="10"/><path d="M983.88 1980.10L993.28 1999.60L974.48 1999.60Z" fill="#fdbb13" stroke="#000" stroke-width="1.8" stroke-miterlimit="10"/><path d="M1002.15 1939.40L1011.55 1958.90L992.75 1958.90Z" fill="#fdbb13" stroke="#000" stroke-width="1.8" stroke-miterlimit="10"/><path d="M1020.41 1919.30L1029.81 1938.80L1011.01 1938.80Z" fill="#fdbb13" stroke="#000" stroke-width="1.8" stroke-miterlimit="10"/><path d="M1038.68 1904.60L1048.08 1924.10L1029.28 1924.10Z" fill="#fdbb13" stroke="#000" stroke-width="1.8" stroke-miterlimit="10"/><path d="M1056.95 1902.60L1066.35 1922.10L1047.55 1922.10Z" fill="#fdbb13" stroke="#000" stroke-width="1.8" stroke-miterlimit="10"/><path d="M1075.21 1881.00L1084.62 1900.50L1065.81 1900.50Z" fill="#fdbb13" stroke="#000" stroke-width="1.8" stroke-miterlimit="10"/><path d="M1093.48 1882.40L1102.88 1901.90L1084.08 1901.90Z" fill="#fdbb13" stroke="#000" stroke-width="1.8" stroke-miterlimit="10"/><path d="M1111.75 1882.40L1121.15 1901.90L1102.35 1901.90Z" fill="#fdbb13" stroke="#000" stroke-width="1.8" stroke-miterlimit="10"/><path d="M1130.02 1864.40L1139.42 1883.90L1120.62 1883.90Z" fill="#fdbb13" stroke="#000" stroke-width="1.8" stroke-miterlimit="10"/><path d="M1148.28 1851.00L1157.68 1870.50L1138.88 1870.50Z" fill="#fdbb13" stroke="#000" stroke-width="1.8" stroke-miterlimit="10"/><path d="M1166.55 1865.60L1175.95 1885.10L1157.15 1885.10Z" fill="#fdbb13" stroke="#000" stroke-width="1.8" stroke-miterlimit="10"/><path d="M1184.82 1847.30L1194.22 1866.80L1175.42 1866.80Z" fill="#fdbb13" stroke="#000" stroke-width="1.8" stroke-miterlimit="10"/><path d="M1203.08 1834.20L1212.48 1853.70L1193.68 1853.70Z" fill="#fdbb13" stroke="#000" stroke-width="1.8" stroke-miterlimit="10"/><path d="M1221.35 1851.40L1230.75 1870.90L1211.95 1870.90Z" fill="#fdbb13" stroke="#000" stroke-width="1.8" stroke-miterlimit="10"/><path d="M1239.62 1822.60L1249.02 1842.10L1230.22 1842.10Z" fill="#fdbb13" stroke="#000" stroke-width="1.8" stroke-miterlimit="10"/><path d="M1257.88 1831.50L1267.29 1851.00L1248.48 1851.00Z" fill="#fdbb13" stroke="#000" stroke-width="1.8" stroke-miterlimit="10"/><path d="M1276.15 1865.30L1285.55 1884.80L1266.75 1884.80Z" fill="#fdbb13" stroke="#000" stroke-width="1.8" stroke-miterlimit="10"/><path d="M1294.42 1859.10L1303.82 1878.60L1285.02 1878.60Z" fill="#fdbb13" stroke="#000" stroke-width="1.8" stroke-miterlimit="10"/><path d="M1312.69 1826.10L1322.09 1845.60L1303.29 1845.60Z" fill="#fdbb13" stroke="#000" stroke-width="1.8" stroke-miterlimit="10"/><path d="M1330.95 1830.10L1340.35 1849.60L1321.55 1849.60Z" fill="#fdbb13" stroke="#000" stroke-width="1.8" stroke-miterlimit="10"/><path d="M1349.22 1826.10L1358.62 1845.60L1339.82 1845.60Z" fill="#fdbb13" stroke="#000" stroke-width="1.8" stroke-miterlimit="10"/><path d="M1367.49 1808.90L1376.89 1828.40L1358.09 1828.40Z" fill="#fdbb13" stroke="#000" stroke-width="1.8" stroke-miterlimit="10"/><path d="M1385.75 1815.90L1395.15 1835.40L1376.35 1835.40Z" fill="#fdbb13" stroke="#000" stroke-width="1.8" stroke-miterlimit="10"/><path d="M1404.02 1842.30L1413.42 1861.80L1394.62 1861.80Z" fill="#fdbb13" stroke="#000" stroke-width="1.8" stroke-miterlimit="10"/><path d="M1422.29 1814.10L1431.69 1833.60L1412.89 1833.60Z" fill="#fdbb13" stroke="#000" stroke-width="1.8" stroke-miterlimit="10"/><path d="M1440.56 1820.00L1449.96 1839.50L1431.15 1839.50Z" fill="#fdbb13" stroke="#000" stroke-width="1.8" stroke-miterlimit="10"/><path d="M1458.82 1827.90L1468.22 1847.40L1449.42 1847.40Z" fill="#fdbb13" stroke="#000" stroke-width="1.8" stroke-miterlimit="10"/><path d="M1477.09 1841.20L1486.49 1860.70L1467.69 1860.70Z" fill="#fdbb13" stroke="#000" stroke-width="1.8" stroke-miterlimit="10"/><path d="M1495.36 1831.10L1504.76 1850.60L1485.96 1850.60Z" fill="#fdbb13" stroke="#000" stroke-width="1.8" stroke-miterlimit="10"/><path d="M1513.62 1827.70L1523.02 1847.20L1504.22 1847.20Z" fill="#fdbb13" stroke="#000" stroke-width="1.8" stroke-miterlimit="10"/><path d="M1531.89 1851.40L1541.29 1870.90L1522.49 1870.90Z" fill="#fdbb13" stroke="#000" stroke-width="1.8" stroke-miterlimit="10"/><path d="M1550.16 1845.40L1559.56 1864.90L1540.76 1864.90Z" fill="#fdbb13" stroke="#000" stroke-width="1.8" stroke-miterlimit="10"/><path d="M1568.42 1832.10L1577.82 1851.60L1559.02 1851.60Z" fill="#fdbb13" stroke="#000" stroke-width="1.8" stroke-miterlimit="10"/><path d="M1586.69 1834.80L1596.09 1854.30L1577.29 1854.30Z" fill="#fdbb13" stroke="#000" stroke-width="1.8" stroke-miterlimit="10"/><path d="M1604.96 1850.60L1614.36 1870.10L1595.56 1870.10Z" fill="#fdbb13" stroke="#000" stroke-width="1.8" stroke-miterlimit="10"/><path d="M1623.22 1831.20L1632.62 1850.70L1613.82 1850.70Z" fill="#fdbb13" stroke="#000" stroke-width="1.8" stroke-miterlimit="10"/><path d="M1641.49 1835.80L1650.89 1855.30L1632.09 1855.30Z" fill="#fdbb13" stroke="#000" stroke-width="1.8" stroke-miterlimit="10"/><path d="M1659.76 1842.10L1669.16 1861.60L1650.36 1861.60Z" fill="#fdbb13" stroke="#000" stroke-width="1.8" stroke-miterlimit="10"/><path d="M1678.03 1856.20L1687.43 1875.70L1668.63 1875.70Z" fill="#fdbb13" stroke="#000" stroke-width="1.8" stroke-miterlimit="10"/><path d="M1696.29 1847.50L1705.69 1867.00L1686.89 1867.00Z" fill="#fdbb13" stroke="#000" stroke-width="1.8" stroke-miterlimit="10"/><path d="M1714.56 1843.30L1723.96 1862.80L1705.16 1862.80Z" fill="#fdbb13" stroke="#000" stroke-width="1.8" stroke-miterlimit="10"/><path d="M1732.83 1853.90L1742.23 1873.40L1723.43 1873.40Z" fill="#fdbb13" stroke="#000" stroke-width="1.8" stroke-miterlimit="10"/><path d="M1751.09 1859.10L1760.49 1878.60L1741.69 1878.60Z" fill="#fdbb13" stroke="#000" stroke-width="1.8" stroke-miterlimit="10"/><path d="M1769.36 1843.30L1778.76 1862.80L1759.96 1862.80Z" fill="#fdbb13" stroke="#000" stroke-width="1.8" stroke-miterlimit="10"/><path d="M1787.63 1844.80L1797.03 1864.30L1778.23 1864.30Z" fill="#fdbb13" stroke="#000" stroke-width="1.8" stroke-miterlimit="10"/><path d="M1805.89 1863.10L1815.30 1882.60L1796.49 1882.60Z" fill="#fdbb13" stroke="#000" stroke-width="1.8" stroke-miterlimit="10"/><path d="M1824.16 1859.10L1833.56 1878.60L1814.76 1878.60Z" fill="#fdbb13" stroke="#000" stroke-width="1.8" stroke-miterlimit="10"/></g>
<g><path d="M253.20 2216.20L262.60 2235.70L243.80 2235.70Z" fill="#ed2024" stroke="#000" stroke-width="1.8" stroke-miterlimit="10"/><path d="M271.47 2199.00L280.87 2218.50L262.07 2218.50Z" fill="#ed2024" stroke="#000" stroke-width="1.8" stroke-miterlimit="10"/><path d="M289.73 2200.40L299.13 2219.90L280.33 2219.90Z" fill="#ed2024" stroke="#000" stroke-width="1.8" stroke-miterlimit="10"/><path d="M308.00 2202.40L317.40 2221.90L298.60 2221.90Z" fill="#ed2024" stroke="#000" stroke-width="1.8" stroke-miterlimit="10"/><path d="M326.27 2205.40L335.67 2224.90L316.87 2224.90Z" fill="#ed2024" stroke="#000" stroke-width="1.8" stroke-miterlimit="10"/><path d="M344.53 2203.80L353.93 2223.30L335.13 2223.30Z" fill="#ed2024" stroke="#000" stroke-width="1.8" stroke-miterlimit="10"/><path d="M362.80 2200.40L372.20 2219.90L353.40 2219.90Z" fill="#ed2024" stroke="#000" stroke-width="1.8" stroke-miterlimit="10"/><path d="M381.07 2191.70L390.47 2211.20L371.67 2211.20Z" fill="#ed2024" stroke="#000" stroke-width="1.8" stroke-miterlimit="10"/><path d="M399.34 2201.20L408.74 2220.70L389.94 2220.70Z" fill="#ed2024" stroke="#000" stroke-width="1.8" stroke-miterlimit="10"/><path d="M417.60 2194.50L427.00 2214.00L408.20 2214.00Z" fill="#ed2024" stroke="#000" stroke-width="1.8" stroke-miterlimit="10"/><path d="M435.87 2190.50L445.27 2210.00L426.47 2210.00Z" fill="#ed2024" stroke="#000" stroke-width="1.8" stroke-miterlimit="10"/><path d="M454.14 2196.90L463.54 2216.40L444.74 2216.40Z" fill="#ed2024" stroke="#000" stroke-width="1.8" stroke-miterlimit="10"/><path d="M472.40 2193.70L481.80 2213.20L463.00 2213.20Z" fill="#ed2024" stroke="#000" stroke-width="1.8" stroke-miterlimit="10"/><path d="M490.67 2190.50L500.07 2210.00L481.27 2210.00Z" fill="#ed2024" stroke="#000" stroke-width="1.8" stroke-miterlimit="10"/><path d="M508.94 2191.90L518.34 2211.40L499.54 2211.40Z" fill="#ed2024" stroke="#000" stroke-width="1.8" stroke-miterlimit="10"/><path d="M527.20 2191.10L536.60 2210.60L517.80 2210.60Z" fill="#ed2024" stroke="#000" stroke-width="1.8" stroke-miterlimit="10"/><path d="M545.47 2186.40L554.87 2205.90L536.07 2205.90Z" fill="#ed2024" stroke="#000" stroke-width="1.8" stroke-miterlimit="10"/><path d="M563.74 2186.60L573.14 2206.10L554.34 2206.10Z" fill="#ed2024" stroke="#000" stroke-width="1.8" stroke-miterlimit="10"/><path d="M582.01 2185.70L591.41 2205.20L572.61 2205.20Z" fill="#ed2024" stroke="#000" stroke-width="1.8" stroke-miterlimit="10"/><path d="M600.27 2182.50L609.67 2202.00L590.87 2202.00Z" fill="#ed2024" stroke="#000" stroke-width="1.8" stroke-miterlimit="10"/><path d="M618.54 2174.80L627.94 2194.30L609.14 2194.30Z" fill="#ed2024" stroke="#000" stroke-width="1.8" stroke-miterlimit="10"/><path d="M636.81 2177.00L646.21 2196.50L627.41 2196.50Z" fill="#ed2024" stroke="#000" stroke-width="1.8" stroke-miterlimit="10"/><path d="M655.07 2170.90L664.47 2190.40L645.67 2190.40Z" fill="#ed2024" stroke="#000" stroke-width="1.8" stroke-miterlimit="10"/><path d="M673.34 2166.90L682.74 2186.40L663.94 2186.40Z" fill="#ed2024" stroke="#000" stroke-width="1.8" stroke-miterlimit="10"/><path d="M691.61 2158.80L701.01 2178.30L682.21 2178.30Z" fill="#ed2024" stroke="#000" stroke-width="1.8" stroke-miterlimit="10"/><path d="M709.88 2153.70L719.27 2173.20L700.48 2173.20Z" fill="#ed2024" stroke="#000" stroke-width="1.8" stroke-miterlimit="10"/><path d="M728.14 2143.80L737.54 2163.30L718.74 2163.30Z" fill="#ed2024" stroke="#000" stroke-width="1.8" stroke-miterlimit="10"/><path d="M746.41 2140.80L755.81 2160.30L737.01 2160.30Z" fill="#ed2024" stroke="#000" stroke-width="1.8" stroke-miterlimit="10"/><path d="M764.68 2125.20L774.08 2144.70L755.28 2144.70Z" fill="#ed2024" stroke="#000" stroke-width="1.8" stroke-miterlimit="10"/><path d="M782.94 2112.60L792.34 2132.10L773.54 2132.10Z" fill="#ed2024" stroke="#000" stroke-width="1.8" stroke-miterlimit="10"/><path d="M801.21 2104.80L810.61 2124.30L791.81 2124.30Z" fill="#ed2024" stroke="#000" stroke-width="1.8" stroke-miterlimit="10"/><path d="M819.48 2086.40L828.88 2105.90L810.08 2105.90Z" fill="#ed2024" stroke="#000" stroke-width="1.8" stroke-miterlimit="10"/><path d="M837.74 2070.10L847.14 2089.60L828.34 2089.60Z" fill="#ed2024" stroke="#000" stroke-width="1.8" stroke-miterlimit="10"/><path d="M856.01 2051.20L865.41 2070.70L846.61 2070.70Z" fill="#ed2024" stroke="#000" stroke-width="1.8" stroke-miterlimit="10"/><path d="M874.28 2031.90L883.68 2051.40L864.88 2051.40Z" fill="#ed2024" stroke="#000" stroke-width="1.8" stroke-miterlimit="10"/><path d="M892.55 2009.90L901.95 2029.40L883.15 2029.40Z" fill="#ed2024" stroke="#000" stroke-width="1.8" stroke-miterlimit="10"/><path d="M910.81 1985.80L920.21 2005.30L901.41 2005.30Z" fill="#ed2024" stroke="#000" stroke-width="1.8" stroke-miterlimit="10"/><path d="M929.08 1967.50L938.48 1987.00L919.68 1987.00Z" fill="#ed2024" stroke="#000" stroke-width="1.8" stroke-miterlimit="10"/><path d="M947.35 1945.80L956.75 1965.30L937.95 1965.30Z" fill="#ed2024" stroke="#000" stroke-width="1.8" stroke-miterlimit="10"/><path d="M965.61 1923.60L975.01 1943.10L956.21 1943.10Z" fill="#ed2024" stroke="#000" stroke-width="1.8" stroke-miterlimit="10"/><path d="M983.88 1915.50L993.28 1935.00L974.48 1935.00Z" fill="#ed2024" stroke="#000" stroke-width="1.8" stroke-miterlimit="10"/><path d="M1002.15 1894.00L1011.55 1913.50L992.75 1913.50Z" fill="#ed2024" stroke="#000" stroke-width="1.8" stroke-miterlimit="10"/><path d="M1020.41 1882.40L1029.81 1901.90L1011.01 1901.90Z" fill="#ed2024" stroke="#000" stroke-width="1.8" stroke-miterlimit="10"/><path d="M1038.68 1876.30L1048.08 1895.80L1029.28 1895.80Z" fill="#ed2024" stroke="#000" stroke-width="1.8" stroke-miterlimit="10"/><path d="M1056.95 1847.40L1066.35 1866.90L1047.55 1866.90Z" fill="#ed2024" stroke="#000" stroke-width="1.8" stroke-miterlimit="10"/><path d="M1075.21 1844.50L1084.62 1864.00L1065.81 1864.00Z" fill="#ed2024" stroke="#000" stroke-width="1.8" stroke-miterlimit="10"/><path d="M1093.48 1841.90L1102.88 1861.40L1084.08 1861.40Z" fill="#ed2024" stroke="#000" stroke-width="1.8" stroke-miterlimit="10"/><path d="M1111.75 1831.80L1121.15 1851.30L1102.35 1851.30Z" fill="#ed2024" stroke="#000" stroke-width="1.8" stroke-miterlimit="10"/><path d="M1130.02 1810.50L1139.42 1830.00L1120.62 1830.00Z" fill="#ed2024" stroke="#000" stroke-width="1.8" stroke-miterlimit="10"/><path d="M1148.28 1783.00L1157.68 1802.50L1138.88 1802.50Z" fill="#ed2024" stroke="#000" stroke-width="1.8" stroke-miterlimit="10"/><path d="M1166.55 1792.30L1175.95 1811.80L1157.15 1811.80Z" fill="#ed2024" stroke="#000" stroke-width="1.8" stroke-miterlimit="10"/><path d="M1184.82 1766.20L1194.22 1785.70L1175.42 1785.70Z" fill="#ed2024" stroke="#000" stroke-width="1.8" stroke-miterlimit="10"/><path d="M1203.08 1750.40L1212.48 1769.90L1193.68 1769.90Z" fill="#ed2024" stroke="#000" stroke-width="1.8" stroke-miterlimit="10"/><path d="M1221.35 1766.40L1230.75 1785.90L1211.95 1785.90Z" fill="#ed2024" stroke="#000" stroke-width="1.8" stroke-miterlimit="10"/><path d="M1239.62 1732.00L1249.02 1751.50L1230.22 1751.50Z" fill="#ed2024" stroke="#000" stroke-width="1.8" stroke-miterlimit="10"/><path d="M1257.88 1728.10L1267.29 1747.60L1248.48 1747.60Z" fill="#ed2024" stroke="#000" stroke-width="1.8" stroke-miterlimit="10"/><path d="M1276.15 1761.30L1285.55 1780.80L1266.75 1780.80Z" fill="#ed2024" stroke="#000" stroke-width="1.8" stroke-miterlimit="10"/><path d="M1294.42 1743.90L1303.82 1763.40L1285.02 1763.40Z" fill="#ed2024" stroke="#000" stroke-width="1.8" stroke-miterlimit="10"/><path d="M1312.69 1701.60L1322.09 1721.10L1303.29 1721.10Z" fill="#ed2024" stroke="#000" stroke-width="1.8" stroke-miterlimit="10"/><path d="M1330.95 1709.70L1340.35 1729.20L1321.55 1729.20Z" fill="#ed2024" stroke="#000" stroke-width="1.8" stroke-miterlimit="10"/><path d="M1349.22 1698.00L1358.62 1717.50L1339.82 1717.50Z" fill="#ed2024" stroke="#000" stroke-width="1.8" stroke-miterlimit="10"/><path d="M1367.49 1678.10L1376.89 1697.60L1358.09 1697.60Z" fill="#ed2024" stroke="#000" stroke-width="1.8" stroke-miterlimit="10"/><path d="M1385.75 1676.90L1395.15 1696.40L1376.35 1696.40Z" fill="#ed2024" stroke="#000" stroke-width="1.8" stroke-miterlimit="10"/><path d="M1404.02 1703.20L1413.42 1722.70L1394.62 1722.70Z" fill="#ed2024" stroke="#000" stroke-width="1.8" stroke-miterlimit="10"/><path d="M1422.29 1673.30L1431.69 1692.80L1412.89 1692.80Z" fill="#ed2024" stroke="#000" stroke-width="1.8" stroke-miterlimit="10"/><path d="M1440.56 1682.40L1449.96 1701.90L1431.15 1701.90Z" fill="#ed2024" stroke="#000" stroke-width="1.8" stroke-miterlimit="10"/><path d="M1458.82 1685.00L1468.22 1704.50L1449.42 1704.50Z" fill="#ed2024" stroke="#000" stroke-width="1.8" stroke-miterlimit="10"/><path d="M1477.09 1702.40L1486.49 1721.90L1467.69 1721.90Z" fill="#ed2024" stroke="#000" stroke-width="1.8" stroke-miterlimit="10"/><path d="M1495.36 1686.20L1504.76 1705.70L1485.96 1705.70Z" fill="#ed2024" stroke="#000" stroke-width="1.8" stroke-miterlimit="10"/><path d="M1513.62 1684.80L1523.02 1704.30L1504.22 1704.30Z" fill="#ed2024" stroke="#000" stroke-width="1.8" stroke-miterlimit="10"/><path d="M1531.89 1711.80L1541.29 1731.30L1522.49 1731.30Z" fill="#ed2024" stroke="#000" stroke-width="1.8" stroke-miterlimit="10"/><path d="M1550.16 1699.00L1559.56 1718.50L1540.76 1718.50Z" fill="#ed2024" stroke="#000" stroke-width="1.8" stroke-miterlimit="10"/><path d="M1568.42 1681.90L1577.82 1701.40L1559.02 1701.40Z" fill="#ed2024" stroke="#000" stroke-width="1.8" stroke-miterlimit="10"/><path d="M1586.69 1691.50L1596.09 1711.00L1577.29 1711.00Z" fill="#ed2024" stroke="#000" stroke-width="1.8" stroke-miterlimit="10"/><path d="M1604.96 1702.10L1614.36 1721.60L1595.56 1721.60Z" fill="#ed2024" stroke="#000" stroke-width="1.8" stroke-miterlimit="10"/><path d="M1623.22 1683.10L1632.62 1702.60L1613.82 1702.60Z" fill="#ed2024" stroke="#000" stroke-width="1.8" stroke-miterlimit="10"/><path d="M1641.49 1686.20L1650.89 1705.70L1632.09 1705.70Z" fill="#ed2024" stroke="#000" stroke-width="1.8" stroke-miterlimit="10"/><path d="M1659.76 1687.20L1669.16 1706.70L1650.36 1706.70Z" fill="#ed2024" stroke="#000" stroke-width="1.8" stroke-miterlimit="10"/><path d="M1678.03 1703.30L1687.43 1722.80L1668.63 1722.80Z" fill="#ed2024" stroke="#000" stroke-width="1.8" stroke-miterlimit="10"/><path d="M1696.29 1693.80L1705.69 1713.30L1686.89 1713.30Z" fill="#ed2024" stroke="#000" stroke-width="1.8" stroke-miterlimit="10"/><path d="M1714.56 1679.20L1723.96 1698.70L1705.16 1698.70Z" fill="#ed2024" stroke="#000" stroke-width="1.8" stroke-miterlimit="10"/><path d="M1732.83 1701.70L1742.23 1721.20L1723.43 1721.20Z" fill="#ed2024" stroke="#000" stroke-width="1.8" stroke-miterlimit="10"/><path d="M1751.09 1708.50L1760.49 1728.00L1741.69 1728.00Z" fill="#ed2024" stroke="#000" stroke-width="1.8" stroke-miterlimit="10"/><path d="M1769.36 1691.30L1778.76 1710.80L1759.96 1710.80Z" fill="#ed2024" stroke="#000" stroke-width="1.8" stroke-miterlimit="10"/><path d="M1787.63 1684.60L1797.03 1704.10L1778.23 1704.10Z" fill="#ed2024" stroke="#000" stroke-width="1.8" stroke-miterlimit="10"/><path d="M1805.89 1705.80L1815.30 1725.30L1796.49 1725.30Z" fill="#ed2024" stroke="#000" stroke-width="1.8" stroke-miterlimit="10"/><path d="M1824.16 1700.80L1833.56 1720.30L1814.76 1720.30Z" fill="#ed2024" stroke="#000" stroke-width="1.8" stroke-miterlimit="10"/></g>
<rect x="470" y="2417.3" width="41.4" height="40.7" fill="#231f20" stroke="#000" stroke-width="2.4"/>
<rect x="929.7" y="2417.3" width="41" height="40.7" fill="#ffd020" stroke="#000" stroke-width="2.4"/>
<rect x="1334" y="2417.7" width="41.6" height="40.3" fill="#ed1c24" stroke="#000" stroke-width="2.4"/>
<text transform="translate(524.74,2455.50) scale(0.9493,1)" font-size="44.20" font-weight="normal" >Founder</text>
<text transform="translate(717.60,2455.50) scale(0.9040,1)" font-size="44.20" font-weight="normal" >Δe14</text>
<text transform="translate(983.19,2455.50) scale(0.8819,1)" font-size="44.20" font-weight="normal" >IR9-100-2</text>
<text transform="translate(1382.49,2455.50) scale(0.8836,1)" font-size="44.20" font-weight="normal" >IR10-100-1</text>
</svg></body></html>
